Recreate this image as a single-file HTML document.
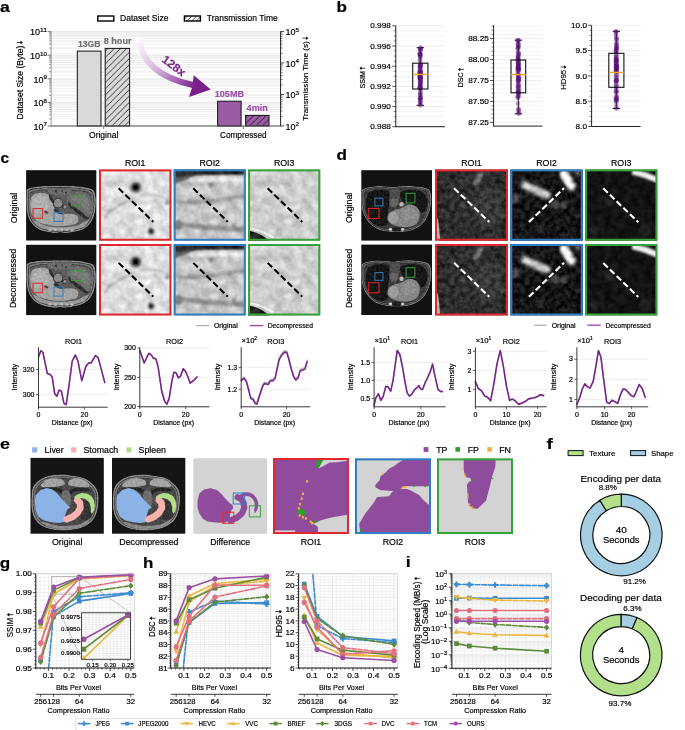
<!DOCTYPE html>
<html><head><meta charset="utf-8"><style>
html,body{margin:0;padding:0;background:#fff;}
svg{display:block;font-family:"Liberation Sans",sans-serif;filter:blur(0.3px);}
</style></head><body>
<svg width="685" height="730" viewBox="0 0 685 730">
<defs>
<pattern id="hatchB" patternUnits="userSpaceOnUse" width="6.26" height="6.26">
<path d="M-1,1 L1,-1 M0,6.26 L6.26,0 M5.26,7.26 L7.26,5.26" stroke="#111" stroke-width="0.8"/></pattern>
<pattern id="hatchW" patternUnits="userSpaceOnUse" width="4.6" height="4.6" x="0.5" y="0.5">
<rect width="4.6" height="4.6" fill="#fff"/><path d="M-1,1 L1,-1 M0,4.6 L4.6,0 M3.6,5.6 L5.6,3.6" stroke="#111" stroke-width="0.75"/></pattern>
<linearGradient id="arrG" gradientUnits="userSpaceOnUse" x1="136" y1="38" x2="195" y2="88">
<stop offset="0" stop-color="#ffffff"/><stop offset="0.45" stop-color="#d6b8dc"/><stop offset="1" stop-color="#7a1f8c"/></linearGradient>

<filter id="blur05" x="-10%" y="-10%" width="120%" height="120%"><feGaussianBlur stdDeviation="0.45"/></filter>
<filter id="nzCT" x="0" y="0" width="100%" height="100%" color-interpolation-filters="sRGB">
<feTurbulence type="fractalNoise" baseFrequency="0.45" numOctaves="2" seed="3" result="t"/>
<feColorMatrix in="t" type="matrix" values="1 0 0 0 0  1 0 0 0 0  1 0 0 0 0  0 0 0 0 1" result="g"/>
<feComposite in="SourceGraphic" in2="g" operator="arithmetic" k1="0" k2="1" k3="0.2" k4="-0.1" result="c"/>
<feComposite in="c" in2="SourceGraphic" operator="in"/></filter>
<filter id="nzL" x="0" y="0" width="100%" height="100%" color-interpolation-filters="sRGB">
<feTurbulence type="fractalNoise" baseFrequency="0.11" numOctaves="3" seed="5" result="t"/>
<feColorMatrix in="t" type="matrix" values="1 0 0 0 0  1 0 0 0 0  1 0 0 0 0  0 0 0 0 1" result="g"/>
<feComposite in="SourceGraphic" in2="g" operator="arithmetic" k1="0" k2="1" k3="0.32" k4="-0.16"/></filter>
<filter id="nzD" x="0" y="0" width="100%" height="100%" color-interpolation-filters="sRGB">
<feTurbulence type="fractalNoise" baseFrequency="0.2" numOctaves="3" seed="9" result="t"/>
<feColorMatrix in="t" type="matrix" values="1 0 0 0 0  1 0 0 0 0  1 0 0 0 0  0 0 0 0 1" result="g"/>
<feComposite in="SourceGraphic" in2="g" operator="arithmetic" k1="0" k2="1" k3="0.3" k4="-0.15"/></filter>
<filter id="blur06" x="-30%" y="-30%" width="160%" height="160%"><feGaussianBlur stdDeviation="0.6"/></filter>
<filter id="blur1" x="-30%" y="-30%" width="160%" height="160%"><feGaussianBlur stdDeviation="1.2"/></filter>
<filter id="noiseL" x="0" y="0" width="100%" height="100%"><feTurbulence type="fractalNoise" baseFrequency="0.35" numOctaves="2" seed="7"/>
<feColorMatrix type="matrix" values="0 0 0 0 0  0 0 0 0 0  0 0 0 0 0  0 0 0 -0.9 0.45"/></filter>

<filter id="blur15" x="-20%" y="-20%" width="140%" height="140%"><feGaussianBlur stdDeviation="1.8"/></filter>
<filter id="nzD3" x="0" y="0" width="100%" height="100%" color-interpolation-filters="sRGB">
<feTurbulence type="fractalNoise" baseFrequency="0.15" numOctaves="2" seed="4" result="t"/>
<feColorMatrix in="t" type="matrix" values="1 0 0 0 0  1 0 0 0 0  1 0 0 0 0  0 0 0 0 1" result="g"/>
<feComposite in="SourceGraphic" in2="g" operator="arithmetic" k1="0" k2="1" k3="0.14" k4="-0.07"/></filter>
<filter id="noiseD" x="0" y="0" width="100%" height="100%"><feTurbulence type="fractalNoise" baseFrequency="0.22" numOctaves="2" seed="11"/>
<feColorMatrix type="matrix" values="0 0 0 0 1  0 0 0 0 1  0 0 0 0 1  1.2 0 0 0 -0.55"/></filter>
</defs>
<rect width="685" height="730" fill="#fff"/>
<text x="0.00" y="11.80" font-size="15.40" font-weight="bold" stroke="#000" stroke-width="0.18" textLength="9.85" lengthAdjust="spacingAndGlyphs">a</text>
<rect x="97.80" y="16.00" width="16.00" height="5.00" fill="#fff" stroke="#000" stroke-width="1.4"/>
<text x="120.00" y="21.20" font-size="8.47" stroke="#000" stroke-width="0.18" textLength="48.41" lengthAdjust="spacingAndGlyphs">Dataset Size</text>
<rect x="184.40" y="16.00" width="16.00" height="5.00" fill="url(#hatchW)" stroke="#000" stroke-width="1.4"/>
<text x="206.80" y="21.20" font-size="8.47" stroke="#000" stroke-width="0.18" textLength="71.03" lengthAdjust="spacingAndGlyphs">Transmission Time</text>
<line x1="51.10" y1="126.00" x2="280.60" y2="126.00" stroke="#e2e2e2" stroke-width="0.8" />
<line x1="51.10" y1="118.90" x2="280.60" y2="118.90" stroke="#ebebeb" stroke-width="0.8" />
<line x1="51.10" y1="114.74" x2="280.60" y2="114.74" stroke="#ebebeb" stroke-width="0.8" />
<line x1="51.10" y1="111.79" x2="280.60" y2="111.79" stroke="#ebebeb" stroke-width="0.8" />
<line x1="51.10" y1="109.50" x2="280.60" y2="109.50" stroke="#ebebeb" stroke-width="0.8" />
<line x1="51.10" y1="107.64" x2="280.60" y2="107.64" stroke="#ebebeb" stroke-width="0.8" />
<line x1="51.10" y1="106.06" x2="280.60" y2="106.06" stroke="#ebebeb" stroke-width="0.8" />
<line x1="51.10" y1="104.69" x2="280.60" y2="104.69" stroke="#ebebeb" stroke-width="0.8" />
<line x1="51.10" y1="103.48" x2="280.60" y2="103.48" stroke="#ebebeb" stroke-width="0.8" />
<line x1="51.10" y1="102.40" x2="280.60" y2="102.40" stroke="#e2e2e2" stroke-width="0.8" />
<line x1="51.10" y1="95.30" x2="280.60" y2="95.30" stroke="#ebebeb" stroke-width="0.8" />
<line x1="51.10" y1="91.14" x2="280.60" y2="91.14" stroke="#ebebeb" stroke-width="0.8" />
<line x1="51.10" y1="88.19" x2="280.60" y2="88.19" stroke="#ebebeb" stroke-width="0.8" />
<line x1="51.10" y1="85.90" x2="280.60" y2="85.90" stroke="#ebebeb" stroke-width="0.8" />
<line x1="51.10" y1="84.04" x2="280.60" y2="84.04" stroke="#ebebeb" stroke-width="0.8" />
<line x1="51.10" y1="82.46" x2="280.60" y2="82.46" stroke="#ebebeb" stroke-width="0.8" />
<line x1="51.10" y1="81.09" x2="280.60" y2="81.09" stroke="#ebebeb" stroke-width="0.8" />
<line x1="51.10" y1="79.88" x2="280.60" y2="79.88" stroke="#ebebeb" stroke-width="0.8" />
<line x1="51.10" y1="78.80" x2="280.60" y2="78.80" stroke="#e2e2e2" stroke-width="0.8" />
<line x1="51.10" y1="71.70" x2="280.60" y2="71.70" stroke="#ebebeb" stroke-width="0.8" />
<line x1="51.10" y1="67.54" x2="280.60" y2="67.54" stroke="#ebebeb" stroke-width="0.8" />
<line x1="51.10" y1="64.59" x2="280.60" y2="64.59" stroke="#ebebeb" stroke-width="0.8" />
<line x1="51.10" y1="62.30" x2="280.60" y2="62.30" stroke="#ebebeb" stroke-width="0.8" />
<line x1="51.10" y1="60.44" x2="280.60" y2="60.44" stroke="#ebebeb" stroke-width="0.8" />
<line x1="51.10" y1="58.86" x2="280.60" y2="58.86" stroke="#ebebeb" stroke-width="0.8" />
<line x1="51.10" y1="57.49" x2="280.60" y2="57.49" stroke="#ebebeb" stroke-width="0.8" />
<line x1="51.10" y1="56.28" x2="280.60" y2="56.28" stroke="#ebebeb" stroke-width="0.8" />
<line x1="51.10" y1="55.20" x2="280.60" y2="55.20" stroke="#e2e2e2" stroke-width="0.8" />
<line x1="51.10" y1="48.10" x2="280.60" y2="48.10" stroke="#ebebeb" stroke-width="0.8" />
<line x1="51.10" y1="43.94" x2="280.60" y2="43.94" stroke="#ebebeb" stroke-width="0.8" />
<line x1="51.10" y1="40.99" x2="280.60" y2="40.99" stroke="#ebebeb" stroke-width="0.8" />
<line x1="51.10" y1="38.70" x2="280.60" y2="38.70" stroke="#ebebeb" stroke-width="0.8" />
<line x1="51.10" y1="36.84" x2="280.60" y2="36.84" stroke="#ebebeb" stroke-width="0.8" />
<line x1="51.10" y1="35.26" x2="280.60" y2="35.26" stroke="#ebebeb" stroke-width="0.8" />
<line x1="51.10" y1="33.89" x2="280.60" y2="33.89" stroke="#ebebeb" stroke-width="0.8" />
<line x1="51.10" y1="32.68" x2="280.60" y2="32.68" stroke="#ebebeb" stroke-width="0.8" />
<line x1="51.10" y1="126.00" x2="280.60" y2="126.00" stroke="#efefef" stroke-width="0.7" />
<line x1="51.10" y1="116.52" x2="280.60" y2="116.52" stroke="#efefef" stroke-width="0.7" />
<line x1="51.10" y1="110.97" x2="280.60" y2="110.97" stroke="#efefef" stroke-width="0.7" />
<line x1="51.10" y1="107.04" x2="280.60" y2="107.04" stroke="#efefef" stroke-width="0.7" />
<line x1="51.10" y1="103.98" x2="280.60" y2="103.98" stroke="#efefef" stroke-width="0.7" />
<line x1="51.10" y1="101.49" x2="280.60" y2="101.49" stroke="#efefef" stroke-width="0.7" />
<line x1="51.10" y1="99.38" x2="280.60" y2="99.38" stroke="#efefef" stroke-width="0.7" />
<line x1="51.10" y1="97.55" x2="280.60" y2="97.55" stroke="#efefef" stroke-width="0.7" />
<line x1="51.10" y1="95.94" x2="280.60" y2="95.94" stroke="#efefef" stroke-width="0.7" />
<line x1="51.10" y1="94.50" x2="280.60" y2="94.50" stroke="#efefef" stroke-width="0.7" />
<line x1="51.10" y1="85.02" x2="280.60" y2="85.02" stroke="#efefef" stroke-width="0.7" />
<line x1="51.10" y1="79.47" x2="280.60" y2="79.47" stroke="#efefef" stroke-width="0.7" />
<line x1="51.10" y1="75.54" x2="280.60" y2="75.54" stroke="#efefef" stroke-width="0.7" />
<line x1="51.10" y1="72.48" x2="280.60" y2="72.48" stroke="#efefef" stroke-width="0.7" />
<line x1="51.10" y1="69.99" x2="280.60" y2="69.99" stroke="#efefef" stroke-width="0.7" />
<line x1="51.10" y1="67.88" x2="280.60" y2="67.88" stroke="#efefef" stroke-width="0.7" />
<line x1="51.10" y1="66.05" x2="280.60" y2="66.05" stroke="#efefef" stroke-width="0.7" />
<line x1="51.10" y1="64.44" x2="280.60" y2="64.44" stroke="#efefef" stroke-width="0.7" />
<line x1="51.10" y1="63.00" x2="280.60" y2="63.00" stroke="#efefef" stroke-width="0.7" />
<line x1="51.10" y1="53.52" x2="280.60" y2="53.52" stroke="#efefef" stroke-width="0.7" />
<line x1="51.10" y1="47.97" x2="280.60" y2="47.97" stroke="#efefef" stroke-width="0.7" />
<line x1="51.10" y1="44.04" x2="280.60" y2="44.04" stroke="#efefef" stroke-width="0.7" />
<line x1="51.10" y1="40.98" x2="280.60" y2="40.98" stroke="#efefef" stroke-width="0.7" />
<line x1="51.10" y1="38.49" x2="280.60" y2="38.49" stroke="#efefef" stroke-width="0.7" />
<line x1="51.10" y1="36.38" x2="280.60" y2="36.38" stroke="#efefef" stroke-width="0.7" />
<line x1="51.10" y1="34.55" x2="280.60" y2="34.55" stroke="#efefef" stroke-width="0.7" />
<line x1="51.10" y1="32.94" x2="280.60" y2="32.94" stroke="#efefef" stroke-width="0.7" />
<line x1="51.10" y1="31.50" x2="280.60" y2="31.50" stroke="#e2e2e2" stroke-width="0.8" />
<rect x="77.30" y="51.10" width="23.70" height="74.90" fill="#d9d9d9" stroke="#111" stroke-width="1"/>
<rect x="105.20" y="48.40" width="24.40" height="77.60" fill="#d9d9d9" stroke="none" stroke-width="1"/>
<rect x="105.20" y="48.40" width="24.40" height="77.60" fill="url(#hatchB)" stroke="#111" stroke-width="1"/>
<rect x="217.60" y="101.20" width="23.50" height="24.80" fill="#9b5ba5" stroke="#111" stroke-width="1"/>
<rect x="245.60" y="115.40" width="23.40" height="10.60" fill="#9b5ba5" stroke="none" stroke-width="1"/>
<rect x="245.60" y="115.40" width="23.40" height="10.60" fill="url(#hatchB)" stroke="#111" stroke-width="1"/>
<line x1="51.10" y1="31.50" x2="51.10" y2="126.00" stroke="#999" stroke-width="1" />
<line x1="50.60" y1="126.00" x2="281.10" y2="126.00" stroke="#555" stroke-width="1" />
<line x1="280.60" y1="31.50" x2="280.60" y2="126.00" stroke="#222" stroke-width="1" />
<line x1="47.60" y1="126.00" x2="51.10" y2="126.00" stroke="#555" stroke-width="0.8" />
<text x="33.43" y="129.80" font-size="8.69" stroke="#000" stroke-width="0.18" textLength="10.05" lengthAdjust="spacingAndGlyphs">10</text><text x="43.48" y="126.48" font-size="6.08" stroke="#000" stroke-width="0.18" textLength="3.52" lengthAdjust="spacingAndGlyphs">7</text>
<line x1="49.10" y1="118.90" x2="51.10" y2="118.90" stroke="#666" stroke-width="0.6" />
<line x1="49.10" y1="114.74" x2="51.10" y2="114.74" stroke="#666" stroke-width="0.6" />
<line x1="49.10" y1="111.79" x2="51.10" y2="111.79" stroke="#666" stroke-width="0.6" />
<line x1="49.10" y1="109.50" x2="51.10" y2="109.50" stroke="#666" stroke-width="0.6" />
<line x1="49.10" y1="107.64" x2="51.10" y2="107.64" stroke="#666" stroke-width="0.6" />
<line x1="49.10" y1="106.06" x2="51.10" y2="106.06" stroke="#666" stroke-width="0.6" />
<line x1="49.10" y1="104.69" x2="51.10" y2="104.69" stroke="#666" stroke-width="0.6" />
<line x1="49.10" y1="103.48" x2="51.10" y2="103.48" stroke="#666" stroke-width="0.6" />
<line x1="47.60" y1="102.40" x2="51.10" y2="102.40" stroke="#555" stroke-width="0.8" />
<text x="33.43" y="106.20" font-size="8.69" stroke="#000" stroke-width="0.18" textLength="10.05" lengthAdjust="spacingAndGlyphs">10</text><text x="43.48" y="102.88" font-size="6.08" stroke="#000" stroke-width="0.18" textLength="3.52" lengthAdjust="spacingAndGlyphs">8</text>
<line x1="49.10" y1="95.30" x2="51.10" y2="95.30" stroke="#666" stroke-width="0.6" />
<line x1="49.10" y1="91.14" x2="51.10" y2="91.14" stroke="#666" stroke-width="0.6" />
<line x1="49.10" y1="88.19" x2="51.10" y2="88.19" stroke="#666" stroke-width="0.6" />
<line x1="49.10" y1="85.90" x2="51.10" y2="85.90" stroke="#666" stroke-width="0.6" />
<line x1="49.10" y1="84.04" x2="51.10" y2="84.04" stroke="#666" stroke-width="0.6" />
<line x1="49.10" y1="82.46" x2="51.10" y2="82.46" stroke="#666" stroke-width="0.6" />
<line x1="49.10" y1="81.09" x2="51.10" y2="81.09" stroke="#666" stroke-width="0.6" />
<line x1="49.10" y1="79.88" x2="51.10" y2="79.88" stroke="#666" stroke-width="0.6" />
<line x1="47.60" y1="78.80" x2="51.10" y2="78.80" stroke="#555" stroke-width="0.8" />
<text x="33.43" y="82.60" font-size="8.69" stroke="#000" stroke-width="0.18" textLength="10.05" lengthAdjust="spacingAndGlyphs">10</text><text x="43.48" y="79.28" font-size="6.08" stroke="#000" stroke-width="0.18" textLength="3.52" lengthAdjust="spacingAndGlyphs">9</text>
<line x1="49.10" y1="71.70" x2="51.10" y2="71.70" stroke="#666" stroke-width="0.6" />
<line x1="49.10" y1="67.54" x2="51.10" y2="67.54" stroke="#666" stroke-width="0.6" />
<line x1="49.10" y1="64.59" x2="51.10" y2="64.59" stroke="#666" stroke-width="0.6" />
<line x1="49.10" y1="62.30" x2="51.10" y2="62.30" stroke="#666" stroke-width="0.6" />
<line x1="49.10" y1="60.44" x2="51.10" y2="60.44" stroke="#666" stroke-width="0.6" />
<line x1="49.10" y1="58.86" x2="51.10" y2="58.86" stroke="#666" stroke-width="0.6" />
<line x1="49.10" y1="57.49" x2="51.10" y2="57.49" stroke="#666" stroke-width="0.6" />
<line x1="49.10" y1="56.28" x2="51.10" y2="56.28" stroke="#666" stroke-width="0.6" />
<line x1="47.60" y1="55.20" x2="51.10" y2="55.20" stroke="#555" stroke-width="0.8" />
<text x="29.91" y="59.00" font-size="8.69" stroke="#000" stroke-width="0.18" textLength="10.05" lengthAdjust="spacingAndGlyphs">10</text><text x="39.96" y="55.68" font-size="6.08" stroke="#000" stroke-width="0.18" textLength="7.04" lengthAdjust="spacingAndGlyphs">10</text>
<line x1="49.10" y1="48.10" x2="51.10" y2="48.10" stroke="#666" stroke-width="0.6" />
<line x1="49.10" y1="43.94" x2="51.10" y2="43.94" stroke="#666" stroke-width="0.6" />
<line x1="49.10" y1="40.99" x2="51.10" y2="40.99" stroke="#666" stroke-width="0.6" />
<line x1="49.10" y1="38.70" x2="51.10" y2="38.70" stroke="#666" stroke-width="0.6" />
<line x1="49.10" y1="36.84" x2="51.10" y2="36.84" stroke="#666" stroke-width="0.6" />
<line x1="49.10" y1="35.26" x2="51.10" y2="35.26" stroke="#666" stroke-width="0.6" />
<line x1="49.10" y1="33.89" x2="51.10" y2="33.89" stroke="#666" stroke-width="0.6" />
<line x1="49.10" y1="32.68" x2="51.10" y2="32.68" stroke="#666" stroke-width="0.6" />
<line x1="47.60" y1="31.60" x2="51.10" y2="31.60" stroke="#555" stroke-width="0.8" />
<text x="29.91" y="35.40" font-size="8.69" stroke="#000" stroke-width="0.18" textLength="10.05" lengthAdjust="spacingAndGlyphs">10</text><text x="39.96" y="32.08" font-size="6.08" stroke="#000" stroke-width="0.18" textLength="7.04" lengthAdjust="spacingAndGlyphs">11</text>
<line x1="280.60" y1="126.00" x2="284.10" y2="126.00" stroke="#222" stroke-width="0.8" />
<text x="285.50" y="129.80" font-size="8.69" stroke="#000" stroke-width="0.18" textLength="10.05" lengthAdjust="spacingAndGlyphs">10</text><text x="295.55" y="126.48" font-size="6.08" stroke="#000" stroke-width="0.18" textLength="3.52" lengthAdjust="spacingAndGlyphs">2</text>
<line x1="280.60" y1="116.52" x2="282.60" y2="116.52" stroke="#333" stroke-width="0.6" />
<line x1="280.60" y1="110.97" x2="282.60" y2="110.97" stroke="#333" stroke-width="0.6" />
<line x1="280.60" y1="107.04" x2="282.60" y2="107.04" stroke="#333" stroke-width="0.6" />
<line x1="280.60" y1="103.98" x2="282.60" y2="103.98" stroke="#333" stroke-width="0.6" />
<line x1="280.60" y1="101.49" x2="282.60" y2="101.49" stroke="#333" stroke-width="0.6" />
<line x1="280.60" y1="99.38" x2="282.60" y2="99.38" stroke="#333" stroke-width="0.6" />
<line x1="280.60" y1="97.55" x2="282.60" y2="97.55" stroke="#333" stroke-width="0.6" />
<line x1="280.60" y1="95.94" x2="282.60" y2="95.94" stroke="#333" stroke-width="0.6" />
<line x1="280.60" y1="94.50" x2="284.10" y2="94.50" stroke="#222" stroke-width="0.8" />
<text x="285.50" y="98.30" font-size="8.69" stroke="#000" stroke-width="0.18" textLength="10.05" lengthAdjust="spacingAndGlyphs">10</text><text x="295.55" y="94.98" font-size="6.08" stroke="#000" stroke-width="0.18" textLength="3.52" lengthAdjust="spacingAndGlyphs">3</text>
<line x1="280.60" y1="85.02" x2="282.60" y2="85.02" stroke="#333" stroke-width="0.6" />
<line x1="280.60" y1="79.47" x2="282.60" y2="79.47" stroke="#333" stroke-width="0.6" />
<line x1="280.60" y1="75.54" x2="282.60" y2="75.54" stroke="#333" stroke-width="0.6" />
<line x1="280.60" y1="72.48" x2="282.60" y2="72.48" stroke="#333" stroke-width="0.6" />
<line x1="280.60" y1="69.99" x2="282.60" y2="69.99" stroke="#333" stroke-width="0.6" />
<line x1="280.60" y1="67.88" x2="282.60" y2="67.88" stroke="#333" stroke-width="0.6" />
<line x1="280.60" y1="66.05" x2="282.60" y2="66.05" stroke="#333" stroke-width="0.6" />
<line x1="280.60" y1="64.44" x2="282.60" y2="64.44" stroke="#333" stroke-width="0.6" />
<line x1="280.60" y1="63.00" x2="284.10" y2="63.00" stroke="#222" stroke-width="0.8" />
<text x="285.50" y="66.80" font-size="8.69" stroke="#000" stroke-width="0.18" textLength="10.05" lengthAdjust="spacingAndGlyphs">10</text><text x="295.55" y="63.48" font-size="6.08" stroke="#000" stroke-width="0.18" textLength="3.52" lengthAdjust="spacingAndGlyphs">4</text>
<line x1="280.60" y1="53.52" x2="282.60" y2="53.52" stroke="#333" stroke-width="0.6" />
<line x1="280.60" y1="47.97" x2="282.60" y2="47.97" stroke="#333" stroke-width="0.6" />
<line x1="280.60" y1="44.04" x2="282.60" y2="44.04" stroke="#333" stroke-width="0.6" />
<line x1="280.60" y1="40.98" x2="282.60" y2="40.98" stroke="#333" stroke-width="0.6" />
<line x1="280.60" y1="38.49" x2="282.60" y2="38.49" stroke="#333" stroke-width="0.6" />
<line x1="280.60" y1="36.38" x2="282.60" y2="36.38" stroke="#333" stroke-width="0.6" />
<line x1="280.60" y1="34.55" x2="282.60" y2="34.55" stroke="#333" stroke-width="0.6" />
<line x1="280.60" y1="32.94" x2="282.60" y2="32.94" stroke="#333" stroke-width="0.6" />
<line x1="280.60" y1="31.50" x2="284.10" y2="31.50" stroke="#222" stroke-width="0.8" />
<text x="285.50" y="35.30" font-size="8.69" stroke="#000" stroke-width="0.18" textLength="10.05" lengthAdjust="spacingAndGlyphs">10</text><text x="295.55" y="31.98" font-size="6.08" stroke="#000" stroke-width="0.18" textLength="3.52" lengthAdjust="spacingAndGlyphs">5</text>
<line x1="103.70" y1="126.00" x2="103.70" y2="129.00" stroke="#555" stroke-width="0.8" />
<line x1="243.30" y1="126.00" x2="243.30" y2="129.00" stroke="#555" stroke-width="0.8" />
<text x="103.70" y="137.80" font-size="8.25" text-anchor="middle" stroke="#000" stroke-width="0.18" textLength="29.35" lengthAdjust="spacingAndGlyphs">Original</text>
<text x="243.30" y="137.80" font-size="8.25" text-anchor="middle" stroke="#000" stroke-width="0.18" textLength="46.62" lengthAdjust="spacingAndGlyphs">Compressed</text>
<text x="89.30" y="47.30" font-size="8.36" text-anchor="middle" font-weight="bold" fill="#707070" stroke="#707070" stroke-width="0.18" textLength="22.61" lengthAdjust="spacingAndGlyphs">13GB</text>
<text x="117.60" y="44.40" font-size="8.36" text-anchor="middle" font-weight="bold" fill="#707070" stroke="#707070" stroke-width="0.18" textLength="27.72" lengthAdjust="spacingAndGlyphs">8 hour</text>
<text x="229.40" y="97.40" font-size="8.36" text-anchor="middle" font-weight="bold" fill="#9c4fae" stroke="#9c4fae" stroke-width="0.18" textLength="29.22" lengthAdjust="spacingAndGlyphs">105MB</text>
<text x="257.20" y="110.60" font-size="8.36" text-anchor="middle" font-weight="bold" fill="#9c4fae" stroke="#9c4fae" stroke-width="0.18" textLength="21.22" lengthAdjust="spacingAndGlyphs">4min</text>
<g transform="translate(22.50 79.40) rotate(-90)"><text x="-40.10" y="0" font-size="8.40" stroke="#000" stroke-width="0.18" textLength="73.80" lengthAdjust="spacingAndGlyphs">Dataset Size (Byte)</text><path d="M36.90,-5.80 V-1.01" stroke="#000" stroke-width="0.76"/><path d="M35.07,-1.98 L36.90,0.46 L38.73,-1.98 Z" fill="#000"/></g>
<g transform="translate(308.00 77.90) rotate(-90)"><text x="-42.80" y="0" font-size="8.06" stroke="#000" stroke-width="0.18" textLength="79.46" lengthAdjust="spacingAndGlyphs">Transmission Time (s)</text><path d="M39.73,-5.57 V-0.97" stroke="#000" stroke-width="0.73"/><path d="M37.97,-1.91 L39.73,0.44 L41.49,-1.91 Z" fill="#000"/></g>
<path d="M138.5,37 C141,62 160,78 193,85" fill="none" stroke="url(#arrG)" stroke-width="6.2"/>
<polygon points="193.70,75.20 210.80,89.60 189.00,96.90 192.50,86.00" fill="#7a1f8c"/>
<text x="171.50" y="69.00" font-size="11.55" text-anchor="middle" fill="#7b2a8e" stroke="#7b2a8e" stroke-width="0.18" textLength="26.26" lengthAdjust="spacingAndGlyphs" transform="rotate(37 171.50 69.00)" font-weight="600">128x</text>
<text x="336.40" y="12.40" font-size="15.40" font-weight="bold" stroke="#000" stroke-width="0.18" textLength="10.45" lengthAdjust="spacingAndGlyphs">b</text>
<line x1="395.80" y1="126.70" x2="445.00" y2="126.70" stroke="#e4e4e4" stroke-width="0.7" />
<line x1="392.30" y1="126.70" x2="395.80" y2="126.70" stroke="#222" stroke-width="0.8" />
<text x="390.80" y="129.30" font-size="7.92" text-anchor="end" stroke="#000" stroke-width="0.18" textLength="20.61" lengthAdjust="spacingAndGlyphs">0.988</text>
<line x1="395.80" y1="121.65" x2="445.00" y2="121.65" stroke="#efefef" stroke-width="0.7" />
<line x1="393.80" y1="121.65" x2="395.80" y2="121.65" stroke="#222" stroke-width="0.6" />
<line x1="395.80" y1="116.61" x2="445.00" y2="116.61" stroke="#efefef" stroke-width="0.7" />
<line x1="393.80" y1="116.61" x2="395.80" y2="116.61" stroke="#222" stroke-width="0.6" />
<line x1="395.80" y1="111.56" x2="445.00" y2="111.56" stroke="#efefef" stroke-width="0.7" />
<line x1="393.80" y1="111.56" x2="395.80" y2="111.56" stroke="#222" stroke-width="0.6" />
<line x1="395.80" y1="106.52" x2="445.00" y2="106.52" stroke="#e4e4e4" stroke-width="0.7" />
<line x1="392.30" y1="106.52" x2="395.80" y2="106.52" stroke="#222" stroke-width="0.8" />
<text x="390.80" y="109.12" font-size="7.92" text-anchor="end" stroke="#000" stroke-width="0.18" textLength="20.61" lengthAdjust="spacingAndGlyphs">0.990</text>
<line x1="395.80" y1="101.47" x2="445.00" y2="101.47" stroke="#efefef" stroke-width="0.7" />
<line x1="393.80" y1="101.47" x2="395.80" y2="101.47" stroke="#222" stroke-width="0.6" />
<line x1="395.80" y1="96.43" x2="445.00" y2="96.43" stroke="#efefef" stroke-width="0.7" />
<line x1="393.80" y1="96.43" x2="395.80" y2="96.43" stroke="#222" stroke-width="0.6" />
<line x1="395.80" y1="91.38" x2="445.00" y2="91.38" stroke="#efefef" stroke-width="0.7" />
<line x1="393.80" y1="91.38" x2="395.80" y2="91.38" stroke="#222" stroke-width="0.6" />
<line x1="395.80" y1="86.34" x2="445.00" y2="86.34" stroke="#e4e4e4" stroke-width="0.7" />
<line x1="392.30" y1="86.34" x2="395.80" y2="86.34" stroke="#222" stroke-width="0.8" />
<text x="390.80" y="88.94" font-size="7.92" text-anchor="end" stroke="#000" stroke-width="0.18" textLength="20.61" lengthAdjust="spacingAndGlyphs">0.992</text>
<line x1="395.80" y1="81.29" x2="445.00" y2="81.29" stroke="#efefef" stroke-width="0.7" />
<line x1="393.80" y1="81.29" x2="395.80" y2="81.29" stroke="#222" stroke-width="0.6" />
<line x1="395.80" y1="76.25" x2="445.00" y2="76.25" stroke="#efefef" stroke-width="0.7" />
<line x1="393.80" y1="76.25" x2="395.80" y2="76.25" stroke="#222" stroke-width="0.6" />
<line x1="395.80" y1="71.20" x2="445.00" y2="71.20" stroke="#efefef" stroke-width="0.7" />
<line x1="393.80" y1="71.20" x2="395.80" y2="71.20" stroke="#222" stroke-width="0.6" />
<line x1="395.80" y1="66.16" x2="445.00" y2="66.16" stroke="#e4e4e4" stroke-width="0.7" />
<line x1="392.30" y1="66.16" x2="395.80" y2="66.16" stroke="#222" stroke-width="0.8" />
<text x="390.80" y="68.76" font-size="7.92" text-anchor="end" stroke="#000" stroke-width="0.18" textLength="20.61" lengthAdjust="spacingAndGlyphs">0.994</text>
<line x1="395.80" y1="61.11" x2="445.00" y2="61.11" stroke="#efefef" stroke-width="0.7" />
<line x1="393.80" y1="61.11" x2="395.80" y2="61.11" stroke="#222" stroke-width="0.6" />
<line x1="395.80" y1="56.07" x2="445.00" y2="56.07" stroke="#efefef" stroke-width="0.7" />
<line x1="393.80" y1="56.07" x2="395.80" y2="56.07" stroke="#222" stroke-width="0.6" />
<line x1="395.80" y1="51.02" x2="445.00" y2="51.02" stroke="#efefef" stroke-width="0.7" />
<line x1="393.80" y1="51.02" x2="395.80" y2="51.02" stroke="#222" stroke-width="0.6" />
<line x1="395.80" y1="45.98" x2="445.00" y2="45.98" stroke="#e4e4e4" stroke-width="0.7" />
<line x1="392.30" y1="45.98" x2="395.80" y2="45.98" stroke="#222" stroke-width="0.8" />
<text x="390.80" y="48.58" font-size="7.92" text-anchor="end" stroke="#000" stroke-width="0.18" textLength="20.61" lengthAdjust="spacingAndGlyphs">0.996</text>
<line x1="395.80" y1="40.93" x2="445.00" y2="40.93" stroke="#efefef" stroke-width="0.7" />
<line x1="393.80" y1="40.93" x2="395.80" y2="40.93" stroke="#222" stroke-width="0.6" />
<line x1="395.80" y1="35.89" x2="445.00" y2="35.89" stroke="#efefef" stroke-width="0.7" />
<line x1="393.80" y1="35.89" x2="395.80" y2="35.89" stroke="#222" stroke-width="0.6" />
<line x1="395.80" y1="30.84" x2="445.00" y2="30.84" stroke="#efefef" stroke-width="0.7" />
<line x1="393.80" y1="30.84" x2="395.80" y2="30.84" stroke="#222" stroke-width="0.6" />
<line x1="395.80" y1="25.80" x2="445.00" y2="25.80" stroke="#e4e4e4" stroke-width="0.7" />
<line x1="392.30" y1="25.80" x2="395.80" y2="25.80" stroke="#222" stroke-width="0.8" />
<text x="390.80" y="28.40" font-size="7.92" text-anchor="end" stroke="#000" stroke-width="0.18" textLength="20.61" lengthAdjust="spacingAndGlyphs">0.998</text>
<line x1="395.80" y1="25.80" x2="395.80" y2="126.70" stroke="#222" stroke-width="1" />
<line x1="395.30" y1="126.70" x2="445.00" y2="126.70" stroke="#222" stroke-width="1" />
<g transform="translate(364.80 76.90) rotate(-90)"><text x="-11.59" y="0" font-size="7.81" stroke="#000" stroke-width="0.18" textLength="17.23" lengthAdjust="spacingAndGlyphs">SSIM</text><path d="M8.62,0.43 V-4.03" stroke="#000" stroke-width="0.71"/><path d="M6.91,-3.12 L8.62,-5.40 L10.32,-3.12 Z" fill="#000"/></g>
<line x1="420.30" y1="47.70" x2="420.30" y2="63.20" stroke="#111" stroke-width="1" />
<line x1="420.30" y1="89.00" x2="420.30" y2="105.30" stroke="#111" stroke-width="1" />
<line x1="416.60" y1="47.70" x2="424.00" y2="47.70" stroke="#111" stroke-width="1" />
<line x1="416.60" y1="105.30" x2="424.00" y2="105.30" stroke="#111" stroke-width="1" />
<circle cx="420.61" cy="47.70" r="2.40" fill="#5a1276" fill-opacity="0.36"/>
<circle cx="420.32" cy="105.30" r="2.40" fill="#5a1276" fill-opacity="0.36"/>
<circle cx="420.36" cy="48.70" r="2.40" fill="#5a1276" fill-opacity="0.36"/>
<circle cx="420.23" cy="104.30" r="2.40" fill="#5a1276" fill-opacity="0.36"/>
<circle cx="419.86" cy="99.02" r="2.40" fill="#5a1276" fill-opacity="0.36"/>
<circle cx="420.67" cy="102.10" r="2.40" fill="#5a1276" fill-opacity="0.36"/>
<circle cx="420.37" cy="75.67" r="2.40" fill="#5a1276" fill-opacity="0.36"/>
<circle cx="420.00" cy="59.79" r="2.40" fill="#5a1276" fill-opacity="0.36"/>
<circle cx="420.30" cy="53.53" r="2.40" fill="#5a1276" fill-opacity="0.36"/>
<circle cx="420.28" cy="75.00" r="2.40" fill="#5a1276" fill-opacity="0.36"/>
<circle cx="420.16" cy="54.87" r="2.40" fill="#5a1276" fill-opacity="0.36"/>
<circle cx="420.15" cy="78.21" r="2.40" fill="#5a1276" fill-opacity="0.36"/>
<circle cx="420.34" cy="76.95" r="2.40" fill="#5a1276" fill-opacity="0.36"/>
<circle cx="420.42" cy="84.84" r="2.40" fill="#5a1276" fill-opacity="0.36"/>
<circle cx="420.41" cy="56.93" r="2.40" fill="#5a1276" fill-opacity="0.36"/>
<circle cx="420.26" cy="74.50" r="2.40" fill="#5a1276" fill-opacity="0.36"/>
<circle cx="419.83" cy="73.16" r="2.40" fill="#5a1276" fill-opacity="0.36"/>
<circle cx="420.03" cy="84.68" r="2.40" fill="#5a1276" fill-opacity="0.36"/>
<circle cx="419.98" cy="80.53" r="2.40" fill="#5a1276" fill-opacity="0.36"/>
<circle cx="420.38" cy="78.28" r="2.40" fill="#5a1276" fill-opacity="0.36"/>
<circle cx="420.66" cy="71.63" r="2.40" fill="#5a1276" fill-opacity="0.36"/>
<circle cx="420.60" cy="97.96" r="2.40" fill="#5a1276" fill-opacity="0.36"/>
<circle cx="420.60" cy="78.20" r="2.40" fill="#5a1276" fill-opacity="0.36"/>
<circle cx="420.62" cy="91.77" r="2.40" fill="#5a1276" fill-opacity="0.36"/>
<circle cx="420.06" cy="67.41" r="2.40" fill="#5a1276" fill-opacity="0.36"/>
<circle cx="420.64" cy="78.57" r="2.40" fill="#5a1276" fill-opacity="0.36"/>
<circle cx="420.47" cy="93.98" r="2.40" fill="#5a1276" fill-opacity="0.36"/>
<circle cx="419.88" cy="87.71" r="2.40" fill="#5a1276" fill-opacity="0.36"/>
<circle cx="419.82" cy="76.86" r="2.40" fill="#5a1276" fill-opacity="0.36"/>
<circle cx="419.81" cy="53.72" r="2.40" fill="#5a1276" fill-opacity="0.36"/>
<circle cx="420.56" cy="82.91" r="2.40" fill="#5a1276" fill-opacity="0.36"/>
<circle cx="420.05" cy="75.87" r="2.40" fill="#5a1276" fill-opacity="0.36"/>
<circle cx="419.91" cy="88.17" r="2.40" fill="#5a1276" fill-opacity="0.36"/>
<circle cx="420.42" cy="78.53" r="2.40" fill="#5a1276" fill-opacity="0.36"/>
<circle cx="420.14" cy="95.20" r="2.40" fill="#5a1276" fill-opacity="0.36"/>
<circle cx="419.87" cy="73.41" r="2.40" fill="#5a1276" fill-opacity="0.36"/>
<circle cx="419.96" cy="78.26" r="2.40" fill="#5a1276" fill-opacity="0.36"/>
<circle cx="420.33" cy="87.14" r="2.40" fill="#5a1276" fill-opacity="0.36"/>
<circle cx="419.97" cy="53.63" r="2.40" fill="#5a1276" fill-opacity="0.36"/>
<circle cx="420.07" cy="66.72" r="2.40" fill="#5a1276" fill-opacity="0.36"/>
<circle cx="420.51" cy="64.84" r="2.40" fill="#5a1276" fill-opacity="0.36"/>
<circle cx="420.25" cy="72.63" r="2.40" fill="#5a1276" fill-opacity="0.36"/>
<circle cx="420.12" cy="86.86" r="2.40" fill="#5a1276" fill-opacity="0.36"/>
<circle cx="420.27" cy="86.24" r="2.40" fill="#5a1276" fill-opacity="0.36"/>
<circle cx="419.82" cy="69.03" r="2.40" fill="#5a1276" fill-opacity="0.36"/>
<circle cx="420.19" cy="92.84" r="2.40" fill="#5a1276" fill-opacity="0.36"/>
<circle cx="420.22" cy="66.62" r="2.40" fill="#5a1276" fill-opacity="0.36"/>
<circle cx="419.99" cy="88.12" r="2.40" fill="#5a1276" fill-opacity="0.36"/>
<circle cx="419.91" cy="49.45" r="2.40" fill="#5a1276" fill-opacity="0.36"/>
<circle cx="420.70" cy="66.03" r="2.40" fill="#5a1276" fill-opacity="0.36"/>
<circle cx="420.31" cy="98.42" r="2.40" fill="#5a1276" fill-opacity="0.36"/>
<circle cx="420.01" cy="101.75" r="2.40" fill="#5a1276" fill-opacity="0.36"/>
<circle cx="420.41" cy="49.51" r="2.40" fill="#5a1276" fill-opacity="0.36"/>
<circle cx="420.62" cy="48.93" r="2.40" fill="#5a1276" fill-opacity="0.36"/>
<circle cx="419.82" cy="73.55" r="2.40" fill="#5a1276" fill-opacity="0.36"/>
<circle cx="419.82" cy="88.32" r="2.40" fill="#5a1276" fill-opacity="0.36"/>
<circle cx="419.95" cy="77.47" r="2.40" fill="#5a1276" fill-opacity="0.36"/>
<circle cx="420.52" cy="80.20" r="2.40" fill="#5a1276" fill-opacity="0.36"/>
<circle cx="419.96" cy="55.50" r="2.40" fill="#5a1276" fill-opacity="0.36"/>
<circle cx="420.50" cy="85.61" r="2.40" fill="#5a1276" fill-opacity="0.36"/>
<circle cx="420.48" cy="95.74" r="2.40" fill="#5a1276" fill-opacity="0.36"/>
<circle cx="420.34" cy="66.07" r="2.40" fill="#5a1276" fill-opacity="0.36"/>
<circle cx="420.02" cy="59.90" r="2.40" fill="#5a1276" fill-opacity="0.36"/>
<circle cx="420.78" cy="88.96" r="2.40" fill="#5a1276" fill-opacity="0.36"/>
<circle cx="420.60" cy="72.64" r="2.40" fill="#5a1276" fill-opacity="0.36"/>
<circle cx="420.32" cy="55.46" r="2.40" fill="#5a1276" fill-opacity="0.36"/>
<circle cx="420.02" cy="71.89" r="2.40" fill="#5a1276" fill-opacity="0.36"/>
<circle cx="420.45" cy="69.73" r="2.40" fill="#5a1276" fill-opacity="0.36"/>
<circle cx="420.19" cy="74.70" r="2.40" fill="#5a1276" fill-opacity="0.36"/>
<circle cx="420.38" cy="103.09" r="2.40" fill="#5a1276" fill-opacity="0.36"/>
<circle cx="420.12" cy="82.44" r="2.40" fill="#5a1276" fill-opacity="0.36"/>
<circle cx="420.43" cy="99.89" r="2.40" fill="#5a1276" fill-opacity="0.36"/>
<circle cx="419.86" cy="71.70" r="2.40" fill="#5a1276" fill-opacity="0.36"/>
<circle cx="420.10" cy="65.23" r="2.40" fill="#5a1276" fill-opacity="0.36"/>
<circle cx="420.77" cy="81.64" r="2.40" fill="#5a1276" fill-opacity="0.36"/>
<circle cx="420.68" cy="73.64" r="2.40" fill="#5a1276" fill-opacity="0.36"/>
<circle cx="420.11" cy="77.46" r="2.40" fill="#5a1276" fill-opacity="0.36"/>
<circle cx="420.66" cy="50.79" r="2.40" fill="#5a1276" fill-opacity="0.36"/>
<circle cx="420.11" cy="83.27" r="2.40" fill="#5a1276" fill-opacity="0.36"/>
<circle cx="420.74" cy="63.71" r="2.40" fill="#5a1276" fill-opacity="0.36"/>
<circle cx="420.54" cy="70.32" r="2.40" fill="#5a1276" fill-opacity="0.36"/>
<circle cx="420.22" cy="55.69" r="2.40" fill="#5a1276" fill-opacity="0.36"/>
<circle cx="420.05" cy="64.45" r="2.40" fill="#5a1276" fill-opacity="0.36"/>
<circle cx="419.81" cy="71.49" r="2.40" fill="#5a1276" fill-opacity="0.36"/>
<circle cx="420.68" cy="98.31" r="2.40" fill="#5a1276" fill-opacity="0.36"/>
<circle cx="419.84" cy="76.37" r="2.40" fill="#5a1276" fill-opacity="0.36"/>
<circle cx="420.62" cy="73.86" r="2.40" fill="#5a1276" fill-opacity="0.36"/>
<circle cx="420.76" cy="81.83" r="2.40" fill="#5a1276" fill-opacity="0.36"/>
<circle cx="420.37" cy="98.10" r="2.40" fill="#5a1276" fill-opacity="0.36"/>
<circle cx="419.97" cy="53.82" r="2.40" fill="#5a1276" fill-opacity="0.36"/>
<rect x="412.70" y="63.20" width="15.20" height="25.80" fill="none" stroke="#111" stroke-width="1.1"/>
<line x1="412.70" y1="74.40" x2="427.90" y2="74.40" stroke="#f5a623" stroke-width="1.4" />
<line x1="493.60" y1="122.41" x2="542.60" y2="122.41" stroke="#e4e4e4" stroke-width="0.7" />
<line x1="490.10" y1="122.41" x2="493.60" y2="122.41" stroke="#222" stroke-width="0.8" />
<text x="488.80" y="125.01" font-size="7.92" text-anchor="end" stroke="#000" stroke-width="0.18" textLength="20.61" lengthAdjust="spacingAndGlyphs">87.25</text>
<line x1="493.60" y1="118.22" x2="542.60" y2="118.22" stroke="#efefef" stroke-width="0.7" />
<line x1="491.60" y1="118.22" x2="493.60" y2="118.22" stroke="#222" stroke-width="0.6" />
<line x1="493.60" y1="114.03" x2="542.60" y2="114.03" stroke="#efefef" stroke-width="0.7" />
<line x1="491.60" y1="114.03" x2="493.60" y2="114.03" stroke="#222" stroke-width="0.6" />
<line x1="493.60" y1="109.84" x2="542.60" y2="109.84" stroke="#efefef" stroke-width="0.7" />
<line x1="491.60" y1="109.84" x2="493.60" y2="109.84" stroke="#222" stroke-width="0.6" />
<line x1="493.60" y1="105.66" x2="542.60" y2="105.66" stroke="#efefef" stroke-width="0.7" />
<line x1="491.60" y1="105.66" x2="493.60" y2="105.66" stroke="#222" stroke-width="0.6" />
<line x1="493.60" y1="101.47" x2="542.60" y2="101.47" stroke="#e4e4e4" stroke-width="0.7" />
<line x1="490.10" y1="101.47" x2="493.60" y2="101.47" stroke="#222" stroke-width="0.8" />
<text x="488.80" y="104.07" font-size="7.92" text-anchor="end" stroke="#000" stroke-width="0.18" textLength="20.61" lengthAdjust="spacingAndGlyphs">87.50</text>
<line x1="493.60" y1="97.28" x2="542.60" y2="97.28" stroke="#efefef" stroke-width="0.7" />
<line x1="491.60" y1="97.28" x2="493.60" y2="97.28" stroke="#222" stroke-width="0.6" />
<line x1="493.60" y1="93.09" x2="542.60" y2="93.09" stroke="#efefef" stroke-width="0.7" />
<line x1="491.60" y1="93.09" x2="493.60" y2="93.09" stroke="#222" stroke-width="0.6" />
<line x1="493.60" y1="88.90" x2="542.60" y2="88.90" stroke="#efefef" stroke-width="0.7" />
<line x1="491.60" y1="88.90" x2="493.60" y2="88.90" stroke="#222" stroke-width="0.6" />
<line x1="493.60" y1="84.71" x2="542.60" y2="84.71" stroke="#efefef" stroke-width="0.7" />
<line x1="491.60" y1="84.71" x2="493.60" y2="84.71" stroke="#222" stroke-width="0.6" />
<line x1="493.60" y1="80.52" x2="542.60" y2="80.52" stroke="#e4e4e4" stroke-width="0.7" />
<line x1="490.10" y1="80.52" x2="493.60" y2="80.52" stroke="#222" stroke-width="0.8" />
<text x="488.80" y="83.12" font-size="7.92" text-anchor="end" stroke="#000" stroke-width="0.18" textLength="20.61" lengthAdjust="spacingAndGlyphs">87.75</text>
<line x1="493.60" y1="76.33" x2="542.60" y2="76.33" stroke="#efefef" stroke-width="0.7" />
<line x1="491.60" y1="76.33" x2="493.60" y2="76.33" stroke="#222" stroke-width="0.6" />
<line x1="493.60" y1="72.14" x2="542.60" y2="72.14" stroke="#efefef" stroke-width="0.7" />
<line x1="491.60" y1="72.14" x2="493.60" y2="72.14" stroke="#222" stroke-width="0.6" />
<line x1="493.60" y1="67.95" x2="542.60" y2="67.95" stroke="#efefef" stroke-width="0.7" />
<line x1="491.60" y1="67.95" x2="493.60" y2="67.95" stroke="#222" stroke-width="0.6" />
<line x1="493.60" y1="63.76" x2="542.60" y2="63.76" stroke="#efefef" stroke-width="0.7" />
<line x1="491.60" y1="63.76" x2="493.60" y2="63.76" stroke="#222" stroke-width="0.6" />
<line x1="493.60" y1="59.57" x2="542.60" y2="59.57" stroke="#e4e4e4" stroke-width="0.7" />
<line x1="490.10" y1="59.57" x2="493.60" y2="59.57" stroke="#222" stroke-width="0.8" />
<text x="488.80" y="62.17" font-size="7.92" text-anchor="end" stroke="#000" stroke-width="0.18" textLength="20.61" lengthAdjust="spacingAndGlyphs">88.00</text>
<line x1="493.60" y1="55.38" x2="542.60" y2="55.38" stroke="#efefef" stroke-width="0.7" />
<line x1="491.60" y1="55.38" x2="493.60" y2="55.38" stroke="#222" stroke-width="0.6" />
<line x1="493.60" y1="51.19" x2="542.60" y2="51.19" stroke="#efefef" stroke-width="0.7" />
<line x1="491.60" y1="51.19" x2="493.60" y2="51.19" stroke="#222" stroke-width="0.6" />
<line x1="493.60" y1="47.00" x2="542.60" y2="47.00" stroke="#efefef" stroke-width="0.7" />
<line x1="491.60" y1="47.00" x2="493.60" y2="47.00" stroke="#222" stroke-width="0.6" />
<line x1="493.60" y1="42.81" x2="542.60" y2="42.81" stroke="#efefef" stroke-width="0.7" />
<line x1="491.60" y1="42.81" x2="493.60" y2="42.81" stroke="#222" stroke-width="0.6" />
<line x1="493.60" y1="38.62" x2="542.60" y2="38.62" stroke="#e4e4e4" stroke-width="0.7" />
<line x1="490.10" y1="38.62" x2="493.60" y2="38.62" stroke="#222" stroke-width="0.8" />
<text x="488.80" y="41.22" font-size="7.92" text-anchor="end" stroke="#000" stroke-width="0.18" textLength="20.61" lengthAdjust="spacingAndGlyphs">88.25</text>
<line x1="493.60" y1="34.43" x2="542.60" y2="34.43" stroke="#efefef" stroke-width="0.7" />
<line x1="491.60" y1="34.43" x2="493.60" y2="34.43" stroke="#222" stroke-width="0.6" />
<line x1="493.60" y1="30.24" x2="542.60" y2="30.24" stroke="#efefef" stroke-width="0.7" />
<line x1="491.60" y1="30.24" x2="493.60" y2="30.24" stroke="#222" stroke-width="0.6" />
<line x1="493.60" y1="26.05" x2="542.60" y2="26.05" stroke="#efefef" stroke-width="0.7" />
<line x1="491.60" y1="26.05" x2="493.60" y2="26.05" stroke="#222" stroke-width="0.6" />
<line x1="493.60" y1="25.30" x2="493.60" y2="126.10" stroke="#222" stroke-width="1" />
<line x1="493.10" y1="126.10" x2="542.60" y2="126.10" stroke="#222" stroke-width="1" />
<g transform="translate(463.40 76.90) rotate(-90)"><text x="-10.44" y="0" font-size="7.81" stroke="#000" stroke-width="0.18" textLength="14.93" lengthAdjust="spacingAndGlyphs">DSC</text><path d="M7.47,0.43 V-4.03" stroke="#000" stroke-width="0.71"/><path d="M5.76,-3.12 L7.47,-5.40 L9.17,-3.12 Z" fill="#000"/></g>
<line x1="518.35" y1="40.20" x2="518.35" y2="60.00" stroke="#111" stroke-width="1" />
<line x1="518.35" y1="92.80" x2="518.35" y2="113.80" stroke="#111" stroke-width="1" />
<line x1="514.65" y1="40.20" x2="522.05" y2="40.20" stroke="#111" stroke-width="1" />
<line x1="514.65" y1="113.80" x2="522.05" y2="113.80" stroke="#111" stroke-width="1" />
<circle cx="517.93" cy="40.20" r="2.40" fill="#5a1276" fill-opacity="0.36"/>
<circle cx="518.80" cy="113.80" r="2.40" fill="#5a1276" fill-opacity="0.36"/>
<circle cx="517.88" cy="41.20" r="2.40" fill="#5a1276" fill-opacity="0.36"/>
<circle cx="518.58" cy="112.80" r="2.40" fill="#5a1276" fill-opacity="0.36"/>
<circle cx="517.87" cy="58.50" r="2.40" fill="#5a1276" fill-opacity="0.36"/>
<circle cx="518.11" cy="84.19" r="2.40" fill="#5a1276" fill-opacity="0.36"/>
<circle cx="518.66" cy="78.16" r="2.40" fill="#5a1276" fill-opacity="0.36"/>
<circle cx="518.01" cy="94.89" r="2.40" fill="#5a1276" fill-opacity="0.36"/>
<circle cx="518.03" cy="40.53" r="2.40" fill="#5a1276" fill-opacity="0.36"/>
<circle cx="518.54" cy="64.52" r="2.40" fill="#5a1276" fill-opacity="0.36"/>
<circle cx="518.24" cy="56.34" r="2.40" fill="#5a1276" fill-opacity="0.36"/>
<circle cx="517.89" cy="48.49" r="2.40" fill="#5a1276" fill-opacity="0.36"/>
<circle cx="518.84" cy="54.10" r="2.40" fill="#5a1276" fill-opacity="0.36"/>
<circle cx="518.00" cy="62.15" r="2.40" fill="#5a1276" fill-opacity="0.36"/>
<circle cx="517.89" cy="67.63" r="2.40" fill="#5a1276" fill-opacity="0.36"/>
<circle cx="518.19" cy="52.57" r="2.40" fill="#5a1276" fill-opacity="0.36"/>
<circle cx="518.47" cy="84.85" r="2.40" fill="#5a1276" fill-opacity="0.36"/>
<circle cx="518.59" cy="61.30" r="2.40" fill="#5a1276" fill-opacity="0.36"/>
<circle cx="517.96" cy="103.53" r="2.40" fill="#5a1276" fill-opacity="0.36"/>
<circle cx="518.19" cy="65.08" r="2.40" fill="#5a1276" fill-opacity="0.36"/>
<circle cx="517.88" cy="56.54" r="2.40" fill="#5a1276" fill-opacity="0.36"/>
<circle cx="518.30" cy="81.12" r="2.40" fill="#5a1276" fill-opacity="0.36"/>
<circle cx="518.62" cy="80.19" r="2.40" fill="#5a1276" fill-opacity="0.36"/>
<circle cx="518.59" cy="75.88" r="2.40" fill="#5a1276" fill-opacity="0.36"/>
<circle cx="518.75" cy="53.84" r="2.40" fill="#5a1276" fill-opacity="0.36"/>
<circle cx="518.61" cy="79.26" r="2.40" fill="#5a1276" fill-opacity="0.36"/>
<circle cx="518.71" cy="109.67" r="2.40" fill="#5a1276" fill-opacity="0.36"/>
<circle cx="518.56" cy="43.85" r="2.40" fill="#5a1276" fill-opacity="0.36"/>
<circle cx="518.32" cy="69.58" r="2.40" fill="#5a1276" fill-opacity="0.36"/>
<circle cx="518.08" cy="75.06" r="2.40" fill="#5a1276" fill-opacity="0.36"/>
<circle cx="518.51" cy="79.92" r="2.40" fill="#5a1276" fill-opacity="0.36"/>
<circle cx="518.17" cy="68.61" r="2.40" fill="#5a1276" fill-opacity="0.36"/>
<circle cx="517.95" cy="86.33" r="2.40" fill="#5a1276" fill-opacity="0.36"/>
<circle cx="518.30" cy="68.92" r="2.40" fill="#5a1276" fill-opacity="0.36"/>
<circle cx="518.72" cy="67.57" r="2.40" fill="#5a1276" fill-opacity="0.36"/>
<circle cx="517.98" cy="60.91" r="2.40" fill="#5a1276" fill-opacity="0.36"/>
<circle cx="518.43" cy="108.63" r="2.40" fill="#5a1276" fill-opacity="0.36"/>
<circle cx="518.24" cy="47.71" r="2.40" fill="#5a1276" fill-opacity="0.36"/>
<circle cx="518.36" cy="69.42" r="2.40" fill="#5a1276" fill-opacity="0.36"/>
<circle cx="517.99" cy="78.07" r="2.40" fill="#5a1276" fill-opacity="0.36"/>
<circle cx="518.81" cy="88.59" r="2.40" fill="#5a1276" fill-opacity="0.36"/>
<circle cx="518.11" cy="71.18" r="2.40" fill="#5a1276" fill-opacity="0.36"/>
<circle cx="518.46" cy="75.57" r="2.40" fill="#5a1276" fill-opacity="0.36"/>
<circle cx="518.27" cy="45.60" r="2.40" fill="#5a1276" fill-opacity="0.36"/>
<circle cx="517.87" cy="81.77" r="2.40" fill="#5a1276" fill-opacity="0.36"/>
<circle cx="518.41" cy="78.07" r="2.40" fill="#5a1276" fill-opacity="0.36"/>
<circle cx="517.99" cy="74.36" r="2.40" fill="#5a1276" fill-opacity="0.36"/>
<circle cx="517.91" cy="44.03" r="2.40" fill="#5a1276" fill-opacity="0.36"/>
<circle cx="517.88" cy="96.42" r="2.40" fill="#5a1276" fill-opacity="0.36"/>
<circle cx="518.01" cy="58.68" r="2.40" fill="#5a1276" fill-opacity="0.36"/>
<circle cx="517.95" cy="52.05" r="2.40" fill="#5a1276" fill-opacity="0.36"/>
<circle cx="518.49" cy="70.00" r="2.40" fill="#5a1276" fill-opacity="0.36"/>
<circle cx="518.36" cy="46.92" r="2.40" fill="#5a1276" fill-opacity="0.36"/>
<circle cx="518.83" cy="78.39" r="2.40" fill="#5a1276" fill-opacity="0.36"/>
<circle cx="518.78" cy="95.79" r="2.40" fill="#5a1276" fill-opacity="0.36"/>
<circle cx="518.84" cy="70.04" r="2.40" fill="#5a1276" fill-opacity="0.36"/>
<circle cx="518.08" cy="60.69" r="2.40" fill="#5a1276" fill-opacity="0.36"/>
<circle cx="518.29" cy="90.67" r="2.40" fill="#5a1276" fill-opacity="0.36"/>
<circle cx="518.10" cy="64.10" r="2.40" fill="#5a1276" fill-opacity="0.36"/>
<circle cx="518.44" cy="92.35" r="2.40" fill="#5a1276" fill-opacity="0.36"/>
<circle cx="518.47" cy="63.55" r="2.40" fill="#5a1276" fill-opacity="0.36"/>
<circle cx="518.65" cy="111.27" r="2.40" fill="#5a1276" fill-opacity="0.36"/>
<circle cx="518.56" cy="64.53" r="2.40" fill="#5a1276" fill-opacity="0.36"/>
<circle cx="518.11" cy="45.27" r="2.40" fill="#5a1276" fill-opacity="0.36"/>
<circle cx="518.27" cy="73.82" r="2.40" fill="#5a1276" fill-opacity="0.36"/>
<circle cx="518.38" cy="55.82" r="2.40" fill="#5a1276" fill-opacity="0.36"/>
<circle cx="517.85" cy="48.26" r="2.40" fill="#5a1276" fill-opacity="0.36"/>
<circle cx="517.89" cy="68.32" r="2.40" fill="#5a1276" fill-opacity="0.36"/>
<circle cx="518.26" cy="89.95" r="2.40" fill="#5a1276" fill-opacity="0.36"/>
<circle cx="517.96" cy="70.37" r="2.40" fill="#5a1276" fill-opacity="0.36"/>
<circle cx="518.57" cy="67.72" r="2.40" fill="#5a1276" fill-opacity="0.36"/>
<circle cx="518.09" cy="67.87" r="2.40" fill="#5a1276" fill-opacity="0.36"/>
<circle cx="517.95" cy="91.33" r="2.40" fill="#5a1276" fill-opacity="0.36"/>
<circle cx="518.03" cy="87.85" r="2.40" fill="#5a1276" fill-opacity="0.36"/>
<circle cx="518.08" cy="65.92" r="2.40" fill="#5a1276" fill-opacity="0.36"/>
<circle cx="518.07" cy="74.32" r="2.40" fill="#5a1276" fill-opacity="0.36"/>
<circle cx="518.37" cy="66.15" r="2.40" fill="#5a1276" fill-opacity="0.36"/>
<circle cx="518.31" cy="63.48" r="2.40" fill="#5a1276" fill-opacity="0.36"/>
<circle cx="518.16" cy="58.69" r="2.40" fill="#5a1276" fill-opacity="0.36"/>
<circle cx="518.49" cy="81.86" r="2.40" fill="#5a1276" fill-opacity="0.36"/>
<circle cx="518.06" cy="97.79" r="2.40" fill="#5a1276" fill-opacity="0.36"/>
<circle cx="518.76" cy="92.89" r="2.40" fill="#5a1276" fill-opacity="0.36"/>
<circle cx="518.81" cy="85.66" r="2.40" fill="#5a1276" fill-opacity="0.36"/>
<circle cx="518.58" cy="60.14" r="2.40" fill="#5a1276" fill-opacity="0.36"/>
<circle cx="518.28" cy="86.91" r="2.40" fill="#5a1276" fill-opacity="0.36"/>
<circle cx="518.36" cy="40.44" r="2.40" fill="#5a1276" fill-opacity="0.36"/>
<circle cx="518.43" cy="92.57" r="2.40" fill="#5a1276" fill-opacity="0.36"/>
<circle cx="517.90" cy="97.19" r="2.40" fill="#5a1276" fill-opacity="0.36"/>
<circle cx="518.27" cy="79.19" r="2.40" fill="#5a1276" fill-opacity="0.36"/>
<circle cx="518.38" cy="91.72" r="2.40" fill="#5a1276" fill-opacity="0.36"/>
<rect x="511.00" y="60.00" width="14.70" height="32.80" fill="none" stroke="#111" stroke-width="1.1"/>
<line x1="511.00" y1="74.60" x2="525.70" y2="74.60" stroke="#f5a623" stroke-width="1.4" />
<line x1="591.60" y1="126.50" x2="640.60" y2="126.50" stroke="#e4e4e4" stroke-width="0.7" />
<line x1="588.10" y1="126.50" x2="591.60" y2="126.50" stroke="#222" stroke-width="0.8" />
<text x="587.00" y="129.10" font-size="7.92" text-anchor="end" stroke="#000" stroke-width="0.18" textLength="11.45" lengthAdjust="spacingAndGlyphs">8.0</text>
<line x1="591.60" y1="121.44" x2="640.60" y2="121.44" stroke="#efefef" stroke-width="0.7" />
<line x1="589.60" y1="121.44" x2="591.60" y2="121.44" stroke="#222" stroke-width="0.6" />
<line x1="591.60" y1="116.38" x2="640.60" y2="116.38" stroke="#efefef" stroke-width="0.7" />
<line x1="589.60" y1="116.38" x2="591.60" y2="116.38" stroke="#222" stroke-width="0.6" />
<line x1="591.60" y1="111.32" x2="640.60" y2="111.32" stroke="#efefef" stroke-width="0.7" />
<line x1="589.60" y1="111.32" x2="591.60" y2="111.32" stroke="#222" stroke-width="0.6" />
<line x1="591.60" y1="106.26" x2="640.60" y2="106.26" stroke="#efefef" stroke-width="0.7" />
<line x1="589.60" y1="106.26" x2="591.60" y2="106.26" stroke="#222" stroke-width="0.6" />
<line x1="591.60" y1="101.20" x2="640.60" y2="101.20" stroke="#e4e4e4" stroke-width="0.7" />
<line x1="588.10" y1="101.20" x2="591.60" y2="101.20" stroke="#222" stroke-width="0.8" />
<text x="587.00" y="103.80" font-size="7.92" text-anchor="end" stroke="#000" stroke-width="0.18" textLength="11.45" lengthAdjust="spacingAndGlyphs">8.5</text>
<line x1="591.60" y1="96.14" x2="640.60" y2="96.14" stroke="#efefef" stroke-width="0.7" />
<line x1="589.60" y1="96.14" x2="591.60" y2="96.14" stroke="#222" stroke-width="0.6" />
<line x1="591.60" y1="91.08" x2="640.60" y2="91.08" stroke="#efefef" stroke-width="0.7" />
<line x1="589.60" y1="91.08" x2="591.60" y2="91.08" stroke="#222" stroke-width="0.6" />
<line x1="591.60" y1="86.02" x2="640.60" y2="86.02" stroke="#efefef" stroke-width="0.7" />
<line x1="589.60" y1="86.02" x2="591.60" y2="86.02" stroke="#222" stroke-width="0.6" />
<line x1="591.60" y1="80.96" x2="640.60" y2="80.96" stroke="#efefef" stroke-width="0.7" />
<line x1="589.60" y1="80.96" x2="591.60" y2="80.96" stroke="#222" stroke-width="0.6" />
<line x1="591.60" y1="75.90" x2="640.60" y2="75.90" stroke="#e4e4e4" stroke-width="0.7" />
<line x1="588.10" y1="75.90" x2="591.60" y2="75.90" stroke="#222" stroke-width="0.8" />
<text x="587.00" y="78.50" font-size="7.92" text-anchor="end" stroke="#000" stroke-width="0.18" textLength="11.45" lengthAdjust="spacingAndGlyphs">9.0</text>
<line x1="591.60" y1="70.84" x2="640.60" y2="70.84" stroke="#efefef" stroke-width="0.7" />
<line x1="589.60" y1="70.84" x2="591.60" y2="70.84" stroke="#222" stroke-width="0.6" />
<line x1="591.60" y1="65.78" x2="640.60" y2="65.78" stroke="#efefef" stroke-width="0.7" />
<line x1="589.60" y1="65.78" x2="591.60" y2="65.78" stroke="#222" stroke-width="0.6" />
<line x1="591.60" y1="60.72" x2="640.60" y2="60.72" stroke="#efefef" stroke-width="0.7" />
<line x1="589.60" y1="60.72" x2="591.60" y2="60.72" stroke="#222" stroke-width="0.6" />
<line x1="591.60" y1="55.66" x2="640.60" y2="55.66" stroke="#efefef" stroke-width="0.7" />
<line x1="589.60" y1="55.66" x2="591.60" y2="55.66" stroke="#222" stroke-width="0.6" />
<line x1="591.60" y1="50.60" x2="640.60" y2="50.60" stroke="#e4e4e4" stroke-width="0.7" />
<line x1="588.10" y1="50.60" x2="591.60" y2="50.60" stroke="#222" stroke-width="0.8" />
<text x="587.00" y="53.20" font-size="7.92" text-anchor="end" stroke="#000" stroke-width="0.18" textLength="11.45" lengthAdjust="spacingAndGlyphs">9.5</text>
<line x1="591.60" y1="45.54" x2="640.60" y2="45.54" stroke="#efefef" stroke-width="0.7" />
<line x1="589.60" y1="45.54" x2="591.60" y2="45.54" stroke="#222" stroke-width="0.6" />
<line x1="591.60" y1="40.48" x2="640.60" y2="40.48" stroke="#efefef" stroke-width="0.7" />
<line x1="589.60" y1="40.48" x2="591.60" y2="40.48" stroke="#222" stroke-width="0.6" />
<line x1="591.60" y1="35.42" x2="640.60" y2="35.42" stroke="#efefef" stroke-width="0.7" />
<line x1="589.60" y1="35.42" x2="591.60" y2="35.42" stroke="#222" stroke-width="0.6" />
<line x1="591.60" y1="30.36" x2="640.60" y2="30.36" stroke="#efefef" stroke-width="0.7" />
<line x1="589.60" y1="30.36" x2="591.60" y2="30.36" stroke="#222" stroke-width="0.6" />
<line x1="591.60" y1="25.30" x2="640.60" y2="25.30" stroke="#e4e4e4" stroke-width="0.7" />
<line x1="588.10" y1="25.30" x2="591.60" y2="25.30" stroke="#222" stroke-width="0.8" />
<text x="587.00" y="27.90" font-size="7.92" text-anchor="end" stroke="#000" stroke-width="0.18" textLength="16.03" lengthAdjust="spacingAndGlyphs">10.0</text>
<line x1="591.60" y1="25.30" x2="591.60" y2="126.50" stroke="#222" stroke-width="1" />
<line x1="591.10" y1="126.50" x2="640.60" y2="126.50" stroke="#222" stroke-width="1" />
<g transform="translate(566.00 76.90) rotate(-90)"><text x="-12.89" y="0" font-size="7.81" stroke="#000" stroke-width="0.18" textLength="19.84" lengthAdjust="spacingAndGlyphs">HD95</text><path d="M9.92,-5.40 V-0.94" stroke="#000" stroke-width="0.71"/><path d="M8.22,-1.85 L9.92,0.43 L11.62,-1.85 Z" fill="#000"/></g>
<line x1="616.35" y1="31.30" x2="616.35" y2="53.30" stroke="#111" stroke-width="1" />
<line x1="616.35" y1="87.30" x2="616.35" y2="108.50" stroke="#111" stroke-width="1" />
<line x1="612.65" y1="31.30" x2="620.05" y2="31.30" stroke="#111" stroke-width="1" />
<line x1="612.65" y1="108.50" x2="620.05" y2="108.50" stroke="#111" stroke-width="1" />
<circle cx="616.28" cy="31.30" r="2.40" fill="#5a1276" fill-opacity="0.36"/>
<circle cx="616.57" cy="108.50" r="2.40" fill="#5a1276" fill-opacity="0.36"/>
<circle cx="616.09" cy="32.30" r="2.40" fill="#5a1276" fill-opacity="0.36"/>
<circle cx="616.15" cy="107.50" r="2.40" fill="#5a1276" fill-opacity="0.36"/>
<circle cx="616.83" cy="74.89" r="2.40" fill="#5a1276" fill-opacity="0.36"/>
<circle cx="616.37" cy="103.98" r="2.40" fill="#5a1276" fill-opacity="0.36"/>
<circle cx="616.40" cy="49.04" r="2.40" fill="#5a1276" fill-opacity="0.36"/>
<circle cx="615.86" cy="97.49" r="2.40" fill="#5a1276" fill-opacity="0.36"/>
<circle cx="616.27" cy="65.97" r="2.40" fill="#5a1276" fill-opacity="0.36"/>
<circle cx="616.43" cy="65.91" r="2.40" fill="#5a1276" fill-opacity="0.36"/>
<circle cx="615.87" cy="76.47" r="2.40" fill="#5a1276" fill-opacity="0.36"/>
<circle cx="616.47" cy="71.42" r="2.40" fill="#5a1276" fill-opacity="0.36"/>
<circle cx="616.48" cy="90.87" r="2.40" fill="#5a1276" fill-opacity="0.36"/>
<circle cx="615.91" cy="100.88" r="2.40" fill="#5a1276" fill-opacity="0.36"/>
<circle cx="616.48" cy="71.72" r="2.40" fill="#5a1276" fill-opacity="0.36"/>
<circle cx="616.32" cy="87.31" r="2.40" fill="#5a1276" fill-opacity="0.36"/>
<circle cx="616.53" cy="47.98" r="2.40" fill="#5a1276" fill-opacity="0.36"/>
<circle cx="616.20" cy="63.26" r="2.40" fill="#5a1276" fill-opacity="0.36"/>
<circle cx="616.56" cy="61.47" r="2.40" fill="#5a1276" fill-opacity="0.36"/>
<circle cx="616.59" cy="38.95" r="2.40" fill="#5a1276" fill-opacity="0.36"/>
<circle cx="615.87" cy="34.51" r="2.40" fill="#5a1276" fill-opacity="0.36"/>
<circle cx="615.91" cy="31.53" r="2.40" fill="#5a1276" fill-opacity="0.36"/>
<circle cx="616.53" cy="66.49" r="2.40" fill="#5a1276" fill-opacity="0.36"/>
<circle cx="616.81" cy="68.16" r="2.40" fill="#5a1276" fill-opacity="0.36"/>
<circle cx="616.10" cy="64.43" r="2.40" fill="#5a1276" fill-opacity="0.36"/>
<circle cx="616.31" cy="74.24" r="2.40" fill="#5a1276" fill-opacity="0.36"/>
<circle cx="616.44" cy="38.86" r="2.40" fill="#5a1276" fill-opacity="0.36"/>
<circle cx="616.17" cy="70.50" r="2.40" fill="#5a1276" fill-opacity="0.36"/>
<circle cx="616.21" cy="78.50" r="2.40" fill="#5a1276" fill-opacity="0.36"/>
<circle cx="616.16" cy="91.42" r="2.40" fill="#5a1276" fill-opacity="0.36"/>
<circle cx="616.22" cy="51.19" r="2.40" fill="#5a1276" fill-opacity="0.36"/>
<circle cx="616.45" cy="62.43" r="2.40" fill="#5a1276" fill-opacity="0.36"/>
<circle cx="616.15" cy="59.82" r="2.40" fill="#5a1276" fill-opacity="0.36"/>
<circle cx="616.23" cy="36.75" r="2.40" fill="#5a1276" fill-opacity="0.36"/>
<circle cx="616.62" cy="100.24" r="2.40" fill="#5a1276" fill-opacity="0.36"/>
<circle cx="615.88" cy="92.61" r="2.40" fill="#5a1276" fill-opacity="0.36"/>
<circle cx="616.42" cy="80.76" r="2.40" fill="#5a1276" fill-opacity="0.36"/>
<circle cx="616.59" cy="64.63" r="2.40" fill="#5a1276" fill-opacity="0.36"/>
<circle cx="616.16" cy="84.07" r="2.40" fill="#5a1276" fill-opacity="0.36"/>
<circle cx="616.07" cy="85.78" r="2.40" fill="#5a1276" fill-opacity="0.36"/>
<circle cx="616.65" cy="98.83" r="2.40" fill="#5a1276" fill-opacity="0.36"/>
<circle cx="616.09" cy="66.70" r="2.40" fill="#5a1276" fill-opacity="0.36"/>
<circle cx="616.04" cy="57.58" r="2.40" fill="#5a1276" fill-opacity="0.36"/>
<circle cx="616.29" cy="57.27" r="2.40" fill="#5a1276" fill-opacity="0.36"/>
<circle cx="616.55" cy="47.66" r="2.40" fill="#5a1276" fill-opacity="0.36"/>
<circle cx="615.95" cy="71.37" r="2.40" fill="#5a1276" fill-opacity="0.36"/>
<circle cx="616.17" cy="52.71" r="2.40" fill="#5a1276" fill-opacity="0.36"/>
<circle cx="616.18" cy="99.41" r="2.40" fill="#5a1276" fill-opacity="0.36"/>
<circle cx="616.68" cy="44.95" r="2.40" fill="#5a1276" fill-opacity="0.36"/>
<circle cx="616.29" cy="48.49" r="2.40" fill="#5a1276" fill-opacity="0.36"/>
<circle cx="616.71" cy="65.37" r="2.40" fill="#5a1276" fill-opacity="0.36"/>
<circle cx="616.02" cy="59.27" r="2.40" fill="#5a1276" fill-opacity="0.36"/>
<circle cx="616.19" cy="99.49" r="2.40" fill="#5a1276" fill-opacity="0.36"/>
<circle cx="616.50" cy="54.08" r="2.40" fill="#5a1276" fill-opacity="0.36"/>
<circle cx="616.73" cy="68.59" r="2.40" fill="#5a1276" fill-opacity="0.36"/>
<circle cx="616.30" cy="55.60" r="2.40" fill="#5a1276" fill-opacity="0.36"/>
<circle cx="616.08" cy="88.63" r="2.40" fill="#5a1276" fill-opacity="0.36"/>
<circle cx="615.97" cy="43.85" r="2.40" fill="#5a1276" fill-opacity="0.36"/>
<circle cx="616.38" cy="70.51" r="2.40" fill="#5a1276" fill-opacity="0.36"/>
<circle cx="616.04" cy="81.40" r="2.40" fill="#5a1276" fill-opacity="0.36"/>
<circle cx="616.66" cy="96.38" r="2.40" fill="#5a1276" fill-opacity="0.36"/>
<circle cx="616.69" cy="60.32" r="2.40" fill="#5a1276" fill-opacity="0.36"/>
<circle cx="616.03" cy="80.18" r="2.40" fill="#5a1276" fill-opacity="0.36"/>
<circle cx="616.13" cy="60.76" r="2.40" fill="#5a1276" fill-opacity="0.36"/>
<circle cx="616.66" cy="77.78" r="2.40" fill="#5a1276" fill-opacity="0.36"/>
<circle cx="616.49" cy="67.07" r="2.40" fill="#5a1276" fill-opacity="0.36"/>
<circle cx="616.66" cy="66.76" r="2.40" fill="#5a1276" fill-opacity="0.36"/>
<circle cx="616.20" cy="67.47" r="2.40" fill="#5a1276" fill-opacity="0.36"/>
<circle cx="615.98" cy="68.05" r="2.40" fill="#5a1276" fill-opacity="0.36"/>
<circle cx="616.14" cy="50.36" r="2.40" fill="#5a1276" fill-opacity="0.36"/>
<circle cx="616.64" cy="69.41" r="2.40" fill="#5a1276" fill-opacity="0.36"/>
<circle cx="616.12" cy="68.81" r="2.40" fill="#5a1276" fill-opacity="0.36"/>
<circle cx="616.20" cy="81.88" r="2.40" fill="#5a1276" fill-opacity="0.36"/>
<circle cx="616.27" cy="67.35" r="2.40" fill="#5a1276" fill-opacity="0.36"/>
<circle cx="616.27" cy="68.77" r="2.40" fill="#5a1276" fill-opacity="0.36"/>
<circle cx="616.26" cy="80.87" r="2.40" fill="#5a1276" fill-opacity="0.36"/>
<circle cx="616.77" cy="96.89" r="2.40" fill="#5a1276" fill-opacity="0.36"/>
<circle cx="616.01" cy="61.22" r="2.40" fill="#5a1276" fill-opacity="0.36"/>
<circle cx="615.85" cy="63.11" r="2.40" fill="#5a1276" fill-opacity="0.36"/>
<circle cx="616.79" cy="85.85" r="2.40" fill="#5a1276" fill-opacity="0.36"/>
<circle cx="616.73" cy="47.68" r="2.40" fill="#5a1276" fill-opacity="0.36"/>
<circle cx="616.84" cy="92.04" r="2.40" fill="#5a1276" fill-opacity="0.36"/>
<circle cx="616.28" cy="57.67" r="2.40" fill="#5a1276" fill-opacity="0.36"/>
<circle cx="616.80" cy="42.92" r="2.40" fill="#5a1276" fill-opacity="0.36"/>
<circle cx="616.78" cy="80.01" r="2.40" fill="#5a1276" fill-opacity="0.36"/>
<circle cx="616.07" cy="51.54" r="2.40" fill="#5a1276" fill-opacity="0.36"/>
<circle cx="616.60" cy="45.87" r="2.40" fill="#5a1276" fill-opacity="0.36"/>
<circle cx="616.69" cy="39.86" r="2.40" fill="#5a1276" fill-opacity="0.36"/>
<circle cx="616.51" cy="59.75" r="2.40" fill="#5a1276" fill-opacity="0.36"/>
<circle cx="616.37" cy="100.39" r="2.40" fill="#5a1276" fill-opacity="0.36"/>
<rect x="608.80" y="53.30" width="15.10" height="34.00" fill="none" stroke="#111" stroke-width="1.1"/>
<line x1="608.80" y1="72.50" x2="623.90" y2="72.50" stroke="#f5a623" stroke-width="1.4" />
<text x="0.60" y="163.20" font-size="15.40" font-weight="bold" stroke="#000" stroke-width="0.18" textLength="8.65" lengthAdjust="spacingAndGlyphs">c</text>
<g transform="translate(26.1 170.2)"><rect x="0.00" y="0.00" width="70.20" height="70.30" fill="#121212"/>
<g filter="url(#nzCT)"><g filter="url(#blur05)">
<path d="M1.10,18.70 C2.62,17.53 6.40,16.98 9.60,16.50 C12.80,16.02 16.22,15.97 20.30,15.80 C24.38,15.63 29.67,15.50 34.10,15.50 C38.53,15.50 42.82,15.53 46.90,15.80 C50.98,16.07 55.22,16.45 58.60,17.10 C61.98,17.75 65.42,18.28 67.20,19.70 C68.98,21.12 68.87,23.38 69.30,25.60 C69.73,27.82 69.88,30.17 69.80,33.00 C69.72,35.83 69.42,39.75 68.80,42.60 C68.18,45.45 67.27,47.87 66.10,50.10 C64.93,52.33 63.58,54.40 61.80,56.00 C60.02,57.60 57.88,58.73 55.40,59.70 C52.92,60.67 49.57,61.27 46.90,61.80 C44.23,62.33 41.53,62.80 39.40,62.90 C37.27,63.00 35.87,62.40 34.10,62.40 C32.33,62.40 31.10,63.03 28.80,62.90 C26.50,62.77 22.97,62.22 20.30,61.60 C17.63,60.98 15.12,60.40 12.80,59.20 C10.48,58.00 8.18,56.45 6.40,54.40 C4.62,52.35 3.08,49.57 2.10,46.90 C1.12,44.23 0.82,41.23 0.50,38.40 C0.18,35.57 0.20,32.38 0.20,29.90 C0.20,27.42 0.35,25.37 0.50,23.50 C0.65,21.63 -0.42,19.87 1.10,18.70 Z" fill="#8a8a8a"/>
<path d="M2.63,19.93 C4.07,18.83 7.69,18.32 10.74,17.86 C13.80,17.41 17.06,17.36 20.96,17.20 C24.86,17.05 29.91,16.92 34.14,16.92 C38.37,16.92 42.46,16.95 46.36,17.20 C50.26,17.45 54.31,17.82 57.54,18.43 C60.77,19.04 64.05,19.54 65.75,20.87 C67.45,22.20 67.34,24.33 67.76,26.42 C68.17,28.50 68.31,30.71 68.23,33.37 C68.15,36.04 67.87,39.72 67.28,42.40 C66.69,45.08 65.81,47.35 64.70,49.45 C63.59,51.55 62.30,53.49 60.59,54.99 C58.89,56.50 56.85,57.56 54.48,58.47 C52.11,59.38 48.91,59.94 46.36,60.44 C43.82,60.95 41.24,61.38 39.20,61.48 C37.16,61.57 35.83,61.01 34.14,61.01 C32.45,61.01 31.28,61.60 29.08,61.48 C26.88,61.35 23.51,60.84 20.96,60.26 C18.41,59.68 16.01,59.13 13.80,58.00 C11.59,56.87 9.39,55.41 7.69,53.49 C5.98,51.56 4.52,48.94 3.58,46.44 C2.64,43.93 2.35,41.11 2.05,38.45 C1.75,35.78 1.77,32.79 1.77,30.46 C1.77,28.12 1.91,26.20 2.05,24.44 C2.20,22.69 1.18,21.03 2.63,19.93 Z" fill="#2c2c2c"/>
<path d="M3.30,20.44 C4.72,19.38 8.26,18.87 11.25,18.43 C14.24,17.99 17.44,17.94 21.26,17.79 C25.07,17.64 30.01,17.51 34.16,17.51 C38.30,17.51 42.31,17.55 46.13,17.79 C49.94,18.03 53.90,18.38 57.07,18.98 C60.23,19.57 63.44,20.06 65.11,21.36 C66.77,22.65 66.67,24.73 67.07,26.76 C67.48,28.78 67.62,30.93 67.54,33.53 C67.46,36.12 67.18,39.70 66.60,42.31 C66.03,44.92 65.17,47.13 64.08,49.17 C62.99,51.22 61.73,53.11 60.06,54.57 C58.39,56.04 56.40,57.07 54.07,57.96 C51.75,58.84 48.62,59.39 46.13,59.88 C43.63,60.37 41.11,60.79 39.11,60.89 C37.12,60.98 35.81,60.43 34.16,60.43 C32.51,60.43 31.35,61.01 29.20,60.89 C27.05,60.76 23.75,60.26 21.26,59.70 C18.76,59.13 16.41,58.60 14.24,57.50 C12.08,56.40 9.93,54.98 8.26,53.11 C6.59,51.23 5.16,48.69 4.24,46.25 C3.32,43.81 3.04,41.06 2.74,38.47 C2.45,35.88 2.46,32.96 2.46,30.69 C2.46,28.42 2.60,26.54 2.74,24.83 C2.88,23.13 1.89,21.51 3.30,20.44 Z" fill="#747474"/>
<path d="M4.83,21.77 C6.18,20.78 9.55,20.32 12.39,19.91 C15.24,19.49 18.28,19.45 21.92,19.31 C25.55,19.17 30.25,19.05 34.20,19.05 C38.14,19.05 41.96,19.08 45.59,19.31 C49.23,19.54 52.99,19.86 56.00,20.42 C59.02,20.97 62.07,21.42 63.66,22.62 C65.25,23.83 65.14,25.76 65.53,27.64 C65.91,29.52 66.05,31.52 65.97,33.93 C65.90,36.34 65.63,39.67 65.08,42.09 C64.53,44.51 63.72,46.57 62.68,48.47 C61.64,50.36 60.44,52.12 58.85,53.48 C57.26,54.84 55.37,55.80 53.16,56.62 C50.95,57.45 47.96,57.96 45.59,58.41 C43.22,58.86 40.81,59.26 38.92,59.34 C37.02,59.43 35.77,58.92 34.20,58.92 C32.63,58.92 31.53,59.46 29.48,59.34 C27.43,59.23 24.29,58.76 21.92,58.24 C19.54,57.72 17.30,57.22 15.24,56.20 C13.18,55.18 11.13,53.86 9.55,52.12 C7.96,50.38 6.59,48.01 5.72,45.74 C4.84,43.48 4.58,40.93 4.29,38.52 C4.01,36.11 4.03,33.41 4.03,31.29 C4.03,29.18 4.16,27.44 4.29,25.86 C4.43,24.27 3.48,22.77 4.83,21.77 Z" fill="#3c3c3c"/>
<path d="M5.51,22.39 C6.83,21.43 10.12,20.98 12.90,20.59 C15.69,20.19 18.66,20.15 22.21,20.01 C25.76,19.88 30.36,19.77 34.22,19.77 C38.07,19.77 41.80,19.79 45.35,20.01 C48.91,20.23 52.59,20.55 55.53,21.08 C58.48,21.61 61.46,22.05 63.01,23.21 C64.57,24.37 64.46,26.23 64.84,28.05 C65.22,29.87 65.35,31.79 65.28,34.12 C65.20,36.44 64.94,39.65 64.41,41.99 C63.87,44.33 63.07,46.31 62.06,48.14 C61.04,49.97 59.87,51.66 58.32,52.98 C56.76,54.29 54.91,55.22 52.75,56.01 C50.59,56.80 47.67,57.29 45.35,57.73 C43.03,58.17 40.68,58.55 38.83,58.63 C36.97,58.72 35.75,58.22 34.22,58.22 C32.68,58.22 31.61,58.74 29.61,58.63 C27.61,58.52 24.53,58.07 22.21,57.57 C19.89,57.06 17.70,56.58 15.69,55.60 C13.67,54.62 11.67,53.34 10.12,51.66 C8.57,49.98 7.23,47.70 6.38,45.51 C5.52,43.33 5.26,40.87 4.98,38.54 C4.71,36.22 4.72,33.61 4.72,31.57 C4.72,29.54 4.85,27.86 4.98,26.33 C5.12,24.80 4.19,23.35 5.51,22.39 Z" fill="#5c5c5c"/>
<path d="M8.00,50.00 C9.33,49.83 15.50,54.33 20.00,55.50 C24.50,56.67 30.00,57.00 35.00,57.00 C40.00,57.00 45.50,56.67 50.00,55.50 C54.50,54.33 60.67,49.83 62.00,50.00 C63.33,50.17 60.67,54.92 58.00,56.50 C55.33,58.08 49.83,58.88 46.00,59.50 C42.17,60.12 38.67,60.20 35.00,60.20 C31.33,60.20 27.83,60.12 24.00,59.50 C20.17,58.88 14.67,58.08 12.00,56.50 C9.33,54.92 6.67,50.17 8.00,50.00 Z" fill="#9a9a9a"/>
<path d="M4.30,29.90 C4.83,27.58 5.90,25.67 7.50,24.50 C9.10,23.33 11.77,23.07 13.90,22.90 C16.03,22.73 18.53,22.70 20.30,23.50 C22.07,24.30 23.43,26.12 24.50,27.70 C25.57,29.28 25.98,31.05 26.70,33.00 C27.42,34.95 28.10,37.80 28.80,39.40 C29.50,41.00 30.02,41.88 30.90,42.60 C31.78,43.32 31.97,43.52 34.10,43.70 C36.23,43.88 41.03,43.52 43.70,43.70 C46.37,43.88 48.68,43.92 50.10,44.80 C51.52,45.68 52.20,47.58 52.20,49.00 C52.20,50.42 51.87,52.23 50.10,53.30 C48.33,54.37 44.80,54.95 41.60,55.40 C38.40,55.85 34.45,56.17 30.90,56.00 C27.35,55.83 23.50,55.20 20.30,54.40 C17.10,53.60 14.02,52.63 11.70,51.20 C9.38,49.77 7.63,47.93 6.40,45.80 C5.17,43.67 4.65,41.05 4.30,38.40 C3.95,35.75 3.77,32.22 4.30,29.90 Z" fill="#a4a4a4"/>
<ellipse cx="14" cy="34" rx="8" ry="9" fill="#b0b0b0"/>
<path d="M23,24 C26,26 28,30 29,34 C27,34 25,31 23,28Z" fill="#2a2a2a"/>
<path d="M27,40 C30,43 34,44 37,44 C35,42 32,40 29,38Z" fill="#303030"/>
<ellipse cx="20" cy="42" rx="2.5" ry="1.2" fill="#4a4a4a" transform="rotate(25 20 42)"/>
<path d="M22.00,18.50 C24.00,17.80 31.17,17.80 35.00,17.80 C38.83,17.80 43.50,17.63 45.00,18.50 C46.50,19.37 45.17,21.92 44.00,23.00 C42.83,24.08 39.83,24.58 38.00,25.00 C36.17,25.42 34.83,25.67 33.00,25.50 C31.17,25.33 28.67,24.58 27.00,24.00 C25.33,23.42 23.83,22.92 23.00,22.00 C22.17,21.08 20.00,19.20 22.00,18.50 Z" fill="#6a6a6a"/>
<circle cx="30" cy="21" r="1.2" fill="#333"/><circle cx="36" cy="20.5" r="1" fill="#3a3a3a"/><circle cx="40" cy="22.5" r="1.1" fill="#353535"/>
<circle cx="32" cy="33" r="5.2" fill="#2e2e2e"/><circle cx="32" cy="33" r="4.4" fill="#888"/>
<circle cx="38.9" cy="36.8" r="2.3" fill="#333"/><circle cx="38.9" cy="36.8" r="1.7" fill="#8a8a8a"/>
<path d="M42.00,24.00 C43.50,22.58 47.33,21.75 50.00,21.50 C52.67,21.25 55.67,21.58 58.00,22.50 C60.33,23.42 62.67,25.08 64.00,27.00 C65.33,28.92 65.83,31.50 66.00,34.00 C66.17,36.50 65.67,39.83 65.00,42.00 C64.33,44.17 63.50,46.17 62.00,47.00 C60.50,47.83 57.67,47.67 56.00,47.00 C54.33,46.33 53.50,44.33 52.00,43.00 C50.50,41.67 48.50,40.33 47.00,39.00 C45.50,37.67 44.00,36.50 43.00,35.00 C42.00,33.50 41.17,31.83 41.00,30.00 C40.83,28.17 40.50,25.42 42.00,24.00 Z" fill="#6c6c6c"/>
<path d="M46.00,27.00 C47.00,25.92 51.50,24.33 54.00,24.50 C56.50,24.67 59.42,26.25 61.00,28.00 C62.58,29.75 63.33,32.67 63.50,35.00 C63.67,37.33 62.92,41.50 62.00,42.00 C61.08,42.50 59.50,39.33 58.00,38.00 C56.50,36.67 54.67,35.17 53.00,34.00 C51.33,32.83 49.17,32.17 48.00,31.00 C46.83,29.83 45.00,28.08 46.00,27.00 Z" fill="#7a7a7a"/>
<path d="M43.00,32.00 C43.92,32.25 46.17,35.08 48.00,36.50 C49.83,37.92 52.17,39.08 54.00,40.50 C55.83,41.92 57.67,43.75 59.00,45.00 C60.33,46.25 62.00,47.42 62.00,48.00 C62.00,48.58 60.50,49.08 59.00,48.50 C57.50,47.92 55.00,46.00 53.00,44.50 C51.00,43.00 48.75,41.08 47.00,39.50 C45.25,37.92 43.17,36.25 42.50,35.00 C41.83,33.75 42.08,31.75 43.00,32.00 Z" fill="#2c2c2c"/>
<ellipse cx="24" cy="59.4" rx="2.1" ry="1.3" fill="#b4b4b4"/>
<ellipse cx="29" cy="59.4" rx="2.1" ry="1.3" fill="#b4b4b4"/>
<ellipse cx="35" cy="59.4" rx="2.1" ry="1.3" fill="#b4b4b4"/>
<ellipse cx="41" cy="59.4" rx="2.1" ry="1.3" fill="#b4b4b4"/>
<ellipse cx="46" cy="59.4" rx="2.1" ry="1.3" fill="#b4b4b4"/>
</g></g></g>
<g transform="translate(26.1 244.8)"><rect x="0.00" y="0.00" width="70.20" height="70.30" fill="#121212"/>
<g filter="url(#nzCT)"><g filter="url(#blur05)">
<path d="M1.10,18.70 C2.62,17.53 6.40,16.98 9.60,16.50 C12.80,16.02 16.22,15.97 20.30,15.80 C24.38,15.63 29.67,15.50 34.10,15.50 C38.53,15.50 42.82,15.53 46.90,15.80 C50.98,16.07 55.22,16.45 58.60,17.10 C61.98,17.75 65.42,18.28 67.20,19.70 C68.98,21.12 68.87,23.38 69.30,25.60 C69.73,27.82 69.88,30.17 69.80,33.00 C69.72,35.83 69.42,39.75 68.80,42.60 C68.18,45.45 67.27,47.87 66.10,50.10 C64.93,52.33 63.58,54.40 61.80,56.00 C60.02,57.60 57.88,58.73 55.40,59.70 C52.92,60.67 49.57,61.27 46.90,61.80 C44.23,62.33 41.53,62.80 39.40,62.90 C37.27,63.00 35.87,62.40 34.10,62.40 C32.33,62.40 31.10,63.03 28.80,62.90 C26.50,62.77 22.97,62.22 20.30,61.60 C17.63,60.98 15.12,60.40 12.80,59.20 C10.48,58.00 8.18,56.45 6.40,54.40 C4.62,52.35 3.08,49.57 2.10,46.90 C1.12,44.23 0.82,41.23 0.50,38.40 C0.18,35.57 0.20,32.38 0.20,29.90 C0.20,27.42 0.35,25.37 0.50,23.50 C0.65,21.63 -0.42,19.87 1.10,18.70 Z" fill="#8a8a8a"/>
<path d="M2.63,19.93 C4.07,18.83 7.69,18.32 10.74,17.86 C13.80,17.41 17.06,17.36 20.96,17.20 C24.86,17.05 29.91,16.92 34.14,16.92 C38.37,16.92 42.46,16.95 46.36,17.20 C50.26,17.45 54.31,17.82 57.54,18.43 C60.77,19.04 64.05,19.54 65.75,20.87 C67.45,22.20 67.34,24.33 67.76,26.42 C68.17,28.50 68.31,30.71 68.23,33.37 C68.15,36.04 67.87,39.72 67.28,42.40 C66.69,45.08 65.81,47.35 64.70,49.45 C63.59,51.55 62.30,53.49 60.59,54.99 C58.89,56.50 56.85,57.56 54.48,58.47 C52.11,59.38 48.91,59.94 46.36,60.44 C43.82,60.95 41.24,61.38 39.20,61.48 C37.16,61.57 35.83,61.01 34.14,61.01 C32.45,61.01 31.28,61.60 29.08,61.48 C26.88,61.35 23.51,60.84 20.96,60.26 C18.41,59.68 16.01,59.13 13.80,58.00 C11.59,56.87 9.39,55.41 7.69,53.49 C5.98,51.56 4.52,48.94 3.58,46.44 C2.64,43.93 2.35,41.11 2.05,38.45 C1.75,35.78 1.77,32.79 1.77,30.46 C1.77,28.12 1.91,26.20 2.05,24.44 C2.20,22.69 1.18,21.03 2.63,19.93 Z" fill="#2c2c2c"/>
<path d="M3.30,20.44 C4.72,19.38 8.26,18.87 11.25,18.43 C14.24,17.99 17.44,17.94 21.26,17.79 C25.07,17.64 30.01,17.51 34.16,17.51 C38.30,17.51 42.31,17.55 46.13,17.79 C49.94,18.03 53.90,18.38 57.07,18.98 C60.23,19.57 63.44,20.06 65.11,21.36 C66.77,22.65 66.67,24.73 67.07,26.76 C67.48,28.78 67.62,30.93 67.54,33.53 C67.46,36.12 67.18,39.70 66.60,42.31 C66.03,44.92 65.17,47.13 64.08,49.17 C62.99,51.22 61.73,53.11 60.06,54.57 C58.39,56.04 56.40,57.07 54.07,57.96 C51.75,58.84 48.62,59.39 46.13,59.88 C43.63,60.37 41.11,60.79 39.11,60.89 C37.12,60.98 35.81,60.43 34.16,60.43 C32.51,60.43 31.35,61.01 29.20,60.89 C27.05,60.76 23.75,60.26 21.26,59.70 C18.76,59.13 16.41,58.60 14.24,57.50 C12.08,56.40 9.93,54.98 8.26,53.11 C6.59,51.23 5.16,48.69 4.24,46.25 C3.32,43.81 3.04,41.06 2.74,38.47 C2.45,35.88 2.46,32.96 2.46,30.69 C2.46,28.42 2.60,26.54 2.74,24.83 C2.88,23.13 1.89,21.51 3.30,20.44 Z" fill="#747474"/>
<path d="M4.83,21.77 C6.18,20.78 9.55,20.32 12.39,19.91 C15.24,19.49 18.28,19.45 21.92,19.31 C25.55,19.17 30.25,19.05 34.20,19.05 C38.14,19.05 41.96,19.08 45.59,19.31 C49.23,19.54 52.99,19.86 56.00,20.42 C59.02,20.97 62.07,21.42 63.66,22.62 C65.25,23.83 65.14,25.76 65.53,27.64 C65.91,29.52 66.05,31.52 65.97,33.93 C65.90,36.34 65.63,39.67 65.08,42.09 C64.53,44.51 63.72,46.57 62.68,48.47 C61.64,50.36 60.44,52.12 58.85,53.48 C57.26,54.84 55.37,55.80 53.16,56.62 C50.95,57.45 47.96,57.96 45.59,58.41 C43.22,58.86 40.81,59.26 38.92,59.34 C37.02,59.43 35.77,58.92 34.20,58.92 C32.63,58.92 31.53,59.46 29.48,59.34 C27.43,59.23 24.29,58.76 21.92,58.24 C19.54,57.72 17.30,57.22 15.24,56.20 C13.18,55.18 11.13,53.86 9.55,52.12 C7.96,50.38 6.59,48.01 5.72,45.74 C4.84,43.48 4.58,40.93 4.29,38.52 C4.01,36.11 4.03,33.41 4.03,31.29 C4.03,29.18 4.16,27.44 4.29,25.86 C4.43,24.27 3.48,22.77 4.83,21.77 Z" fill="#3c3c3c"/>
<path d="M5.51,22.39 C6.83,21.43 10.12,20.98 12.90,20.59 C15.69,20.19 18.66,20.15 22.21,20.01 C25.76,19.88 30.36,19.77 34.22,19.77 C38.07,19.77 41.80,19.79 45.35,20.01 C48.91,20.23 52.59,20.55 55.53,21.08 C58.48,21.61 61.46,22.05 63.01,23.21 C64.57,24.37 64.46,26.23 64.84,28.05 C65.22,29.87 65.35,31.79 65.28,34.12 C65.20,36.44 64.94,39.65 64.41,41.99 C63.87,44.33 63.07,46.31 62.06,48.14 C61.04,49.97 59.87,51.66 58.32,52.98 C56.76,54.29 54.91,55.22 52.75,56.01 C50.59,56.80 47.67,57.29 45.35,57.73 C43.03,58.17 40.68,58.55 38.83,58.63 C36.97,58.72 35.75,58.22 34.22,58.22 C32.68,58.22 31.61,58.74 29.61,58.63 C27.61,58.52 24.53,58.07 22.21,57.57 C19.89,57.06 17.70,56.58 15.69,55.60 C13.67,54.62 11.67,53.34 10.12,51.66 C8.57,49.98 7.23,47.70 6.38,45.51 C5.52,43.33 5.26,40.87 4.98,38.54 C4.71,36.22 4.72,33.61 4.72,31.57 C4.72,29.54 4.85,27.86 4.98,26.33 C5.12,24.80 4.19,23.35 5.51,22.39 Z" fill="#5c5c5c"/>
<path d="M8.00,50.00 C9.33,49.83 15.50,54.33 20.00,55.50 C24.50,56.67 30.00,57.00 35.00,57.00 C40.00,57.00 45.50,56.67 50.00,55.50 C54.50,54.33 60.67,49.83 62.00,50.00 C63.33,50.17 60.67,54.92 58.00,56.50 C55.33,58.08 49.83,58.88 46.00,59.50 C42.17,60.12 38.67,60.20 35.00,60.20 C31.33,60.20 27.83,60.12 24.00,59.50 C20.17,58.88 14.67,58.08 12.00,56.50 C9.33,54.92 6.67,50.17 8.00,50.00 Z" fill="#9a9a9a"/>
<path d="M4.30,29.90 C4.83,27.58 5.90,25.67 7.50,24.50 C9.10,23.33 11.77,23.07 13.90,22.90 C16.03,22.73 18.53,22.70 20.30,23.50 C22.07,24.30 23.43,26.12 24.50,27.70 C25.57,29.28 25.98,31.05 26.70,33.00 C27.42,34.95 28.10,37.80 28.80,39.40 C29.50,41.00 30.02,41.88 30.90,42.60 C31.78,43.32 31.97,43.52 34.10,43.70 C36.23,43.88 41.03,43.52 43.70,43.70 C46.37,43.88 48.68,43.92 50.10,44.80 C51.52,45.68 52.20,47.58 52.20,49.00 C52.20,50.42 51.87,52.23 50.10,53.30 C48.33,54.37 44.80,54.95 41.60,55.40 C38.40,55.85 34.45,56.17 30.90,56.00 C27.35,55.83 23.50,55.20 20.30,54.40 C17.10,53.60 14.02,52.63 11.70,51.20 C9.38,49.77 7.63,47.93 6.40,45.80 C5.17,43.67 4.65,41.05 4.30,38.40 C3.95,35.75 3.77,32.22 4.30,29.90 Z" fill="#a4a4a4"/>
<ellipse cx="14" cy="34" rx="8" ry="9" fill="#b0b0b0"/>
<path d="M23,24 C26,26 28,30 29,34 C27,34 25,31 23,28Z" fill="#2a2a2a"/>
<path d="M27,40 C30,43 34,44 37,44 C35,42 32,40 29,38Z" fill="#303030"/>
<ellipse cx="20" cy="42" rx="2.5" ry="1.2" fill="#4a4a4a" transform="rotate(25 20 42)"/>
<path d="M22.00,18.50 C24.00,17.80 31.17,17.80 35.00,17.80 C38.83,17.80 43.50,17.63 45.00,18.50 C46.50,19.37 45.17,21.92 44.00,23.00 C42.83,24.08 39.83,24.58 38.00,25.00 C36.17,25.42 34.83,25.67 33.00,25.50 C31.17,25.33 28.67,24.58 27.00,24.00 C25.33,23.42 23.83,22.92 23.00,22.00 C22.17,21.08 20.00,19.20 22.00,18.50 Z" fill="#6a6a6a"/>
<circle cx="30" cy="21" r="1.2" fill="#333"/><circle cx="36" cy="20.5" r="1" fill="#3a3a3a"/><circle cx="40" cy="22.5" r="1.1" fill="#353535"/>
<circle cx="32" cy="33" r="5.2" fill="#2e2e2e"/><circle cx="32" cy="33" r="4.4" fill="#888"/>
<circle cx="38.9" cy="36.8" r="2.3" fill="#333"/><circle cx="38.9" cy="36.8" r="1.7" fill="#8a8a8a"/>
<path d="M42.00,24.00 C43.50,22.58 47.33,21.75 50.00,21.50 C52.67,21.25 55.67,21.58 58.00,22.50 C60.33,23.42 62.67,25.08 64.00,27.00 C65.33,28.92 65.83,31.50 66.00,34.00 C66.17,36.50 65.67,39.83 65.00,42.00 C64.33,44.17 63.50,46.17 62.00,47.00 C60.50,47.83 57.67,47.67 56.00,47.00 C54.33,46.33 53.50,44.33 52.00,43.00 C50.50,41.67 48.50,40.33 47.00,39.00 C45.50,37.67 44.00,36.50 43.00,35.00 C42.00,33.50 41.17,31.83 41.00,30.00 C40.83,28.17 40.50,25.42 42.00,24.00 Z" fill="#6c6c6c"/>
<path d="M46.00,27.00 C47.00,25.92 51.50,24.33 54.00,24.50 C56.50,24.67 59.42,26.25 61.00,28.00 C62.58,29.75 63.33,32.67 63.50,35.00 C63.67,37.33 62.92,41.50 62.00,42.00 C61.08,42.50 59.50,39.33 58.00,38.00 C56.50,36.67 54.67,35.17 53.00,34.00 C51.33,32.83 49.17,32.17 48.00,31.00 C46.83,29.83 45.00,28.08 46.00,27.00 Z" fill="#7a7a7a"/>
<path d="M43.00,32.00 C43.92,32.25 46.17,35.08 48.00,36.50 C49.83,37.92 52.17,39.08 54.00,40.50 C55.83,41.92 57.67,43.75 59.00,45.00 C60.33,46.25 62.00,47.42 62.00,48.00 C62.00,48.58 60.50,49.08 59.00,48.50 C57.50,47.92 55.00,46.00 53.00,44.50 C51.00,43.00 48.75,41.08 47.00,39.50 C45.25,37.92 43.17,36.25 42.50,35.00 C41.83,33.75 42.08,31.75 43.00,32.00 Z" fill="#2c2c2c"/>
<ellipse cx="24" cy="59.4" rx="2.1" ry="1.3" fill="#b4b4b4"/>
<ellipse cx="29" cy="59.4" rx="2.1" ry="1.3" fill="#b4b4b4"/>
<ellipse cx="35" cy="59.4" rx="2.1" ry="1.3" fill="#b4b4b4"/>
<ellipse cx="41" cy="59.4" rx="2.1" ry="1.3" fill="#b4b4b4"/>
<ellipse cx="46" cy="59.4" rx="2.1" ry="1.3" fill="#b4b4b4"/>
</g></g></g>
<rect x="33.00" y="208.60" width="9.60" height="9.60" fill="none" stroke="#e0282e" stroke-width="1"/>
<rect x="54.00" y="212.30" width="9.00" height="9.20" fill="none" stroke="#2f7ec1" stroke-width="1"/>
<rect x="71.40" y="196.00" width="10.40" height="9.80" fill="none" stroke="#36a23a" stroke-width="1"/>
<rect x="33.00" y="283.20" width="9.60" height="9.60" fill="none" stroke="#e0282e" stroke-width="1"/>
<rect x="54.00" y="286.90" width="9.00" height="9.20" fill="none" stroke="#2f7ec1" stroke-width="1"/>
<rect x="71.40" y="270.60" width="10.40" height="9.80" fill="none" stroke="#36a23a" stroke-width="1"/>
<text x="16.50" y="208.00" font-size="8.80" text-anchor="middle" stroke="#000" stroke-width="0.18" transform="rotate(-90 16.50 208.00)">Original</text>
<text x="16.50" y="278.40" font-size="8.80" text-anchor="middle" stroke="#000" stroke-width="0.18" transform="rotate(-90 16.50 278.40)">Decompressed</text>
<text x="135.20" y="165.90" font-size="8.80" text-anchor="middle" stroke="#000" stroke-width="0.18">ROI1</text>
<svg x="99.00" y="169.40" width="72.40" height="71.30" viewBox="0 0 72 72" preserveAspectRatio="none"><g filter="url(#nzL)"><rect width="72" height="72" fill="#dedede"/><g filter="url(#blur1)"><path d="M5,49 C11,41 21,35 32,30.5" stroke="#aeaeae" stroke-width="2.4" fill="none"/><path d="M40,27.5 C48,24 58,24 71,33" stroke="#bdbdbd" stroke-width="2.2" fill="none"/><circle cx="67.7" cy="33.6" r="2.4" fill="#8c8c8c"/><path d="M47.5,52 L47.5,73" stroke="#f6f6f6" stroke-width="2.2"/><circle cx="36.2" cy="18.4" r="6" fill="#8a8a8a"/><circle cx="36.2" cy="18.4" r="4" fill="#050505"/><circle cx="51.7" cy="62.5" r="3.6" fill="#777"/><circle cx="51.7" cy="62.5" r="2.4" fill="#1a1a1a"/></g></g><line x1="19.5" y1="19" x2="54" y2="53" stroke="#000" stroke-width="2.1" stroke-dasharray="6.4 2.9"/></svg>
<rect x="100.00" y="170.40" width="70.40" height="69.30" fill="none" stroke="#e0282e" stroke-width="2"/>
<svg x="99.00" y="244.00" width="72.40" height="71.50" viewBox="0 0 72 72" preserveAspectRatio="none"><g filter="url(#nzL)"><rect width="72" height="72" fill="#dedede"/><g filter="url(#blur1)"><path d="M5,49 C11,41 21,35 32,30.5" stroke="#aeaeae" stroke-width="2.4" fill="none"/><path d="M40,27.5 C48,24 58,24 71,33" stroke="#bdbdbd" stroke-width="2.2" fill="none"/><circle cx="67.7" cy="33.6" r="2.4" fill="#8c8c8c"/><path d="M47.5,52 L47.5,73" stroke="#f6f6f6" stroke-width="2.2"/><circle cx="36.2" cy="18.4" r="6" fill="#8a8a8a"/><circle cx="36.2" cy="18.4" r="4" fill="#050505"/><circle cx="51.7" cy="62.5" r="3.6" fill="#777"/><circle cx="51.7" cy="62.5" r="2.4" fill="#1a1a1a"/></g></g><line x1="19.5" y1="19" x2="54" y2="53" stroke="#000" stroke-width="2.1" stroke-dasharray="6.4 2.9"/></svg>
<rect x="100.00" y="245.00" width="70.40" height="69.50" fill="none" stroke="#e0282e" stroke-width="2"/>
<text x="209.75" y="165.90" font-size="8.80" text-anchor="middle" stroke="#000" stroke-width="0.18">ROI2</text>
<svg x="173.70" y="169.40" width="72.10" height="71.30" viewBox="0 0 72 72" preserveAspectRatio="none"><g filter="url(#nzL)"><rect width="72" height="72" fill="#c6c6c6"/><g filter="url(#blur1)"><path d="M-4,-2 L30,-2 C22,7 12,12 -4,15Z" fill="#5a5a5a"/><path d="M-2,-2 L74,-2 L74,5.5 C50,5.5 20,5.5 -2,8Z" fill="#1e1e1e"/><path d="M16,11.5 C35,10 55,10 74,10.5" stroke="#ececec" stroke-width="4" fill="none"/><path d="M-2,33 C25,35 50,30 74,26" stroke="#9c9c9c" stroke-width="4" fill="none"/><path d="M-2,54 C20,58 45,60 74,61" stroke="#939393" stroke-width="5" fill="none"/><ellipse cx="4" cy="56" rx="5" ry="5" fill="#7a7a7a"/><circle cx="37" cy="16" r="2.2" fill="#909090"/><circle cx="60" cy="57" r="2.2" fill="#8a8a8a"/><circle cx="8" cy="42" r="2" fill="#e8e8e8"/></g></g><line x1="19.5" y1="19" x2="54" y2="53" stroke="#000" stroke-width="2.1" stroke-dasharray="6.4 2.9"/></svg>
<rect x="174.70" y="170.40" width="70.10" height="69.30" fill="none" stroke="#2f7ec1" stroke-width="2"/>
<svg x="173.70" y="244.00" width="72.10" height="71.50" viewBox="0 0 72 72" preserveAspectRatio="none"><g filter="url(#nzL)"><rect width="72" height="72" fill="#c6c6c6"/><g filter="url(#blur1)"><path d="M-4,-2 L30,-2 C22,7 12,12 -4,15Z" fill="#5a5a5a"/><path d="M-2,-2 L74,-2 L74,5.5 C50,5.5 20,5.5 -2,8Z" fill="#1e1e1e"/><path d="M16,11.5 C35,10 55,10 74,10.5" stroke="#ececec" stroke-width="4" fill="none"/><path d="M-2,33 C25,35 50,30 74,26" stroke="#9c9c9c" stroke-width="4" fill="none"/><path d="M-2,54 C20,58 45,60 74,61" stroke="#939393" stroke-width="5" fill="none"/><ellipse cx="4" cy="56" rx="5" ry="5" fill="#7a7a7a"/><circle cx="37" cy="16" r="2.2" fill="#909090"/><circle cx="60" cy="57" r="2.2" fill="#8a8a8a"/><circle cx="8" cy="42" r="2" fill="#e8e8e8"/></g></g><line x1="19.5" y1="19" x2="54" y2="53" stroke="#000" stroke-width="2.1" stroke-dasharray="6.4 2.9"/></svg>
<rect x="174.70" y="245.00" width="70.10" height="69.50" fill="none" stroke="#2f7ec1" stroke-width="2"/>
<text x="284.20" y="165.90" font-size="8.80" text-anchor="middle" stroke="#000" stroke-width="0.18">ROI3</text>
<svg x="248.10" y="169.40" width="72.20" height="71.30" viewBox="0 0 72 72" preserveAspectRatio="none"><g filter="url(#nzL)"><rect width="72" height="72" fill="#cecece"/><g filter="url(#blur06)"><path d="M-2,62 C3,62.3 8,63.5 12.5,66 C16,68 19,70 22,73 L-2,73Z" fill="#1c1c1c"/><path d="M-2,59.2 C6,59.6 15,62.5 25,69" stroke="#f4f4f4" stroke-width="2.2" fill="none"/></g></g><line x1="19.5" y1="19" x2="54" y2="53" stroke="#000" stroke-width="2.1" stroke-dasharray="6.4 2.9"/></svg>
<rect x="249.10" y="170.40" width="70.20" height="69.30" fill="none" stroke="#36a23a" stroke-width="2"/>
<svg x="248.10" y="244.00" width="72.20" height="71.50" viewBox="0 0 72 72" preserveAspectRatio="none"><g filter="url(#nzL)"><rect width="72" height="72" fill="#cecece"/><g filter="url(#blur06)"><path d="M-2,62 C3,62.3 8,63.5 12.5,66 C16,68 19,70 22,73 L-2,73Z" fill="#1c1c1c"/><path d="M-2,59.2 C6,59.6 15,62.5 25,69" stroke="#f4f4f4" stroke-width="2.2" fill="none"/></g></g><line x1="19.5" y1="19" x2="54" y2="53" stroke="#000" stroke-width="2.1" stroke-dasharray="6.4 2.9"/></svg>
<rect x="249.10" y="245.00" width="70.20" height="69.50" fill="none" stroke="#36a23a" stroke-width="2"/>
<line x1="196.10" y1="325.60" x2="209.40" y2="325.60" stroke="#b0b0b0" stroke-width="1.3" />
<text x="213.90" y="328.20" font-size="6.71" stroke="#000" stroke-width="0.18" textLength="23.87" lengthAdjust="spacingAndGlyphs">Original</text>
<line x1="249.70" y1="325.60" x2="263.00" y2="325.60" stroke="#9b3fb0" stroke-width="1.3" />
<text x="267.70" y="328.20" font-size="6.71" stroke="#000" stroke-width="0.18" textLength="45.46" lengthAdjust="spacingAndGlyphs">Decompressed</text>
<line x1="38.50" y1="369.50" x2="107.70" y2="369.50" stroke="#e6e6e6" stroke-width="0.7" />
<line x1="38.50" y1="394.60" x2="107.70" y2="394.60" stroke="#e6e6e6" stroke-width="0.7" />
<polyline points="38.54,356.60 40.82,350.47 42.92,352.22 47.30,373.24 49.93,374.12 52.21,376.75 54.66,393.39 56.94,396.02 59.04,389.89 61.32,390.76 63.95,403.03 66.22,404.43 69.20,383.75 72.18,360.98 75.33,354.85 77.96,360.98 81.81,380.60 85.84,366.23 89.00,362.38 91.10,362.73 95.48,355.37 98.11,357.48 100.74,367.11 104.77,382.35" fill="none" stroke="#a9a9a9" stroke-width="1.5" stroke-linejoin="round" stroke-linecap="round" />
<polyline points="38.54,356.90 40.82,350.77 42.92,352.52 47.30,373.54 49.93,374.42 52.21,377.05 54.66,393.69 56.94,396.32 59.04,390.19 61.32,391.06 63.95,403.33 66.22,404.73 69.20,384.05 72.18,361.28 75.33,355.15 77.96,361.28 81.81,380.90 85.84,366.53 89.00,362.68 91.10,363.03 95.48,355.67 98.11,357.78 100.74,367.41 104.77,382.65" fill="none" stroke="#7a1f8e" stroke-width="1.45" stroke-linejoin="round" stroke-linecap="round" />
<line x1="38.50" y1="347.30" x2="38.50" y2="407.60" stroke="#222" stroke-width="0.9" />
<line x1="38.10" y1="407.20" x2="107.70" y2="407.20" stroke="#222" stroke-width="0.9" />
<line x1="36.00" y1="369.50" x2="38.50" y2="369.50" stroke="#222" stroke-width="0.7" />
<text x="34.50" y="371.70" font-size="6.71" text-anchor="end" stroke="#000" stroke-width="0.18" textLength="11.64" lengthAdjust="spacingAndGlyphs">320</text>
<line x1="36.00" y1="394.60" x2="38.50" y2="394.60" stroke="#222" stroke-width="0.7" />
<text x="34.50" y="396.80" font-size="6.71" text-anchor="end" stroke="#000" stroke-width="0.18" textLength="11.64" lengthAdjust="spacingAndGlyphs">300</text>
<line x1="38.50" y1="407.20" x2="38.50" y2="409.70" stroke="#222" stroke-width="0.7" />
<text x="38.50" y="416.90" font-size="6.71" text-anchor="middle" stroke="#000" stroke-width="0.18" textLength="3.88" lengthAdjust="spacingAndGlyphs">0</text>
<line x1="84.40" y1="407.20" x2="84.40" y2="409.70" stroke="#222" stroke-width="0.7" />
<text x="84.40" y="416.90" font-size="6.71" text-anchor="middle" stroke="#000" stroke-width="0.18" textLength="7.76" lengthAdjust="spacingAndGlyphs">20</text>
<text x="73.60" y="343.80" font-size="7.81" text-anchor="middle" stroke="#000" stroke-width="0.18" textLength="17.13" lengthAdjust="spacingAndGlyphs">ROI1</text>
<text x="72.10" y="425.40" font-size="6.71" text-anchor="middle" stroke="#000" stroke-width="0.18" textLength="40.85" lengthAdjust="spacingAndGlyphs">Distance (px)</text>
<text x="17.30" y="377.25" font-size="6.71" text-anchor="middle" stroke="#000" stroke-width="0.18" textLength="26.55" lengthAdjust="spacingAndGlyphs" transform="rotate(-90 17.30 377.25)">Intensity</text>
<line x1="139.80" y1="348.10" x2="209.50" y2="348.10" stroke="#e6e6e6" stroke-width="0.7" />
<line x1="139.80" y1="377.40" x2="209.50" y2="377.40" stroke="#e6e6e6" stroke-width="0.7" />
<line x1="139.80" y1="406.50" x2="209.50" y2="406.50" stroke="#e6e6e6" stroke-width="0.7" />
<polyline points="139.78,350.12 144.16,362.73 148.89,353.10 151.17,354.50 153.45,358.00 155.90,358.70 158.18,367.11 161.68,390.76 164.66,401.27 166.94,403.90 169.22,397.77 171.67,382.00 173.95,371.84 176.22,372.89 178.33,377.62 180.60,375.87 183.23,368.51 185.68,371.49 187.96,376.75 190.24,382.88 193.22,380.60 197.07,376.75" fill="none" stroke="#a9a9a9" stroke-width="1.5" stroke-linejoin="round" stroke-linecap="round" />
<polyline points="139.78,350.42 144.16,363.03 148.89,353.40 151.17,354.80 153.45,358.30 155.90,359.00 158.18,367.41 161.68,391.06 164.66,401.57 166.94,404.20 169.22,398.07 171.67,382.30 173.95,372.14 176.22,373.19 178.33,377.92 180.60,376.17 183.23,368.81 185.68,371.79 187.96,377.05 190.24,383.18 193.22,380.90 197.07,377.05" fill="none" stroke="#7a1f8e" stroke-width="1.45" stroke-linejoin="round" stroke-linecap="round" />
<line x1="139.80" y1="347.30" x2="139.80" y2="407.20" stroke="#222" stroke-width="0.9" />
<line x1="139.40" y1="406.80" x2="209.50" y2="406.80" stroke="#222" stroke-width="0.9" />
<line x1="137.30" y1="348.10" x2="139.80" y2="348.10" stroke="#222" stroke-width="0.7" />
<text x="135.80" y="350.30" font-size="6.71" text-anchor="end" stroke="#000" stroke-width="0.18" textLength="11.64" lengthAdjust="spacingAndGlyphs">300</text>
<line x1="137.30" y1="377.40" x2="139.80" y2="377.40" stroke="#222" stroke-width="0.7" />
<text x="135.80" y="379.60" font-size="6.71" text-anchor="end" stroke="#000" stroke-width="0.18" textLength="11.64" lengthAdjust="spacingAndGlyphs">250</text>
<line x1="137.30" y1="406.50" x2="139.80" y2="406.50" stroke="#222" stroke-width="0.7" />
<text x="135.80" y="408.70" font-size="6.71" text-anchor="end" stroke="#000" stroke-width="0.18" textLength="11.64" lengthAdjust="spacingAndGlyphs">200</text>
<line x1="139.80" y1="406.80" x2="139.80" y2="409.30" stroke="#222" stroke-width="0.7" />
<text x="139.80" y="416.50" font-size="6.71" text-anchor="middle" stroke="#000" stroke-width="0.18" textLength="3.88" lengthAdjust="spacingAndGlyphs">0</text>
<line x1="185.70" y1="406.80" x2="185.70" y2="409.30" stroke="#222" stroke-width="0.7" />
<text x="185.70" y="416.50" font-size="6.71" text-anchor="middle" stroke="#000" stroke-width="0.18" textLength="7.76" lengthAdjust="spacingAndGlyphs">20</text>
<text x="174.50" y="343.80" font-size="7.81" text-anchor="middle" stroke="#000" stroke-width="0.18" textLength="17.13" lengthAdjust="spacingAndGlyphs">ROI2</text>
<text x="173.65" y="425.40" font-size="6.71" text-anchor="middle" stroke="#000" stroke-width="0.18" textLength="40.85" lengthAdjust="spacingAndGlyphs">Distance (px)</text>
<text x="118.60" y="377.05" font-size="6.71" text-anchor="middle" stroke="#000" stroke-width="0.18" textLength="26.55" lengthAdjust="spacingAndGlyphs" transform="rotate(-90 118.60 377.05)">Intensity</text>
<line x1="241.20" y1="367.40" x2="310.20" y2="367.40" stroke="#e6e6e6" stroke-width="0.7" />
<line x1="241.20" y1="389.30" x2="310.20" y2="389.30" stroke="#e6e6e6" stroke-width="0.7" />
<polyline points="241.18,379.15 244.16,377.05 246.44,380.55 248.89,389.66 250.64,397.02 252.92,398.07 255.20,402.28 256.95,402.80 259.93,393.17 262.56,385.28 264.31,382.30 266.41,382.65 268.16,383.18 270.44,379.50 272.72,379.50 275.17,377.05 277.45,366.01 279.20,358.13 281.83,353.75 284.46,350.77 286.73,351.12 288.84,358.13 291.46,368.64 293.74,375.65 295.84,378.80 298.12,376.52 300.22,369.51 302.85,368.64 304.95,367.76 307.23,360.23" fill="none" stroke="#a9a9a9" stroke-width="1.5" stroke-linejoin="round" stroke-linecap="round" />
<polyline points="241.18,380.55 244.16,378.45 246.44,381.95 248.89,391.06 250.64,398.42 252.92,399.47 255.20,403.68 256.95,404.20 259.93,394.57 262.56,386.68 264.31,383.70 266.41,384.05 268.16,384.58 270.44,380.90 272.72,380.90 275.17,378.45 277.45,367.41 279.20,359.53 281.83,355.15 284.46,352.17 286.73,352.52 288.84,359.53 291.46,370.04 293.74,377.05 295.84,380.20 298.12,377.92 300.22,370.91 302.85,370.04 304.95,369.16 307.23,361.63" fill="none" stroke="#7a1f8e" stroke-width="1.45" stroke-linejoin="round" stroke-linecap="round" />
<line x1="241.20" y1="347.30" x2="241.20" y2="407.20" stroke="#222" stroke-width="0.9" />
<line x1="240.80" y1="406.80" x2="310.20" y2="406.80" stroke="#222" stroke-width="0.9" />
<line x1="238.70" y1="367.40" x2="241.20" y2="367.40" stroke="#222" stroke-width="0.7" />
<text x="237.20" y="369.60" font-size="6.71" text-anchor="end" stroke="#000" stroke-width="0.18" textLength="9.70" lengthAdjust="spacingAndGlyphs">1.3</text>
<line x1="238.70" y1="389.30" x2="241.20" y2="389.30" stroke="#222" stroke-width="0.7" />
<text x="237.20" y="391.50" font-size="6.71" text-anchor="end" stroke="#000" stroke-width="0.18" textLength="9.70" lengthAdjust="spacingAndGlyphs">1.2</text>
<line x1="241.20" y1="406.80" x2="241.20" y2="409.30" stroke="#222" stroke-width="0.7" />
<text x="241.20" y="416.50" font-size="6.71" text-anchor="middle" stroke="#000" stroke-width="0.18" textLength="3.88" lengthAdjust="spacingAndGlyphs">0</text>
<line x1="286.60" y1="406.80" x2="286.60" y2="409.30" stroke="#222" stroke-width="0.7" />
<text x="286.60" y="416.50" font-size="6.71" text-anchor="middle" stroke="#000" stroke-width="0.18" textLength="7.76" lengthAdjust="spacingAndGlyphs">20</text>
<text x="275.70" y="343.80" font-size="7.81" text-anchor="middle" stroke="#000" stroke-width="0.18" textLength="17.13" lengthAdjust="spacingAndGlyphs">ROI3</text>
<text x="274.70" y="425.40" font-size="6.71" text-anchor="middle" stroke="#000" stroke-width="0.18" textLength="40.85" lengthAdjust="spacingAndGlyphs">Distance (px)</text>
<text x="220.00" y="377.05" font-size="6.71" text-anchor="middle" stroke="#000" stroke-width="0.18" textLength="26.55" lengthAdjust="spacingAndGlyphs" transform="rotate(-90 220.00 377.05)">Intensity</text>
<text x="241.50" y="342.90" font-size="6.71" stroke="#000" stroke-width="0.18" textLength="12.87" lengthAdjust="spacingAndGlyphs">×10</text>
<text x="254.37" y="340.30" font-size="4.73" stroke="#000" stroke-width="0.18" textLength="2.74" lengthAdjust="spacingAndGlyphs">2</text>
<text x="336.40" y="160.20" font-size="15.40" font-weight="bold" stroke="#000" stroke-width="0.18" textLength="10.45" lengthAdjust="spacingAndGlyphs">d</text>
<g transform="translate(361.3 170.2)"><rect x="0.00" y="0.00" width="70.70" height="70.40" fill="#121212"/>
<g filter="url(#nzCT)"><g filter="url(#blur05)">
<path d="M0.90,19.20 C2.47,17.50 6.22,17.07 9.40,16.50 C12.58,15.93 16.45,15.75 20.00,15.80 C23.55,15.85 28.20,16.67 30.70,16.80 C33.20,16.93 33.22,16.77 35.00,16.60 C36.78,16.43 38.03,15.87 41.40,15.80 C44.77,15.73 50.93,15.72 55.20,16.20 C59.47,16.68 64.55,17.13 67.00,18.70 C69.45,20.27 69.47,22.85 69.90,25.60 C70.33,28.35 70.10,32.00 69.60,35.20 C69.10,38.40 68.23,41.78 66.90,44.80 C65.57,47.82 63.72,51.00 61.60,53.30 C59.48,55.60 56.87,57.27 54.20,58.60 C51.53,59.93 48.80,60.77 45.60,61.30 C42.40,61.83 38.37,61.80 35.00,61.80 C31.63,61.80 28.43,61.73 25.40,61.30 C22.37,60.87 19.47,60.35 16.80,59.20 C14.13,58.05 11.70,56.63 9.40,54.40 C7.10,52.17 4.52,48.83 3.00,45.80 C1.48,42.77 0.80,39.38 0.30,36.20 C-0.20,33.02 -0.10,29.53 0.00,26.70 C0.10,23.87 -0.67,20.90 0.90,19.20 Z" fill="#7c7c7c"/>
<path d="M2.09,20.08 C3.61,18.45 7.22,18.04 10.30,17.50 C13.37,16.96 17.10,16.78 20.52,16.83 C23.95,16.88 28.44,17.66 30.85,17.79 C33.26,17.91 33.28,17.75 35.00,17.59 C36.72,17.44 37.93,16.89 41.18,16.83 C44.42,16.77 50.38,16.75 54.49,17.21 C58.61,17.67 63.52,18.10 65.88,19.60 C68.24,21.10 68.26,23.56 68.68,26.19 C69.10,28.82 68.87,32.30 68.39,35.36 C67.91,38.41 67.07,41.64 65.78,44.53 C64.50,47.41 62.71,50.45 60.67,52.64 C58.63,54.84 56.10,56.43 53.53,57.70 C50.95,58.98 48.32,59.77 45.23,60.28 C42.14,60.79 38.25,60.76 35.00,60.76 C31.75,60.76 28.66,60.70 25.74,60.28 C22.81,59.87 20.01,59.38 17.44,58.28 C14.86,57.18 12.52,55.83 10.30,53.69 C8.08,51.56 5.58,48.38 4.12,45.48 C2.66,42.58 2.00,39.35 1.51,36.31 C1.03,33.27 1.13,29.95 1.23,27.24 C1.32,24.53 0.58,21.70 2.09,20.08 Z" fill="#262626"/>
<path d="M2.60,20.47 C4.09,18.88 7.66,18.47 10.68,17.94 C13.70,17.41 17.38,17.24 20.75,17.29 C24.12,17.34 28.54,18.10 30.91,18.22 C33.29,18.35 33.31,18.19 35.00,18.04 C36.69,17.88 37.88,17.35 41.08,17.29 C44.28,17.23 50.14,17.21 54.19,17.66 C58.24,18.11 63.07,18.54 65.40,20.00 C67.73,21.46 67.74,23.88 68.16,26.45 C68.57,29.02 68.34,32.44 67.87,35.43 C67.39,38.42 66.57,41.58 65.31,44.40 C64.04,47.22 62.28,50.20 60.27,52.35 C58.26,54.50 55.77,56.06 53.24,57.31 C50.71,58.55 48.11,59.33 45.07,59.83 C42.03,60.33 38.20,60.30 35.00,60.30 C31.80,60.30 28.76,60.24 25.88,59.83 C23.00,59.43 20.24,58.94 17.71,57.87 C15.18,56.79 12.87,55.47 10.68,53.38 C8.49,51.29 6.04,48.17 4.60,45.34 C3.16,42.50 2.51,39.34 2.03,36.36 C1.56,33.39 1.66,30.13 1.75,27.48 C1.84,24.83 1.12,22.06 2.60,20.47 Z" fill="#5a5a5a"/>
<path d="M3.80,21.34 C5.23,19.83 8.66,19.45 11.58,18.94 C14.49,18.44 18.03,18.27 21.27,18.32 C24.52,18.36 28.78,19.09 31.07,19.21 C33.35,19.33 33.37,19.18 35.00,19.03 C36.63,18.88 37.78,18.38 40.86,18.32 C43.94,18.26 49.58,18.24 53.48,18.68 C57.39,19.11 62.04,19.51 64.28,20.90 C66.52,22.29 66.54,24.59 66.93,27.04 C67.33,29.49 67.12,32.74 66.66,35.59 C66.20,38.43 65.41,41.44 64.19,44.13 C62.97,46.81 61.28,49.65 59.34,51.69 C57.40,53.74 55.01,55.22 52.57,56.41 C50.13,57.60 47.63,58.34 44.70,58.81 C41.77,59.29 38.08,59.26 35.00,59.26 C31.92,59.26 28.99,59.20 26.22,58.81 C23.44,58.43 20.79,57.97 18.35,56.95 C15.91,55.92 13.68,54.66 11.58,52.67 C9.47,50.69 7.11,47.72 5.72,45.02 C4.33,42.32 3.71,39.31 3.25,36.48 C2.79,33.64 2.88,30.54 2.98,28.02 C3.07,25.50 2.36,22.86 3.80,21.34 Z" fill="#2c2c2c"/>
<path d="M4.31,21.73 C5.72,20.26 9.09,19.88 11.96,19.39 C14.82,18.89 18.30,18.73 21.50,18.78 C24.70,18.82 28.88,19.53 31.13,19.65 C33.38,19.76 33.40,19.62 35.00,19.47 C36.60,19.33 37.73,18.84 40.76,18.78 C43.79,18.72 49.34,18.70 53.18,19.12 C57.02,19.55 61.59,19.94 63.80,21.30 C66.00,22.66 66.02,24.91 66.41,27.30 C66.80,29.70 66.59,32.87 66.14,35.66 C65.69,38.44 64.91,41.38 63.71,44.01 C62.51,46.63 60.84,49.40 58.94,51.40 C57.03,53.40 54.68,54.85 52.28,56.01 C49.88,57.17 47.42,57.90 44.54,58.36 C41.66,58.83 38.03,58.80 35.00,58.80 C31.97,58.80 29.09,58.74 26.36,58.36 C23.63,57.98 21.02,57.54 18.62,56.54 C16.22,55.53 14.03,54.30 11.96,52.36 C9.89,50.42 7.56,47.52 6.20,44.88 C4.83,42.24 4.22,39.29 3.77,36.53 C3.32,33.76 3.41,30.72 3.50,28.26 C3.59,25.79 2.90,23.21 4.31,21.73 Z" fill="#3a3a3a"/>
<path d="M6.20,24.50 C7.35,22.10 9.20,21.60 11.50,20.80 C13.80,20.00 17.52,19.70 20.00,19.70 C22.48,19.70 24.88,19.82 26.40,20.80 C27.92,21.78 28.83,23.57 29.10,25.60 C29.37,27.63 28.35,30.52 28.00,33.00 C27.65,35.48 27.35,38.18 27.00,40.50 C26.65,42.82 26.00,44.77 25.90,46.90 C25.80,49.03 26.85,51.80 26.40,53.30 C25.95,54.80 24.97,55.55 23.20,55.90 C21.43,56.25 18.10,56.18 15.80,55.40 C13.50,54.62 11.00,52.97 9.40,51.20 C7.80,49.43 7.00,47.47 6.20,44.80 C5.40,42.13 4.60,38.58 4.60,35.20 C4.60,31.82 5.05,26.90 6.20,24.50 Z" fill="#141414"/>
<path d="M39.20,22.40 C39.83,20.98 41.37,20.75 43.50,20.30 C45.63,19.85 49.17,19.47 52.00,19.70 C54.83,19.93 58.28,20.45 60.50,21.70 C62.72,22.95 64.40,25.13 65.30,27.20 C66.20,29.27 66.17,31.88 65.90,34.10 C65.63,36.32 64.60,39.08 63.70,40.50 C62.80,41.92 61.73,42.95 60.50,42.60 C59.27,42.25 57.72,39.63 56.30,38.40 C54.88,37.17 53.60,36.00 52.00,35.20 C50.40,34.40 48.30,34.13 46.70,33.60 C45.10,33.07 43.57,32.80 42.40,32.00 C41.23,31.20 40.23,30.40 39.70,28.80 C39.17,27.20 38.57,23.82 39.20,22.40 Z" fill="#141414"/>
<path d="M29.50,18.50 C30.50,16.80 32.50,17.80 34.00,17.80 C35.50,17.80 37.83,16.97 38.50,18.50 C39.17,20.03 38.25,24.58 38.00,27.00 C37.75,29.42 37.83,31.17 37.00,33.00 C36.17,34.83 34.42,37.67 33.00,38.00 C31.58,38.33 29.33,36.67 28.50,35.00 C27.67,33.33 27.83,30.75 28.00,28.00 C28.17,25.25 28.50,20.20 29.50,18.50 Z" fill="#4e4e4e"/>
<circle cx="32.8" cy="32.5" r="4.4" fill="#626262"/>
<path d="M26.40,46.90 C26.65,45.65 27.03,43.75 28.10,42.60 C29.17,41.45 30.95,40.70 32.80,40.00 C34.65,39.30 36.88,39.30 39.20,38.40 C41.52,37.50 44.38,35.13 46.70,34.60 C49.02,34.07 51.32,34.40 53.10,35.20 C54.88,36.00 56.52,37.63 57.40,39.40 C58.28,41.17 58.58,43.67 58.40,45.80 C58.22,47.93 57.53,50.52 56.30,52.20 C55.07,53.88 53.13,55.10 51.00,55.90 C48.87,56.70 46.17,57.00 43.50,57.00 C40.83,57.00 37.32,56.52 35.00,55.90 C32.68,55.28 31.00,54.27 29.60,53.30 C28.20,52.33 27.13,51.17 26.60,50.10 C26.07,49.03 26.15,48.15 26.40,46.90 Z" fill="#868686"/>
<ellipse cx="32" cy="47.5" rx="5.2" ry="6" fill="#9c9c9c"/>
<ellipse cx="48" cy="44" rx="7" ry="7" fill="#8e8e8e"/>
<circle cx="40.3" cy="34.1" r="2.2" fill="#b4b4b4"/>
<rect x="31" y="57.2" width="8.5" height="4.2" rx="1.5" fill="#1e1e1e"/>
<ellipse cx="29.1" cy="59.2" rx="1.7" ry="1.4" fill="#cfcfcf"/>
<ellipse cx="41.4" cy="59.2" rx="1.7" ry="1.4" fill="#cfcfcf"/>
</g></g></g>
<rect x="374.90" y="198.20" width="8.00" height="7.70" fill="none" stroke="#2f7ec1" stroke-width="1"/>
<rect x="368.30" y="208.40" width="10.70" height="10.00" fill="none" stroke="#e0282e" stroke-width="1"/>
<rect x="406.10" y="193.30" width="8.80" height="9.60" fill="none" stroke="#36a23a" stroke-width="1"/>
<g transform="translate(361.3 244.6)"><rect x="0.00" y="0.00" width="70.70" height="70.40" fill="#121212"/>
<g filter="url(#nzCT)"><g filter="url(#blur05)">
<path d="M0.90,19.20 C2.47,17.50 6.22,17.07 9.40,16.50 C12.58,15.93 16.45,15.75 20.00,15.80 C23.55,15.85 28.20,16.67 30.70,16.80 C33.20,16.93 33.22,16.77 35.00,16.60 C36.78,16.43 38.03,15.87 41.40,15.80 C44.77,15.73 50.93,15.72 55.20,16.20 C59.47,16.68 64.55,17.13 67.00,18.70 C69.45,20.27 69.47,22.85 69.90,25.60 C70.33,28.35 70.10,32.00 69.60,35.20 C69.10,38.40 68.23,41.78 66.90,44.80 C65.57,47.82 63.72,51.00 61.60,53.30 C59.48,55.60 56.87,57.27 54.20,58.60 C51.53,59.93 48.80,60.77 45.60,61.30 C42.40,61.83 38.37,61.80 35.00,61.80 C31.63,61.80 28.43,61.73 25.40,61.30 C22.37,60.87 19.47,60.35 16.80,59.20 C14.13,58.05 11.70,56.63 9.40,54.40 C7.10,52.17 4.52,48.83 3.00,45.80 C1.48,42.77 0.80,39.38 0.30,36.20 C-0.20,33.02 -0.10,29.53 0.00,26.70 C0.10,23.87 -0.67,20.90 0.90,19.20 Z" fill="#7c7c7c"/>
<path d="M2.09,20.08 C3.61,18.45 7.22,18.04 10.30,17.50 C13.37,16.96 17.10,16.78 20.52,16.83 C23.95,16.88 28.44,17.66 30.85,17.79 C33.26,17.91 33.28,17.75 35.00,17.59 C36.72,17.44 37.93,16.89 41.18,16.83 C44.42,16.77 50.38,16.75 54.49,17.21 C58.61,17.67 63.52,18.10 65.88,19.60 C68.24,21.10 68.26,23.56 68.68,26.19 C69.10,28.82 68.87,32.30 68.39,35.36 C67.91,38.41 67.07,41.64 65.78,44.53 C64.50,47.41 62.71,50.45 60.67,52.64 C58.63,54.84 56.10,56.43 53.53,57.70 C50.95,58.98 48.32,59.77 45.23,60.28 C42.14,60.79 38.25,60.76 35.00,60.76 C31.75,60.76 28.66,60.70 25.74,60.28 C22.81,59.87 20.01,59.38 17.44,58.28 C14.86,57.18 12.52,55.83 10.30,53.69 C8.08,51.56 5.58,48.38 4.12,45.48 C2.66,42.58 2.00,39.35 1.51,36.31 C1.03,33.27 1.13,29.95 1.23,27.24 C1.32,24.53 0.58,21.70 2.09,20.08 Z" fill="#262626"/>
<path d="M2.60,20.47 C4.09,18.88 7.66,18.47 10.68,17.94 C13.70,17.41 17.38,17.24 20.75,17.29 C24.12,17.34 28.54,18.10 30.91,18.22 C33.29,18.35 33.31,18.19 35.00,18.04 C36.69,17.88 37.88,17.35 41.08,17.29 C44.28,17.23 50.14,17.21 54.19,17.66 C58.24,18.11 63.07,18.54 65.40,20.00 C67.73,21.46 67.74,23.88 68.16,26.45 C68.57,29.02 68.34,32.44 67.87,35.43 C67.39,38.42 66.57,41.58 65.31,44.40 C64.04,47.22 62.28,50.20 60.27,52.35 C58.26,54.50 55.77,56.06 53.24,57.31 C50.71,58.55 48.11,59.33 45.07,59.83 C42.03,60.33 38.20,60.30 35.00,60.30 C31.80,60.30 28.76,60.24 25.88,59.83 C23.00,59.43 20.24,58.94 17.71,57.87 C15.18,56.79 12.87,55.47 10.68,53.38 C8.49,51.29 6.04,48.17 4.60,45.34 C3.16,42.50 2.51,39.34 2.03,36.36 C1.56,33.39 1.66,30.13 1.75,27.48 C1.84,24.83 1.12,22.06 2.60,20.47 Z" fill="#5a5a5a"/>
<path d="M3.80,21.34 C5.23,19.83 8.66,19.45 11.58,18.94 C14.49,18.44 18.03,18.27 21.27,18.32 C24.52,18.36 28.78,19.09 31.07,19.21 C33.35,19.33 33.37,19.18 35.00,19.03 C36.63,18.88 37.78,18.38 40.86,18.32 C43.94,18.26 49.58,18.24 53.48,18.68 C57.39,19.11 62.04,19.51 64.28,20.90 C66.52,22.29 66.54,24.59 66.93,27.04 C67.33,29.49 67.12,32.74 66.66,35.59 C66.20,38.43 65.41,41.44 64.19,44.13 C62.97,46.81 61.28,49.65 59.34,51.69 C57.40,53.74 55.01,55.22 52.57,56.41 C50.13,57.60 47.63,58.34 44.70,58.81 C41.77,59.29 38.08,59.26 35.00,59.26 C31.92,59.26 28.99,59.20 26.22,58.81 C23.44,58.43 20.79,57.97 18.35,56.95 C15.91,55.92 13.68,54.66 11.58,52.67 C9.47,50.69 7.11,47.72 5.72,45.02 C4.33,42.32 3.71,39.31 3.25,36.48 C2.79,33.64 2.88,30.54 2.98,28.02 C3.07,25.50 2.36,22.86 3.80,21.34 Z" fill="#2c2c2c"/>
<path d="M4.31,21.73 C5.72,20.26 9.09,19.88 11.96,19.39 C14.82,18.89 18.30,18.73 21.50,18.78 C24.70,18.82 28.88,19.53 31.13,19.65 C33.38,19.76 33.40,19.62 35.00,19.47 C36.60,19.33 37.73,18.84 40.76,18.78 C43.79,18.72 49.34,18.70 53.18,19.12 C57.02,19.55 61.59,19.94 63.80,21.30 C66.00,22.66 66.02,24.91 66.41,27.30 C66.80,29.70 66.59,32.87 66.14,35.66 C65.69,38.44 64.91,41.38 63.71,44.01 C62.51,46.63 60.84,49.40 58.94,51.40 C57.03,53.40 54.68,54.85 52.28,56.01 C49.88,57.17 47.42,57.90 44.54,58.36 C41.66,58.83 38.03,58.80 35.00,58.80 C31.97,58.80 29.09,58.74 26.36,58.36 C23.63,57.98 21.02,57.54 18.62,56.54 C16.22,55.53 14.03,54.30 11.96,52.36 C9.89,50.42 7.56,47.52 6.20,44.88 C4.83,42.24 4.22,39.29 3.77,36.53 C3.32,33.76 3.41,30.72 3.50,28.26 C3.59,25.79 2.90,23.21 4.31,21.73 Z" fill="#3a3a3a"/>
<path d="M6.20,24.50 C7.35,22.10 9.20,21.60 11.50,20.80 C13.80,20.00 17.52,19.70 20.00,19.70 C22.48,19.70 24.88,19.82 26.40,20.80 C27.92,21.78 28.83,23.57 29.10,25.60 C29.37,27.63 28.35,30.52 28.00,33.00 C27.65,35.48 27.35,38.18 27.00,40.50 C26.65,42.82 26.00,44.77 25.90,46.90 C25.80,49.03 26.85,51.80 26.40,53.30 C25.95,54.80 24.97,55.55 23.20,55.90 C21.43,56.25 18.10,56.18 15.80,55.40 C13.50,54.62 11.00,52.97 9.40,51.20 C7.80,49.43 7.00,47.47 6.20,44.80 C5.40,42.13 4.60,38.58 4.60,35.20 C4.60,31.82 5.05,26.90 6.20,24.50 Z" fill="#141414"/>
<path d="M39.20,22.40 C39.83,20.98 41.37,20.75 43.50,20.30 C45.63,19.85 49.17,19.47 52.00,19.70 C54.83,19.93 58.28,20.45 60.50,21.70 C62.72,22.95 64.40,25.13 65.30,27.20 C66.20,29.27 66.17,31.88 65.90,34.10 C65.63,36.32 64.60,39.08 63.70,40.50 C62.80,41.92 61.73,42.95 60.50,42.60 C59.27,42.25 57.72,39.63 56.30,38.40 C54.88,37.17 53.60,36.00 52.00,35.20 C50.40,34.40 48.30,34.13 46.70,33.60 C45.10,33.07 43.57,32.80 42.40,32.00 C41.23,31.20 40.23,30.40 39.70,28.80 C39.17,27.20 38.57,23.82 39.20,22.40 Z" fill="#141414"/>
<path d="M29.50,18.50 C30.50,16.80 32.50,17.80 34.00,17.80 C35.50,17.80 37.83,16.97 38.50,18.50 C39.17,20.03 38.25,24.58 38.00,27.00 C37.75,29.42 37.83,31.17 37.00,33.00 C36.17,34.83 34.42,37.67 33.00,38.00 C31.58,38.33 29.33,36.67 28.50,35.00 C27.67,33.33 27.83,30.75 28.00,28.00 C28.17,25.25 28.50,20.20 29.50,18.50 Z" fill="#4e4e4e"/>
<circle cx="32.8" cy="32.5" r="4.4" fill="#626262"/>
<path d="M26.40,46.90 C26.65,45.65 27.03,43.75 28.10,42.60 C29.17,41.45 30.95,40.70 32.80,40.00 C34.65,39.30 36.88,39.30 39.20,38.40 C41.52,37.50 44.38,35.13 46.70,34.60 C49.02,34.07 51.32,34.40 53.10,35.20 C54.88,36.00 56.52,37.63 57.40,39.40 C58.28,41.17 58.58,43.67 58.40,45.80 C58.22,47.93 57.53,50.52 56.30,52.20 C55.07,53.88 53.13,55.10 51.00,55.90 C48.87,56.70 46.17,57.00 43.50,57.00 C40.83,57.00 37.32,56.52 35.00,55.90 C32.68,55.28 31.00,54.27 29.60,53.30 C28.20,52.33 27.13,51.17 26.60,50.10 C26.07,49.03 26.15,48.15 26.40,46.90 Z" fill="#868686"/>
<ellipse cx="32" cy="47.5" rx="5.2" ry="6" fill="#9c9c9c"/>
<ellipse cx="48" cy="44" rx="7" ry="7" fill="#8e8e8e"/>
<circle cx="40.3" cy="34.1" r="2.2" fill="#b4b4b4"/>
<rect x="31" y="57.2" width="8.5" height="4.2" rx="1.5" fill="#1e1e1e"/>
<ellipse cx="29.1" cy="59.2" rx="1.7" ry="1.4" fill="#cfcfcf"/>
<ellipse cx="41.4" cy="59.2" rx="1.7" ry="1.4" fill="#cfcfcf"/>
</g></g></g>
<rect x="374.90" y="272.60" width="8.00" height="7.70" fill="none" stroke="#2f7ec1" stroke-width="1"/>
<rect x="368.30" y="282.80" width="10.70" height="10.00" fill="none" stroke="#e0282e" stroke-width="1"/>
<rect x="406.10" y="267.70" width="8.80" height="9.60" fill="none" stroke="#36a23a" stroke-width="1"/>
<text x="351.60" y="207.90" font-size="8.80" text-anchor="middle" stroke="#000" stroke-width="0.18" transform="rotate(-90 351.60 207.90)">Original</text>
<text x="351.60" y="278.40" font-size="8.80" text-anchor="middle" stroke="#000" stroke-width="0.18" transform="rotate(-90 351.60 278.40)">Decompressed</text>
<text x="471.50" y="165.90" font-size="8.80" text-anchor="middle" stroke="#000" stroke-width="0.18">ROI1</text>
<svg x="435.00" y="169.40" width="73.00" height="71.30" viewBox="0 0 72 72" preserveAspectRatio="none"><g filter="url(#nzD)"><rect width="72" height="72" fill="#2c2c2c"/><g filter="url(#blur15)"><ellipse cx="52" cy="38" rx="16" ry="22" fill="#383838"/><path d="M46.3,4.3 L39.6,14.5" stroke="#8a8a8a" stroke-width="4" stroke-linecap="round"/><path d="M27.5,35 L28.5,46" stroke="#4c4c4c" stroke-width="3" stroke-linecap="round"/><path d="M40,30 C48,34 54,40 60,46" stroke="#3e3e3e" stroke-width="3" fill="none"/></g><g filter="url(#blur06)"><path d="M1.5,50 C2.5,58 3,64 3.6,72" stroke="#b4b4b4" stroke-width="3" fill="none"/><path d="M-1,64 L4,72 L-1,72Z" fill="#e0e0e0"/></g></g><line x1="18.8" y1="19" x2="53.6" y2="53.2" stroke="#fff" stroke-width="2.1" stroke-dasharray="6.4 2.9"/></svg>
<rect x="436.00" y="170.40" width="71.00" height="69.30" fill="none" stroke="#e0282e" stroke-width="2"/>
<svg x="435.00" y="244.00" width="73.00" height="71.50" viewBox="0 0 72 72" preserveAspectRatio="none"><g filter="url(#nzD)"><rect width="72" height="72" fill="#2c2c2c"/><g filter="url(#blur15)"><ellipse cx="52" cy="38" rx="16" ry="22" fill="#383838"/><path d="M46.3,4.3 L39.6,14.5" stroke="#8a8a8a" stroke-width="4" stroke-linecap="round"/><path d="M27.5,35 L28.5,46" stroke="#4c4c4c" stroke-width="3" stroke-linecap="round"/><path d="M40,30 C48,34 54,40 60,46" stroke="#3e3e3e" stroke-width="3" fill="none"/></g><g filter="url(#blur06)"><path d="M1.5,50 C2.5,58 3,64 3.6,72" stroke="#b4b4b4" stroke-width="3" fill="none"/><path d="M-1,64 L4,72 L-1,72Z" fill="#e0e0e0"/></g></g><line x1="18.8" y1="19" x2="53.6" y2="53.2" stroke="#fff" stroke-width="2.1" stroke-dasharray="6.4 2.9"/></svg>
<rect x="436.00" y="245.00" width="71.00" height="69.50" fill="none" stroke="#e0282e" stroke-width="2"/>
<text x="546.55" y="165.90" font-size="8.80" text-anchor="middle" stroke="#000" stroke-width="0.18">ROI2</text>
<svg x="510.30" y="169.40" width="72.50" height="71.30" viewBox="0 0 72 72" preserveAspectRatio="none"><g filter="url(#nzD)"><rect width="72" height="72" fill="#141414"/><g filter="url(#blur15)"><path d="M14.5,16.2 L36.5,26" stroke="#d8d8d8" stroke-width="7.5" stroke-linecap="round" filter="url(#blur1)"/><path d="M53.5,5 L60.5,16.5" stroke="#f8f8f8" stroke-width="9" stroke-linecap="round"/><circle cx="64" cy="12" r="2.5" fill="#050505"/><circle cx="44.9" cy="36" r="4" fill="#555"/><circle cx="54" cy="36" r="3.5" fill="#484848"/><circle cx="4.4" cy="29" r="5" fill="#484848"/><circle cx="67" cy="3" r="3" fill="#666"/><circle cx="14" cy="10" r="3" fill="#2e2e2e"/><circle cx="30" cy="60" r="4" fill="#262626"/></g></g><line x1="18.5" y1="53.2" x2="53.3" y2="18.9" stroke="#fff" stroke-width="2.1" stroke-dasharray="6.4 2.9"/></svg>
<rect x="511.30" y="170.40" width="70.50" height="69.30" fill="none" stroke="#2f7ec1" stroke-width="2"/>
<svg x="510.30" y="244.00" width="72.50" height="71.50" viewBox="0 0 72 72" preserveAspectRatio="none"><g filter="url(#nzD)"><rect width="72" height="72" fill="#141414"/><g filter="url(#blur15)"><path d="M14.5,16.2 L36.5,26" stroke="#d8d8d8" stroke-width="7.5" stroke-linecap="round" filter="url(#blur1)"/><path d="M53.5,5 L60.5,16.5" stroke="#f8f8f8" stroke-width="9" stroke-linecap="round"/><circle cx="64" cy="12" r="2.5" fill="#050505"/><circle cx="44.9" cy="36" r="4" fill="#555"/><circle cx="54" cy="36" r="3.5" fill="#484848"/><circle cx="4.4" cy="29" r="5" fill="#484848"/><circle cx="67" cy="3" r="3" fill="#666"/><circle cx="14" cy="10" r="3" fill="#2e2e2e"/><circle cx="30" cy="60" r="4" fill="#262626"/></g></g><line x1="18.5" y1="53.2" x2="53.3" y2="18.9" stroke="#fff" stroke-width="2.1" stroke-dasharray="6.4 2.9"/></svg>
<rect x="511.30" y="245.00" width="70.50" height="69.50" fill="none" stroke="#2f7ec1" stroke-width="2"/>
<text x="621.25" y="165.90" font-size="8.80" text-anchor="middle" stroke="#000" stroke-width="0.18">ROI3</text>
<svg x="585.10" y="169.40" width="72.30" height="71.30" viewBox="0 0 72 72" preserveAspectRatio="none"><g filter="url(#nzD3)"><rect width="72" height="72" fill="#131313"/><g filter="url(#blur15)"><circle cx="24" cy="32" r="4" fill="#2a2a2a"/><circle cx="60" cy="62" r="5" fill="#222"/><circle cx="8" cy="60" r="5" fill="#222"/></g><g filter="url(#blur1)"><path d="M47,2 C55,4 63,6.5 73,11" stroke="#efefef" stroke-width="6" fill="none"/></g></g><line x1="18.1" y1="19.1" x2="53" y2="53.4" stroke="#fff" stroke-width="2.1" stroke-dasharray="6.4 2.9"/></svg>
<rect x="586.10" y="170.40" width="70.30" height="69.30" fill="none" stroke="#36a23a" stroke-width="2"/>
<svg x="585.10" y="244.00" width="72.30" height="71.50" viewBox="0 0 72 72" preserveAspectRatio="none"><g filter="url(#nzD3)"><rect width="72" height="72" fill="#131313"/><g filter="url(#blur15)"><circle cx="24" cy="32" r="4" fill="#2a2a2a"/><circle cx="60" cy="62" r="5" fill="#222"/><circle cx="8" cy="60" r="5" fill="#222"/></g><g filter="url(#blur1)"><path d="M47,2 C55,4 63,6.5 73,11" stroke="#efefef" stroke-width="6" fill="none"/></g></g><line x1="18.1" y1="19.1" x2="53" y2="53.4" stroke="#fff" stroke-width="2.1" stroke-dasharray="6.4 2.9"/></svg>
<rect x="586.10" y="245.00" width="70.30" height="69.50" fill="none" stroke="#36a23a" stroke-width="2"/>
<line x1="533.90" y1="325.20" x2="546.60" y2="325.20" stroke="#b0b0b0" stroke-width="1.3" />
<text x="551.70" y="327.80" font-size="6.71" stroke="#000" stroke-width="0.18" textLength="23.87" lengthAdjust="spacingAndGlyphs">Original</text>
<line x1="587.40" y1="325.20" x2="600.70" y2="325.20" stroke="#9b3fb0" stroke-width="1.3" />
<text x="605.40" y="327.80" font-size="6.71" stroke="#000" stroke-width="0.18" textLength="45.46" lengthAdjust="spacingAndGlyphs">Decompressed</text>
<line x1="374.10" y1="362.50" x2="445.70" y2="362.50" stroke="#e6e6e6" stroke-width="0.7" />
<line x1="374.10" y1="380.40" x2="445.70" y2="380.40" stroke="#e6e6e6" stroke-width="0.7" />
<line x1="374.10" y1="398.40" x2="445.70" y2="398.40" stroke="#e6e6e6" stroke-width="0.7" />
<polyline points="374.07,405.68 375.64,398.67 378.45,394.29 380.90,400.77 383.18,396.92 385.81,386.76 388.08,387.28 390.71,391.66 393.16,380.27 395.44,363.63 397.19,351.02 399.82,354.87 402.45,367.13 405.08,382.90 407.18,393.41 409.46,396.57 412.08,394.29 414.71,389.91 417.34,387.81 418.74,386.06 420.84,389.56 422.60,389.91 425.22,382.90 427.85,377.65 430.48,371.51 432.58,364.51 434.86,375.89 438.01,389.91 440.12,391.66 442.39,392.01" fill="none" stroke="#a9a9a9" stroke-width="1.5" stroke-linejoin="round" stroke-linecap="round" />
<polyline points="374.07,405.08 375.64,398.07 378.45,393.69 380.90,400.17 383.18,396.32 385.81,386.16 388.08,386.68 390.71,391.06 393.16,379.67 395.44,363.03 397.19,350.42 399.82,354.27 402.45,366.53 405.08,382.30 407.18,392.81 409.46,395.97 412.08,393.69 414.71,389.31 417.34,387.21 418.74,385.46 420.84,388.96 422.60,389.31 425.22,382.30 427.85,377.05 430.48,370.91 432.58,363.91 434.86,375.29 438.01,389.31 440.12,391.06 442.39,391.41" fill="none" stroke="#7a1f8e" stroke-width="1.45" stroke-linejoin="round" stroke-linecap="round" />
<line x1="374.10" y1="347.30" x2="374.10" y2="407.20" stroke="#222" stroke-width="0.9" />
<line x1="373.70" y1="406.80" x2="445.70" y2="406.80" stroke="#222" stroke-width="0.9" />
<line x1="371.60" y1="362.50" x2="374.10" y2="362.50" stroke="#222" stroke-width="0.7" />
<text x="370.10" y="364.70" font-size="6.71" text-anchor="end" stroke="#000" stroke-width="0.18" textLength="9.70" lengthAdjust="spacingAndGlyphs">1.5</text>
<line x1="371.60" y1="380.40" x2="374.10" y2="380.40" stroke="#222" stroke-width="0.7" />
<text x="370.10" y="382.60" font-size="6.71" text-anchor="end" stroke="#000" stroke-width="0.18" textLength="9.70" lengthAdjust="spacingAndGlyphs">1.0</text>
<line x1="371.60" y1="398.40" x2="374.10" y2="398.40" stroke="#222" stroke-width="0.7" />
<text x="370.10" y="400.60" font-size="6.71" text-anchor="end" stroke="#000" stroke-width="0.18" textLength="9.70" lengthAdjust="spacingAndGlyphs">0.5</text>
<line x1="374.10" y1="406.80" x2="374.10" y2="409.30" stroke="#222" stroke-width="0.7" />
<text x="374.10" y="416.50" font-size="6.71" text-anchor="middle" stroke="#000" stroke-width="0.18" textLength="3.88" lengthAdjust="spacingAndGlyphs">0</text>
<line x1="420.80" y1="406.80" x2="420.80" y2="409.30" stroke="#222" stroke-width="0.7" />
<text x="420.80" y="416.50" font-size="6.71" text-anchor="middle" stroke="#000" stroke-width="0.18" textLength="7.76" lengthAdjust="spacingAndGlyphs">20</text>
<text x="409.50" y="343.80" font-size="7.81" text-anchor="middle" stroke="#000" stroke-width="0.18" textLength="17.13" lengthAdjust="spacingAndGlyphs">ROI1</text>
<text x="408.90" y="425.40" font-size="6.71" text-anchor="middle" stroke="#000" stroke-width="0.18" textLength="40.85" lengthAdjust="spacingAndGlyphs">Distance (px)</text>
<text x="352.90" y="377.05" font-size="6.71" text-anchor="middle" stroke="#000" stroke-width="0.18" textLength="26.55" lengthAdjust="spacingAndGlyphs" transform="rotate(-90 352.90 377.05)">Intensity</text>
<text x="374.40" y="342.90" font-size="6.71" stroke="#000" stroke-width="0.18" textLength="12.87" lengthAdjust="spacingAndGlyphs">×10</text>
<text x="387.27" y="340.30" font-size="4.73" stroke="#000" stroke-width="0.18" textLength="2.74" lengthAdjust="spacingAndGlyphs">1</text>
<line x1="475.40" y1="351.30" x2="546.70" y2="351.30" stroke="#e6e6e6" stroke-width="0.7" />
<line x1="475.40" y1="370.40" x2="546.70" y2="370.40" stroke="#e6e6e6" stroke-width="0.7" />
<line x1="475.40" y1="389.30" x2="546.70" y2="389.30" stroke="#e6e6e6" stroke-width="0.7" />
<polyline points="475.40,381.83 478.38,388.83 481.53,391.11 484.69,396.37 487.67,397.59 490.64,401.10 493.80,384.45 496.95,364.31 500.28,350.82 503.43,366.93 506.41,386.21 509.57,400.75 512.19,399.35 515.17,401.10 518.68,404.60 521.83,403.37 524.98,401.97 528.49,399.35 531.46,398.47 534.09,398.12 537.25,397.07 540.22,394.97 543.73,395.84" fill="none" stroke="#a9a9a9" stroke-width="1.5" stroke-linejoin="round" stroke-linecap="round" />
<polyline points="475.40,381.43 478.38,388.43 481.53,390.71 484.69,395.97 487.67,397.19 490.64,400.70 493.80,384.05 496.95,363.91 500.28,350.42 503.43,366.53 506.41,385.81 509.57,400.35 512.19,398.95 515.17,400.70 518.68,404.20 521.83,402.97 524.98,401.57 528.49,398.95 531.46,398.07 534.09,397.72 537.25,396.67 540.22,394.57 543.73,395.44" fill="none" stroke="#7a1f8e" stroke-width="1.45" stroke-linejoin="round" stroke-linecap="round" />
<line x1="475.40" y1="347.30" x2="475.40" y2="407.20" stroke="#222" stroke-width="0.9" />
<line x1="475.00" y1="406.80" x2="546.70" y2="406.80" stroke="#222" stroke-width="0.9" />
<line x1="472.90" y1="351.30" x2="475.40" y2="351.30" stroke="#222" stroke-width="0.7" />
<text x="471.40" y="353.50" font-size="6.71" text-anchor="end" stroke="#000" stroke-width="0.18" textLength="3.88" lengthAdjust="spacingAndGlyphs">3</text>
<line x1="472.90" y1="370.40" x2="475.40" y2="370.40" stroke="#222" stroke-width="0.7" />
<text x="471.40" y="372.60" font-size="6.71" text-anchor="end" stroke="#000" stroke-width="0.18" textLength="3.88" lengthAdjust="spacingAndGlyphs">2</text>
<line x1="472.90" y1="389.30" x2="475.40" y2="389.30" stroke="#222" stroke-width="0.7" />
<text x="471.40" y="391.50" font-size="6.71" text-anchor="end" stroke="#000" stroke-width="0.18" textLength="3.88" lengthAdjust="spacingAndGlyphs">1</text>
<line x1="475.40" y1="406.80" x2="475.40" y2="409.30" stroke="#222" stroke-width="0.7" />
<text x="475.40" y="416.50" font-size="6.71" text-anchor="middle" stroke="#000" stroke-width="0.18" textLength="3.88" lengthAdjust="spacingAndGlyphs">0</text>
<line x1="506.40" y1="406.80" x2="506.40" y2="409.30" stroke="#222" stroke-width="0.7" />
<text x="506.40" y="416.50" font-size="6.71" text-anchor="middle" stroke="#000" stroke-width="0.18" textLength="7.76" lengthAdjust="spacingAndGlyphs">10</text>
<line x1="537.60" y1="406.80" x2="537.60" y2="409.30" stroke="#222" stroke-width="0.7" />
<text x="537.60" y="416.50" font-size="6.71" text-anchor="middle" stroke="#000" stroke-width="0.18" textLength="7.76" lengthAdjust="spacingAndGlyphs">20</text>
<text x="511.30" y="343.80" font-size="7.81" text-anchor="middle" stroke="#000" stroke-width="0.18" textLength="17.13" lengthAdjust="spacingAndGlyphs">ROI2</text>
<text x="510.05" y="425.40" font-size="6.71" text-anchor="middle" stroke="#000" stroke-width="0.18" textLength="40.85" lengthAdjust="spacingAndGlyphs">Distance (px)</text>
<text x="454.20" y="377.05" font-size="6.71" text-anchor="middle" stroke="#000" stroke-width="0.18" textLength="26.55" lengthAdjust="spacingAndGlyphs" transform="rotate(-90 454.20 377.05)">Intensity</text>
<text x="475.70" y="342.90" font-size="6.71" stroke="#000" stroke-width="0.18" textLength="12.87" lengthAdjust="spacingAndGlyphs">×10</text>
<text x="488.57" y="340.30" font-size="4.73" stroke="#000" stroke-width="0.18" textLength="2.74" lengthAdjust="spacingAndGlyphs">1</text>
<line x1="576.90" y1="359.20" x2="648.20" y2="359.20" stroke="#e6e6e6" stroke-width="0.7" />
<line x1="576.90" y1="379.30" x2="648.20" y2="379.30" stroke="#e6e6e6" stroke-width="0.7" />
<line x1="576.90" y1="399.50" x2="648.20" y2="399.50" stroke="#e6e6e6" stroke-width="0.7" />
<polyline points="576.90,404.60 579.53,398.47 582.15,389.71 584.78,384.10 587.41,387.08 590.04,388.31 593.19,381.83 595.82,366.93 598.45,350.82 600.90,357.30 604.05,382.70 606.68,402.50 609.31,403.73 611.94,400.57 614.92,401.97 617.72,403.73 620.17,395.84 622.97,389.36 625.43,389.71 628.58,392.86 631.21,395.84 633.84,397.07 636.46,391.46 639.09,384.80 642.25,388.83 645.22,397.59" fill="none" stroke="#a9a9a9" stroke-width="1.5" stroke-linejoin="round" stroke-linecap="round" />
<polyline points="576.90,404.20 579.53,398.07 582.15,389.31 584.78,383.70 587.41,386.68 590.04,387.91 593.19,381.43 595.82,366.53 598.45,350.42 600.90,356.90 604.05,382.30 606.68,402.10 609.31,403.33 611.94,400.17 614.92,401.57 617.72,403.33 620.17,395.44 622.97,388.96 625.43,389.31 628.58,392.46 631.21,395.44 633.84,396.67 636.46,391.06 639.09,384.40 642.25,388.43 645.22,397.19" fill="none" stroke="#7a1f8e" stroke-width="1.45" stroke-linejoin="round" stroke-linecap="round" />
<line x1="576.90" y1="347.30" x2="576.90" y2="407.20" stroke="#222" stroke-width="0.9" />
<line x1="576.50" y1="406.80" x2="648.20" y2="406.80" stroke="#222" stroke-width="0.9" />
<line x1="574.40" y1="359.20" x2="576.90" y2="359.20" stroke="#222" stroke-width="0.7" />
<text x="572.90" y="361.40" font-size="6.71" text-anchor="end" stroke="#000" stroke-width="0.18" textLength="3.88" lengthAdjust="spacingAndGlyphs">3</text>
<line x1="574.40" y1="379.30" x2="576.90" y2="379.30" stroke="#222" stroke-width="0.7" />
<text x="572.90" y="381.50" font-size="6.71" text-anchor="end" stroke="#000" stroke-width="0.18" textLength="3.88" lengthAdjust="spacingAndGlyphs">2</text>
<line x1="574.40" y1="399.50" x2="576.90" y2="399.50" stroke="#222" stroke-width="0.7" />
<text x="572.90" y="401.70" font-size="6.71" text-anchor="end" stroke="#000" stroke-width="0.18" textLength="3.88" lengthAdjust="spacingAndGlyphs">1</text>
<line x1="576.90" y1="406.80" x2="576.90" y2="409.30" stroke="#222" stroke-width="0.7" />
<text x="576.90" y="416.50" font-size="6.71" text-anchor="middle" stroke="#000" stroke-width="0.18" textLength="3.88" lengthAdjust="spacingAndGlyphs">0</text>
<line x1="604.60" y1="406.80" x2="604.60" y2="409.30" stroke="#222" stroke-width="0.7" />
<text x="604.60" y="416.50" font-size="6.71" text-anchor="middle" stroke="#000" stroke-width="0.18" textLength="7.76" lengthAdjust="spacingAndGlyphs">10</text>
<line x1="631.60" y1="406.80" x2="631.60" y2="409.30" stroke="#222" stroke-width="0.7" />
<text x="631.60" y="416.50" font-size="6.71" text-anchor="middle" stroke="#000" stroke-width="0.18" textLength="7.76" lengthAdjust="spacingAndGlyphs">20</text>
<text x="612.50" y="343.80" font-size="7.81" text-anchor="middle" stroke="#000" stroke-width="0.18" textLength="17.13" lengthAdjust="spacingAndGlyphs">ROI3</text>
<text x="611.55" y="425.40" font-size="6.71" text-anchor="middle" stroke="#000" stroke-width="0.18" textLength="40.85" lengthAdjust="spacingAndGlyphs">Distance (px)</text>
<text x="555.70" y="377.05" font-size="6.71" text-anchor="middle" stroke="#000" stroke-width="0.18" textLength="26.55" lengthAdjust="spacingAndGlyphs" transform="rotate(-90 555.70 377.05)">Intensity</text>
<text x="577.20" y="342.90" font-size="6.71" stroke="#000" stroke-width="0.18" textLength="12.87" lengthAdjust="spacingAndGlyphs">×10</text>
<text x="590.07" y="340.30" font-size="4.73" stroke="#000" stroke-width="0.18" textLength="2.74" lengthAdjust="spacingAndGlyphs">1</text>
<text x="0.00" y="449.40" font-size="15.40" font-weight="bold" stroke="#000" stroke-width="0.18" textLength="9.90" lengthAdjust="spacingAndGlyphs">e</text>
<rect x="32.10" y="447.30" width="5.20" height="5.20" fill="#8cb3e6"/>
<text x="44.60" y="452.90" font-size="8.80" stroke="#000" stroke-width="0.18">Liver</text>
<rect x="71.10" y="447.30" width="5.20" height="5.20" fill="#f9b2ad"/>
<text x="83.50" y="452.90" font-size="8.80" stroke="#000" stroke-width="0.18">Stomach</text>
<rect x="126.30" y="447.30" width="5.20" height="5.20" fill="#b2df8a"/>
<text x="138.60" y="452.90" font-size="8.80" stroke="#000" stroke-width="0.18">Spleen</text>
<rect x="423.60" y="447.10" width="4.80" height="4.80" fill="#8f4c9c"/>
<text x="436.20" y="452.70" font-size="8.80" stroke="#000" stroke-width="0.18">TP</text>
<rect x="455.40" y="447.10" width="4.60" height="4.60" fill="#2ca02c"/>
<text x="467.70" y="452.70" font-size="8.80" stroke="#000" stroke-width="0.18">FP</text>
<rect x="487.30" y="447.10" width="4.60" height="4.60" fill="#f2b33d"/>
<text x="499.20" y="452.70" font-size="8.80" stroke="#000" stroke-width="0.18">FN</text>
<rect x="30.50" y="457.90" width="73.30" height="75.80" fill="#151515"/>
<g filter="url(#nzCT)"><g filter="url(#blur05)">
<path d="M31.55,495.35 C31.77,491.85 31.77,489.88 32.87,487.47 C33.96,485.06 35.71,482.76 38.12,480.90 C40.53,479.03 43.60,477.35 47.32,476.30 C51.04,475.25 56.30,474.70 60.46,474.59 C64.62,474.48 68.56,475.14 72.29,475.64 C76.01,476.14 79.73,476.52 82.80,477.61 C85.87,478.71 88.38,480.35 90.68,482.21 C92.98,484.07 95.28,486.37 96.60,488.78 C97.91,491.19 98.35,493.60 98.57,496.66 C98.79,499.73 98.46,503.89 97.91,507.18 C97.36,510.46 96.71,513.64 95.28,516.38 C93.86,519.11 91.89,521.63 89.37,523.60 C86.85,525.57 83.68,527.11 80.17,528.20 C76.67,529.30 72.07,529.84 68.34,530.17 C64.62,530.50 61.34,530.50 57.83,530.17 C54.33,529.84 50.39,529.19 47.32,528.20 C44.25,527.22 41.63,526.01 39.44,524.26 C37.25,522.51 35.49,520.32 34.18,517.69 C32.87,515.06 31.99,512.21 31.55,508.49 C31.11,504.77 31.33,498.85 31.55,495.35 Z" fill="#8e8e8e"/>
<path d="M33.04,495.71 C33.25,492.38 33.25,490.51 34.29,488.22 C35.34,485.93 37.01,483.74 39.31,481.98 C41.62,480.21 44.54,478.61 48.10,477.61 C51.65,476.61 56.67,476.09 60.65,475.98 C64.62,475.88 68.39,476.50 71.94,476.98 C75.50,477.46 79.05,477.81 81.98,478.85 C84.91,479.90 87.32,481.46 89.51,483.22 C91.71,484.99 93.90,487.18 95.16,489.47 C96.41,491.75 96.83,494.04 97.04,496.96 C97.25,499.87 96.94,503.82 96.41,506.94 C95.89,510.06 95.26,513.08 93.90,515.68 C92.54,518.28 90.66,520.67 88.26,522.55 C85.85,524.42 82.82,525.88 79.47,526.92 C76.13,527.96 71.73,528.48 68.18,528.79 C64.62,529.10 61.48,529.10 58.14,528.79 C54.79,528.48 51.03,527.85 48.10,526.92 C45.17,525.98 42.66,524.84 40.57,523.17 C38.48,521.51 36.80,519.43 35.55,516.93 C34.29,514.43 33.46,511.73 33.04,508.19 C32.62,504.65 32.83,499.04 33.04,495.71 Z" fill="#333"/>
<path d="M33.70,495.85 C33.91,492.59 33.91,490.76 34.93,488.52 C35.95,486.28 37.59,484.14 39.84,482.41 C42.10,480.68 44.96,479.11 48.45,478.13 C51.93,477.15 56.84,476.64 60.73,476.54 C64.62,476.44 68.31,477.05 71.79,477.52 C75.27,477.99 78.75,478.33 81.62,479.35 C84.49,480.37 86.84,481.90 88.99,483.63 C91.14,485.36 93.29,487.50 94.52,489.74 C95.75,491.98 96.16,494.22 96.36,497.07 C96.57,499.92 96.26,503.79 95.75,506.85 C95.24,509.90 94.62,512.86 93.29,515.40 C91.96,517.95 90.12,520.29 87.76,522.13 C85.41,523.96 82.44,525.38 79.16,526.40 C75.89,527.42 71.58,527.93 68.10,528.24 C64.62,528.54 61.55,528.54 58.27,528.24 C55.00,527.93 51.31,527.32 48.45,526.40 C45.58,525.49 43.12,524.37 41.07,522.74 C39.03,521.11 37.39,519.07 36.16,516.63 C34.93,514.18 34.11,511.53 33.70,508.07 C33.29,504.61 33.50,499.11 33.70,495.85 Z" fill="#7a7a7a"/>
<path d="M35.02,496.17 C35.22,493.07 35.22,491.33 36.20,489.19 C37.18,487.06 38.75,485.03 40.91,483.38 C43.06,481.73 45.81,480.24 49.14,479.31 C52.47,478.38 57.17,477.89 60.90,477.80 C64.62,477.70 68.15,478.28 71.48,478.73 C74.82,479.17 78.15,479.50 80.89,480.47 C83.64,481.44 85.89,482.90 87.95,484.54 C90.01,486.19 92.06,488.23 93.24,490.36 C94.42,492.49 94.81,494.62 95.01,497.33 C95.20,500.05 94.91,503.73 94.42,506.64 C93.93,509.55 93.34,512.36 92.06,514.78 C90.79,517.20 89.03,519.43 86.77,521.18 C84.52,522.92 81.68,524.28 78.54,525.25 C75.40,526.21 71.29,526.70 67.96,526.99 C64.62,527.28 61.68,527.28 58.55,526.99 C55.41,526.70 51.88,526.12 49.14,525.25 C46.39,524.37 44.04,523.31 42.08,521.76 C40.12,520.21 38.55,518.27 37.38,515.94 C36.20,513.62 35.42,511.10 35.02,507.80 C34.63,504.51 34.83,499.27 35.02,496.17 Z" fill="#3e3e3e"/>
<path d="M35.85,496.35 C36.04,493.34 36.04,491.64 37.00,489.57 C37.95,487.50 39.47,485.52 41.57,483.92 C43.66,482.32 46.33,480.87 49.57,479.96 C52.81,479.06 57.38,478.59 61.00,478.50 C64.62,478.40 68.05,478.97 71.29,479.40 C74.53,479.83 77.77,480.15 80.44,481.09 C83.11,482.04 85.30,483.45 87.30,485.05 C89.30,486.65 91.30,488.63 92.44,490.70 C93.59,492.77 93.97,494.84 94.16,497.48 C94.35,500.12 94.06,503.70 93.59,506.52 C93.11,509.35 92.54,512.08 91.30,514.43 C90.06,516.79 88.35,518.95 86.15,520.65 C83.96,522.34 81.20,523.66 78.15,524.60 C75.10,525.54 71.10,526.02 67.86,526.30 C64.62,526.58 61.77,526.58 58.72,526.30 C55.67,526.02 52.24,525.45 49.57,524.60 C46.90,523.76 44.62,522.72 42.71,521.21 C40.81,519.71 39.28,517.82 38.14,515.56 C37.00,513.30 36.23,510.85 35.85,507.65 C35.47,504.45 35.66,499.36 35.85,496.35 Z" fill="#4a4a4a"/>
<path d="M40.75,486.15 C40.09,484.95 43.60,481.55 46.01,480.24 C48.42,478.92 52.36,478.27 55.20,478.27 C58.05,478.27 61.56,479.14 63.09,480.24 C64.62,481.33 65.28,483.81 64.40,484.84 C63.53,485.87 60.24,485.98 57.83,486.42 C55.42,486.85 52.80,487.51 49.95,487.47 C47.10,487.42 41.41,487.36 40.75,486.15 Z" fill="#a2a2a2"/>
<path d="M68.34,484.84 C67.58,483.74 68.56,480.94 70.32,479.84 C72.07,478.75 76.12,477.98 78.86,478.27 C81.60,478.55 84.99,480.20 86.74,481.55 C88.49,482.91 90.03,485.47 89.37,486.42 C88.71,487.36 85.21,487.20 82.80,487.20 C80.39,487.20 77.32,486.81 74.92,486.42 C72.51,486.02 69.11,485.93 68.34,484.84 Z" fill="#a2a2a2"/>
<path d="M39.44,488.78 C39.65,488.25 45.35,487.31 48.63,487.20 C51.92,487.09 56.52,487.42 59.15,488.12 C61.77,488.82 62.87,490.86 64.40,491.41 C65.94,491.96 66.59,491.96 68.34,491.41 C70.10,490.86 72.29,488.74 74.92,488.12 C77.54,487.51 81.49,487.40 84.11,487.73 C86.74,488.06 90.25,489.48 90.68,490.09 C91.12,490.71 89.37,491.19 86.74,491.41 C84.11,491.63 77.76,490.75 74.92,491.41 C72.07,492.07 71.63,494.69 69.66,495.35 C67.69,496.01 65.06,496.01 63.09,495.35 C61.12,494.69 60.46,492.24 57.83,491.41 C55.20,490.58 50.39,490.80 47.32,490.36 C44.25,489.92 39.22,489.31 39.44,488.78 Z" fill="#262626"/>
<path d="M62.43,491.41 C63.64,490.31 67.58,490.09 69.00,491.41 C70.43,492.72 70.86,496.88 70.97,499.29 C71.08,501.70 70.75,504.99 69.66,505.86 C68.56,506.74 65.72,505.86 64.40,504.55 C63.09,503.24 62.10,500.17 61.77,497.98 C61.45,495.79 61.23,492.50 62.43,491.41 Z" fill="#6e6e6e"/>
<path d="M42.06,521.63 C43.82,521.52 53.45,524.87 57.83,525.57 C62.21,526.27 64.62,526.10 68.34,525.84 C72.07,525.57 76.67,525.14 80.17,524.00 C83.68,522.86 88.27,519.07 89.37,519.00 C90.46,518.94 88.71,522.11 86.74,523.60 C84.77,525.09 80.61,527.06 77.54,527.94 C74.48,528.82 71.63,528.71 68.34,528.86 C65.06,529.01 61.34,529.30 57.83,528.86 C54.33,528.42 49.95,527.44 47.32,526.23 C44.69,525.03 40.31,521.74 42.06,521.63 Z" fill="#8a8a8a"/>
<path d="M81.49,501.92 C83.02,499.95 87.40,500.61 89.37,501.92 C91.34,503.24 93.09,507.18 93.31,509.81 C93.53,512.43 92.44,515.94 90.68,517.69 C88.93,519.44 84.55,520.97 82.80,520.32 C81.05,519.66 80.39,516.81 80.17,513.75 C79.95,510.68 79.95,503.89 81.49,501.92 Z" fill="#353535"/>
</g></g>
<polygon points="35.49,495.35 40.75,490.09 46.66,488.12 52.58,489.44 57.83,494.04 63.09,500.61 68.34,505.86 70.32,507.18 67.03,509.81 65.72,513.75 64.40,517.69 65.06,521.63 59.15,522.95 51.26,522.29 43.38,520.32 38.12,516.38 35.49,509.81 34.84,501.92" fill="#8cb3e6"/>
<path d="M66.77,519.27 72.55,516.90 77.54,512.96 80.43,507.83 79.91,502.97 77.28,500.08" fill="none" stroke="#f9b2ad" stroke-width="6.6" stroke-linecap="round" stroke-linejoin="round"/>
<polygon points="73.86,497.32 76.89,494.69 81.49,492.99 86.74,493.38 91.34,496.01 93.97,500.61 94.89,505.86 93.97,510.46 92.00,513.75 90.68,511.78 90.68,507.18 89.37,502.58 86.08,499.29 81.49,497.98 76.89,498.64" fill="#b2df8a"/>
<rect x="112.00" y="457.90" width="73.30" height="75.80" fill="#151515"/>
<g filter="url(#nzCT)"><g filter="url(#blur05)">
<path d="M113.05,495.35 C113.27,491.85 113.27,489.88 114.37,487.47 C115.46,485.06 117.21,482.76 119.62,480.90 C122.03,479.03 125.10,477.35 128.82,476.30 C132.54,475.25 137.80,474.70 141.96,474.59 C146.12,474.48 150.06,475.14 153.79,475.64 C157.51,476.14 161.23,476.52 164.30,477.61 C167.37,478.71 169.88,480.35 172.18,482.21 C174.48,484.07 176.78,486.37 178.10,488.78 C179.41,491.19 179.85,493.60 180.07,496.66 C180.29,499.73 179.96,503.89 179.41,507.18 C178.86,510.46 178.21,513.64 176.78,516.38 C175.36,519.11 173.39,521.63 170.87,523.60 C168.35,525.57 165.18,527.11 161.67,528.20 C158.17,529.30 153.57,529.84 149.84,530.17 C146.12,530.50 142.84,530.50 139.33,530.17 C135.83,529.84 131.89,529.19 128.82,528.20 C125.75,527.22 123.13,526.01 120.94,524.26 C118.75,522.51 116.99,520.32 115.68,517.69 C114.37,515.06 113.49,512.21 113.05,508.49 C112.61,504.77 112.83,498.85 113.05,495.35 Z" fill="#8e8e8e"/>
<path d="M114.54,495.71 C114.75,492.38 114.75,490.51 115.79,488.22 C116.84,485.93 118.51,483.74 120.81,481.98 C123.12,480.21 126.04,478.61 129.60,477.61 C133.15,476.61 138.17,476.09 142.15,475.98 C146.12,475.88 149.89,476.50 153.44,476.98 C157.00,477.46 160.55,477.81 163.48,478.85 C166.41,479.90 168.82,481.46 171.01,483.22 C173.21,484.99 175.40,487.18 176.66,489.47 C177.91,491.75 178.33,494.04 178.54,496.96 C178.75,499.87 178.44,503.82 177.91,506.94 C177.39,510.06 176.76,513.08 175.40,515.68 C174.04,518.28 172.16,520.67 169.76,522.55 C167.35,524.42 164.32,525.88 160.97,526.92 C157.63,527.96 153.23,528.48 149.68,528.79 C146.12,529.10 142.98,529.10 139.64,528.79 C136.29,528.48 132.53,527.85 129.60,526.92 C126.67,525.98 124.16,524.84 122.07,523.17 C119.98,521.51 118.30,519.43 117.05,516.93 C115.79,514.43 114.96,511.73 114.54,508.19 C114.12,504.65 114.33,499.04 114.54,495.71 Z" fill="#333"/>
<path d="M115.20,495.85 C115.41,492.59 115.41,490.76 116.43,488.52 C117.45,486.28 119.09,484.14 121.34,482.41 C123.60,480.68 126.46,479.11 129.95,478.13 C133.43,477.15 138.34,476.64 142.23,476.54 C146.12,476.44 149.81,477.05 153.29,477.52 C156.77,477.99 160.25,478.33 163.12,479.35 C165.99,480.37 168.34,481.90 170.49,483.63 C172.64,485.36 174.79,487.50 176.02,489.74 C177.25,491.98 177.66,494.22 177.86,497.07 C178.07,499.92 177.76,503.79 177.25,506.85 C176.74,509.90 176.12,512.86 174.79,515.40 C173.46,517.95 171.62,520.29 169.26,522.13 C166.91,523.96 163.94,525.38 160.66,526.40 C157.39,527.42 153.08,527.93 149.60,528.24 C146.12,528.54 143.05,528.54 139.77,528.24 C136.50,527.93 132.81,527.32 129.95,526.40 C127.08,525.49 124.62,524.37 122.57,522.74 C120.53,521.11 118.89,519.07 117.66,516.63 C116.43,514.18 115.61,511.53 115.20,508.07 C114.79,504.61 115.00,499.11 115.20,495.85 Z" fill="#7a7a7a"/>
<path d="M116.52,496.17 C116.72,493.07 116.72,491.33 117.70,489.19 C118.68,487.06 120.25,485.03 122.41,483.38 C124.56,481.73 127.31,480.24 130.64,479.31 C133.97,478.38 138.67,477.89 142.40,477.80 C146.12,477.70 149.65,478.28 152.98,478.73 C156.32,479.17 159.65,479.50 162.39,480.47 C165.14,481.44 167.39,482.90 169.45,484.54 C171.51,486.19 173.56,488.23 174.74,490.36 C175.92,492.49 176.31,494.62 176.51,497.33 C176.70,500.05 176.41,503.73 175.92,506.64 C175.43,509.55 174.84,512.36 173.56,514.78 C172.29,517.20 170.53,519.43 168.27,521.18 C166.02,522.92 163.18,524.28 160.04,525.25 C156.90,526.21 152.79,526.70 149.46,526.99 C146.12,527.28 143.18,527.28 140.05,526.99 C136.91,526.70 133.38,526.12 130.64,525.25 C127.89,524.37 125.54,523.31 123.58,521.76 C121.62,520.21 120.05,518.27 118.88,515.94 C117.70,513.62 116.92,511.10 116.52,507.80 C116.13,504.51 116.33,499.27 116.52,496.17 Z" fill="#3e3e3e"/>
<path d="M117.35,496.35 C117.54,493.34 117.54,491.64 118.50,489.57 C119.45,487.50 120.97,485.52 123.07,483.92 C125.16,482.32 127.83,480.87 131.07,479.96 C134.31,479.06 138.88,478.59 142.50,478.50 C146.12,478.40 149.55,478.97 152.79,479.40 C156.03,479.83 159.27,480.15 161.94,481.09 C164.61,482.04 166.80,483.45 168.80,485.05 C170.80,486.65 172.80,488.63 173.94,490.70 C175.09,492.77 175.47,494.84 175.66,497.48 C175.85,500.12 175.56,503.70 175.09,506.52 C174.61,509.35 174.04,512.08 172.80,514.43 C171.56,516.79 169.85,518.95 167.65,520.65 C165.46,522.34 162.70,523.66 159.65,524.60 C156.60,525.54 152.60,526.02 149.36,526.30 C146.12,526.58 143.27,526.58 140.22,526.30 C137.17,526.02 133.74,525.45 131.07,524.60 C128.40,523.76 126.12,522.72 124.21,521.21 C122.31,519.71 120.78,517.82 119.64,515.56 C118.50,513.30 117.73,510.85 117.35,507.65 C116.97,504.45 117.16,499.36 117.35,496.35 Z" fill="#4a4a4a"/>
<path d="M122.25,486.15 C121.59,484.95 125.10,481.55 127.51,480.24 C129.92,478.92 133.86,478.27 136.70,478.27 C139.55,478.27 143.06,479.14 144.59,480.24 C146.12,481.33 146.78,483.81 145.90,484.84 C145.03,485.87 141.74,485.98 139.33,486.42 C136.92,486.85 134.30,487.51 131.45,487.47 C128.60,487.42 122.91,487.36 122.25,486.15 Z" fill="#a2a2a2"/>
<path d="M149.84,484.84 C149.08,483.74 150.06,480.94 151.82,479.84 C153.57,478.75 157.62,477.98 160.36,478.27 C163.10,478.55 166.49,480.20 168.24,481.55 C169.99,482.91 171.53,485.47 170.87,486.42 C170.21,487.36 166.71,487.20 164.30,487.20 C161.89,487.20 158.82,486.81 156.42,486.42 C154.01,486.02 150.61,485.93 149.84,484.84 Z" fill="#a2a2a2"/>
<path d="M120.94,488.78 C121.15,488.25 126.85,487.31 130.13,487.20 C133.42,487.09 138.02,487.42 140.65,488.12 C143.27,488.82 144.37,490.86 145.90,491.41 C147.44,491.96 148.09,491.96 149.84,491.41 C151.60,490.86 153.79,488.74 156.42,488.12 C159.04,487.51 162.99,487.40 165.61,487.73 C168.24,488.06 171.75,489.48 172.18,490.09 C172.62,490.71 170.87,491.19 168.24,491.41 C165.61,491.63 159.26,490.75 156.42,491.41 C153.57,492.07 153.13,494.69 151.16,495.35 C149.19,496.01 146.56,496.01 144.59,495.35 C142.62,494.69 141.96,492.24 139.33,491.41 C136.70,490.58 131.89,490.80 128.82,490.36 C125.75,489.92 120.72,489.31 120.94,488.78 Z" fill="#262626"/>
<path d="M143.93,491.41 C145.14,490.31 149.08,490.09 150.50,491.41 C151.93,492.72 152.36,496.88 152.47,499.29 C152.58,501.70 152.25,504.99 151.16,505.86 C150.06,506.74 147.22,505.86 145.90,504.55 C144.59,503.24 143.60,500.17 143.27,497.98 C142.95,495.79 142.73,492.50 143.93,491.41 Z" fill="#6e6e6e"/>
<path d="M123.56,521.63 C125.32,521.52 134.95,524.87 139.33,525.57 C143.71,526.27 146.12,526.10 149.84,525.84 C153.57,525.57 158.17,525.14 161.67,524.00 C165.18,522.86 169.77,519.07 170.87,519.00 C171.96,518.94 170.21,522.11 168.24,523.60 C166.27,525.09 162.11,527.06 159.04,527.94 C155.98,528.82 153.13,528.71 149.84,528.86 C146.56,529.01 142.84,529.30 139.33,528.86 C135.83,528.42 131.45,527.44 128.82,526.23 C126.19,525.03 121.81,521.74 123.56,521.63 Z" fill="#8a8a8a"/>
<path d="M162.99,501.92 C164.52,499.95 168.90,500.61 170.87,501.92 C172.84,503.24 174.59,507.18 174.81,509.81 C175.03,512.43 173.94,515.94 172.18,517.69 C170.43,519.44 166.05,520.97 164.30,520.32 C162.55,519.66 161.89,516.81 161.67,513.75 C161.45,510.68 161.45,503.89 162.99,501.92 Z" fill="#353535"/>
</g></g>
<polygon points="116.99,495.35 122.25,490.09 128.16,488.12 134.08,489.44 139.33,494.04 144.59,500.61 149.84,505.86 151.82,507.18 148.53,509.81 147.22,513.75 145.90,517.69 146.56,521.63 140.65,522.95 132.76,522.29 124.88,520.32 119.62,516.38 116.99,509.81 116.34,501.92" fill="#8cb3e6"/>
<path d="M148.27,519.27 154.05,516.90 159.04,512.96 161.93,507.83 161.41,502.97 158.78,500.08" fill="none" stroke="#f9b2ad" stroke-width="6.6" stroke-linecap="round" stroke-linejoin="round"/>
<polygon points="155.36,497.32 158.39,494.69 162.99,492.99 168.24,493.38 172.84,496.01 175.47,500.61 176.39,505.86 175.47,510.46 173.50,513.75 172.18,511.78 172.18,507.18 170.87,502.58 167.58,499.29 162.99,497.98 158.39,498.64" fill="#b2df8a"/>
<rect x="193.30" y="458.30" width="73.80" height="75.50" fill="#d3d3d3"/>
<polygon points="199.34,493.54 204.01,489.45 210.44,488.28 216.86,490.04 220.95,493.54 225.04,498.21 229.71,502.88 232.63,505.22 233.21,508.14 231.46,509.89 230.29,513.39 229.71,516.90 228.54,520.40 225.04,522.74 219.20,522.74 213.36,522.15 207.52,521.57 202.85,518.65 199.34,513.39 197.59,507.55 197.59,500.55" fill="#8f4c9c"/>
<path d="M230.29,520.40 236.72,517.83 241.97,513.39 244.31,507.79 243.49,502.30 240.45,498.45 237.65,497.28" fill="none" stroke="#8f4c9c" stroke-width="6.2" stroke-linecap="round" stroke-linejoin="round"/>
<polygon points="239.05,495.29 243.72,492.61 248.39,492.37 253.07,494.12 256.57,498.21 258.32,502.88 257.97,507.55 256.57,511.06 254.82,513.39 254.00,509.89 254.82,506.39 254.47,502.30 252.48,498.80 249.56,496.46 246.06,495.88 242.55,497.04 240.22,498.80" fill="#8f4c9c"/>
<rect x="233.20" y="493.00" width="11.50" height="11.00" fill="none" stroke="#2f7ec1" stroke-width="1"/>
<rect x="249.30" y="505.80" width="11.10" height="11.10" fill="none" stroke="#36a23a" stroke-width="1"/>
<rect x="222.70" y="512.20" width="11.10" height="11.10" fill="none" stroke="#e0282e" stroke-width="1"/>
<clipPath id="cpe1"><rect x="273" y="458" width="76" height="76"/></clipPath>
<g clip-path="url(#cpe1)">
<rect x="273.00" y="458.00" width="76.00" height="76.00" fill="#8f4c9c"/>
<polygon points="323.27,459.55 349.00,459.55 349.00,460.39 337.03,462.18 329.85,462.42 323.87,465.77 318.48,468.41" fill="#d3d3d3"/>
<polygon points="316.92,459.55 323.27,459.55 318.48,467.93 316.09,467.57" fill="#2ca02c"/>
<polygon points="311.30,522.03 314.29,523.47 320.28,520.60 327.46,518.44 335.24,516.65 349.00,514.61 349.00,534.00 317.88,534.00 317.88,526.82 314.29,524.43" fill="#d3d3d3"/>
<polygon points="273.59,530.41 295.14,530.41 295.14,534.00 273.59,534.00" fill="#d3d3d3"/>
<polygon points="298.13,509.46 301.12,508.63 304.71,510.66 306.51,514.25 304.71,515.45 299.93,514.85 297.77,513.65" fill="#2ca02c"/>
<polygon points="312.49,521.08 317.88,520.84 317.64,522.27 313.09,522.63" fill="#2ca02c"/>
<rect x="306.11" y="480.13" width="2.00" height="2.40" fill="#f2b33d"/>
<rect x="301.92" y="492.70" width="2.00" height="2.40" fill="#f2b33d"/>
<rect x="300.72" y="497.49" width="2.00" height="2.40" fill="#f2b33d"/>
<rect x="298.93" y="502.88" width="2.00" height="2.40" fill="#f2b33d"/>
<rect x="297.73" y="507.07" width="2.00" height="2.40" fill="#f2b33d"/>
<rect x="298.69" y="514.25" width="2.00" height="2.40" fill="#f2b33d"/>
<rect x="301.92" y="516.05" width="2.00" height="2.40" fill="#f2b33d"/>
<rect x="304.91" y="517.24" width="2.00" height="2.40" fill="#f2b33d"/>
<rect x="309.70" y="520.59" width="2.00" height="2.40" fill="#f2b33d"/>
<rect x="311.14" y="522.03" width="2.00" height="2.40" fill="#f2b33d"/>
</g>
<rect x="274.00" y="459.00" width="74.00" height="74.00" fill="none" stroke="#e0282e" stroke-width="2"/>
<clipPath id="cpe2"><rect x="355" y="458.4" width="76" height="75.6"/></clipPath>
<g clip-path="url(#cpe2)">
<rect x="355.00" y="458.40" width="76.00" height="75.60" fill="#8f4c9c"/>
<polygon points="355.59,458.59 403.47,458.59 403.47,459.79 399.28,462.18 394.49,465.77 389.11,468.77 384.92,472.96 380.73,475.95 379.53,480.14 375.34,484.93 375.34,487.32 380.73,490.31 393.30,490.91 391.50,492.71 389.11,496.30 377.14,496.90 373.55,502.88 365.17,513.65 359.18,523.83 360.38,534.00 355.59,534.00" fill="#d3d3d3"/>
<polygon points="400.48,489.12 404.67,486.36 431.00,486.36 431.00,506.47 423.82,500.49 419.03,495.10 411.85,490.91 407.06,489.12" fill="#d3d3d3"/>
<polygon points="400.48,489.12 402.87,486.36 407.66,485.88 405.87,487.56 402.28,488.76" fill="#f2b33d"/>
<rect x="413.05" y="485.17" width="2.20" height="1.60" fill="#2ca02c"/>
<rect x="424.42" y="485.52" width="2.00" height="1.60" fill="#2ca02c"/>
<rect x="381.93" y="472.96" width="1.80" height="1.80" fill="#f2b33d"/>
<rect x="360.14" y="528.62" width="1.20" height="4.00" fill="#2ca02c"/>
</g>
<rect x="356.00" y="459.40" width="74.00" height="73.60" fill="none" stroke="#2f7ec1" stroke-width="2"/>
<clipPath id="cpe3"><rect x="437" y="458.4" width="76" height="75.6"/></clipPath>
<g clip-path="url(#cpe3)">
<rect x="437.00" y="458.40" width="76.00" height="75.60" fill="#d3d3d3"/>
<polygon points="463.69,458.59 495.65,458.59 495.29,466.97 493.25,472.96 491.46,478.94 489.66,487.32 487.27,495.70 486.07,500.49 481.88,504.68 477.69,508.87 474.10,508.87 469.91,506.47 468.12,502.88 467.52,494.50 466.92,484.93 468.71,481.93 471.11,480.74 470.51,478.34 466.32,477.15 464.52,474.15 463.69,469.36" fill="#8f4c9c"/>
<rect x="462.49" y="468.41" width="1.40" height="2.00" fill="#f2b33d"/>
<rect x="463.93" y="473.55" width="1.60" height="3.00" fill="#f2b33d"/>
<rect x="466.92" y="493.31" width="1.60" height="5.00" fill="#f2b33d"/>
<rect x="468.47" y="503.48" width="1.80" height="1.80" fill="#f2b33d"/>
<rect x="470.15" y="506.23" width="2.40" height="1.80" fill="#f2b33d"/>
<rect x="472.54" y="507.67" width="2.00" height="1.60" fill="#f2b33d"/>
<rect x="471.11" y="479.18" width="1.40" height="2.80" fill="#2ca02c"/>
<rect x="491.46" y="477.74" width="1.80" height="1.40" fill="#2ca02c"/>
</g>
<rect x="438.00" y="459.40" width="74.00" height="73.60" fill="none" stroke="#36a23a" stroke-width="2"/>
<text x="67.20" y="545.20" font-size="8.80" text-anchor="middle" stroke="#000" stroke-width="0.18">Original</text>
<text x="148.90" y="545.20" font-size="8.80" text-anchor="middle" stroke="#000" stroke-width="0.18">Decompressed</text>
<text x="230.20" y="545.20" font-size="8.80" text-anchor="middle" stroke="#000" stroke-width="0.18">Difference</text>
<text x="311.00" y="545.20" font-size="8.80" text-anchor="middle" stroke="#000" stroke-width="0.18">ROI1</text>
<text x="393.00" y="545.20" font-size="8.80" text-anchor="middle" stroke="#000" stroke-width="0.18">ROI2</text>
<text x="475.00" y="545.20" font-size="8.80" text-anchor="middle" stroke="#000" stroke-width="0.18">ROI3</text>
<text x="546.50" y="449.40" font-size="15.40" font-weight="bold" stroke="#000" stroke-width="0.18" textLength="6.35" lengthAdjust="spacingAndGlyphs">f</text>
<rect x="568.10" y="450.60" width="15.00" height="5.00" fill="#b2df8a" stroke="#111" stroke-width="1"/>
<text x="589.10" y="456.00" font-size="7.92" stroke="#000" stroke-width="0.18" textLength="26.36" lengthAdjust="spacingAndGlyphs">Texture</text>
<rect x="630.60" y="450.60" width="15.00" height="5.00" fill="#a6cee3" stroke="#111" stroke-width="1"/>
<text x="651.00" y="456.00" font-size="7.92" stroke="#000" stroke-width="0.18" textLength="22.55" lengthAdjust="spacingAndGlyphs">Shape</text>
<text x="620.80" y="481.60" font-size="9.68" text-anchor="middle" stroke="#000" stroke-width="0.18" textLength="80.59" lengthAdjust="spacingAndGlyphs">Encoding per data</text>
<path d="M621.30,494.20 A40.8,40.8 0 1 1 599.87,500.28 L606.33,510.75 A28.5,28.5 0 1 0 621.30,506.50 Z" fill="#a6cee3" stroke="#111" stroke-width="1.2"/>
<path d="M599.87,500.28 A40.8,40.8 0 0 1 621.30,494.20 L621.30,506.50 A28.5,28.5 0 0 0 606.33,510.75 Z" fill="#b2df8a" stroke="#111" stroke-width="1.2"/>
<text x="607.80" y="489.70" font-size="7.92" text-anchor="middle" stroke="#000" stroke-width="0.18" textLength="18.29" lengthAdjust="spacingAndGlyphs">8.8%</text>
<text x="634.60" y="584.40" font-size="7.92" text-anchor="middle" stroke="#000" stroke-width="0.18" textLength="22.87" lengthAdjust="spacingAndGlyphs">91.2%</text>
<text x="621.30" y="533.00" font-size="9.57" text-anchor="middle" stroke="#000" stroke-width="0.18" textLength="11.07" lengthAdjust="spacingAndGlyphs">40</text>
<text x="621.30" y="543.00" font-size="9.57" text-anchor="middle" stroke="#000" stroke-width="0.18" textLength="36.55" lengthAdjust="spacingAndGlyphs">Seconds</text>
<text x="620.90" y="601.30" font-size="9.68" text-anchor="middle" stroke="#000" stroke-width="0.18" textLength="81.64" lengthAdjust="spacingAndGlyphs">Decoding per data</text>
<path d="M636.93,617.45 A40.8,40.8 0 1 1 621.20,614.30 L621.20,626.60 A28.5,28.5 0 1 0 632.19,628.80 Z" fill="#b2df8a" stroke="#111" stroke-width="1.2"/>
<path d="M621.20,614.30 A40.8,40.8 0 0 1 636.93,617.45 L632.19,628.80 A28.5,28.5 0 0 0 621.20,626.60 Z" fill="#a6cee3" stroke="#111" stroke-width="1.2"/>
<text x="632.40" y="610.90" font-size="7.92" text-anchor="middle" stroke="#000" stroke-width="0.18" textLength="18.29" lengthAdjust="spacingAndGlyphs">6.3%</text>
<text x="620.00" y="705.80" font-size="7.92" text-anchor="middle" stroke="#000" stroke-width="0.18" textLength="22.87" lengthAdjust="spacingAndGlyphs">93.7%</text>
<text x="621.20" y="653.00" font-size="9.57" text-anchor="middle" stroke="#000" stroke-width="0.18" textLength="5.54" lengthAdjust="spacingAndGlyphs">4</text>
<text x="621.20" y="663.00" font-size="9.57" text-anchor="middle" stroke="#000" stroke-width="0.18" textLength="36.55" lengthAdjust="spacingAndGlyphs">Seconds</text>
<text x="-0.30" y="568.30" font-size="15.40" font-weight="bold" stroke="#000" stroke-width="0.18" textLength="10.45" lengthAdjust="spacingAndGlyphs">g</text>
<clipPath id="cg"><rect x="35.8" y="573.3" width="99.00000000000001" height="94.70000000000005"/></clipPath>
<line x1="36.04" y1="573.80" x2="36.04" y2="668.00" stroke="#eeeeee" stroke-width="0.7" />
<line x1="40.16" y1="573.80" x2="40.16" y2="668.00" stroke="#eeeeee" stroke-width="0.7" />
<line x1="44.28" y1="573.80" x2="44.28" y2="668.00" stroke="#eeeeee" stroke-width="0.7" />
<line x1="48.40" y1="573.80" x2="48.40" y2="668.00" stroke="#e3e3e3" stroke-width="0.7" />
<line x1="52.52" y1="573.80" x2="52.52" y2="668.00" stroke="#eeeeee" stroke-width="0.7" />
<line x1="56.64" y1="573.80" x2="56.64" y2="668.00" stroke="#eeeeee" stroke-width="0.7" />
<line x1="60.76" y1="573.80" x2="60.76" y2="668.00" stroke="#eeeeee" stroke-width="0.7" />
<line x1="64.88" y1="573.80" x2="64.88" y2="668.00" stroke="#eeeeee" stroke-width="0.7" />
<line x1="69.00" y1="573.80" x2="69.00" y2="668.00" stroke="#e3e3e3" stroke-width="0.7" />
<line x1="73.12" y1="573.80" x2="73.12" y2="668.00" stroke="#eeeeee" stroke-width="0.7" />
<line x1="77.24" y1="573.80" x2="77.24" y2="668.00" stroke="#eeeeee" stroke-width="0.7" />
<line x1="81.36" y1="573.80" x2="81.36" y2="668.00" stroke="#eeeeee" stroke-width="0.7" />
<line x1="85.48" y1="573.80" x2="85.48" y2="668.00" stroke="#eeeeee" stroke-width="0.7" />
<line x1="89.60" y1="573.80" x2="89.60" y2="668.00" stroke="#e3e3e3" stroke-width="0.7" />
<line x1="93.72" y1="573.80" x2="93.72" y2="668.00" stroke="#eeeeee" stroke-width="0.7" />
<line x1="97.84" y1="573.80" x2="97.84" y2="668.00" stroke="#eeeeee" stroke-width="0.7" />
<line x1="101.96" y1="573.80" x2="101.96" y2="668.00" stroke="#eeeeee" stroke-width="0.7" />
<line x1="106.08" y1="573.80" x2="106.08" y2="668.00" stroke="#eeeeee" stroke-width="0.7" />
<line x1="110.20" y1="573.80" x2="110.20" y2="668.00" stroke="#e3e3e3" stroke-width="0.7" />
<line x1="114.32" y1="573.80" x2="114.32" y2="668.00" stroke="#eeeeee" stroke-width="0.7" />
<line x1="118.44" y1="573.80" x2="118.44" y2="668.00" stroke="#eeeeee" stroke-width="0.7" />
<line x1="122.56" y1="573.80" x2="122.56" y2="668.00" stroke="#eeeeee" stroke-width="0.7" />
<line x1="126.68" y1="573.80" x2="126.68" y2="668.00" stroke="#eeeeee" stroke-width="0.7" />
<line x1="130.80" y1="573.80" x2="130.80" y2="668.00" stroke="#e3e3e3" stroke-width="0.7" />
<line x1="35.80" y1="668.00" x2="134.30" y2="668.00" stroke="#e3e3e3" stroke-width="0.7" />
<line x1="35.80" y1="664.23" x2="134.30" y2="664.23" stroke="#eeeeee" stroke-width="0.7" />
<line x1="35.80" y1="660.46" x2="134.30" y2="660.46" stroke="#eeeeee" stroke-width="0.7" />
<line x1="35.80" y1="656.70" x2="134.30" y2="656.70" stroke="#eeeeee" stroke-width="0.7" />
<line x1="35.80" y1="652.93" x2="134.30" y2="652.93" stroke="#eeeeee" stroke-width="0.7" />
<line x1="35.80" y1="649.16" x2="134.30" y2="649.16" stroke="#e3e3e3" stroke-width="0.7" />
<line x1="35.80" y1="645.39" x2="134.30" y2="645.39" stroke="#eeeeee" stroke-width="0.7" />
<line x1="35.80" y1="641.62" x2="134.30" y2="641.62" stroke="#eeeeee" stroke-width="0.7" />
<line x1="35.80" y1="637.86" x2="134.30" y2="637.86" stroke="#eeeeee" stroke-width="0.7" />
<line x1="35.80" y1="634.09" x2="134.30" y2="634.09" stroke="#eeeeee" stroke-width="0.7" />
<line x1="35.80" y1="630.32" x2="134.30" y2="630.32" stroke="#e3e3e3" stroke-width="0.7" />
<line x1="35.80" y1="626.55" x2="134.30" y2="626.55" stroke="#eeeeee" stroke-width="0.7" />
<line x1="35.80" y1="622.78" x2="134.30" y2="622.78" stroke="#eeeeee" stroke-width="0.7" />
<line x1="35.80" y1="619.02" x2="134.30" y2="619.02" stroke="#eeeeee" stroke-width="0.7" />
<line x1="35.80" y1="615.25" x2="134.30" y2="615.25" stroke="#eeeeee" stroke-width="0.7" />
<line x1="35.80" y1="611.48" x2="134.30" y2="611.48" stroke="#e3e3e3" stroke-width="0.7" />
<line x1="35.80" y1="607.71" x2="134.30" y2="607.71" stroke="#eeeeee" stroke-width="0.7" />
<line x1="35.80" y1="603.94" x2="134.30" y2="603.94" stroke="#eeeeee" stroke-width="0.7" />
<line x1="35.80" y1="600.18" x2="134.30" y2="600.18" stroke="#eeeeee" stroke-width="0.7" />
<line x1="35.80" y1="596.41" x2="134.30" y2="596.41" stroke="#eeeeee" stroke-width="0.7" />
<line x1="35.80" y1="592.64" x2="134.30" y2="592.64" stroke="#e3e3e3" stroke-width="0.7" />
<line x1="35.80" y1="588.87" x2="134.30" y2="588.87" stroke="#eeeeee" stroke-width="0.7" />
<line x1="35.80" y1="585.10" x2="134.30" y2="585.10" stroke="#eeeeee" stroke-width="0.7" />
<line x1="35.80" y1="581.34" x2="134.30" y2="581.34" stroke="#eeeeee" stroke-width="0.7" />
<line x1="35.80" y1="577.57" x2="134.30" y2="577.57" stroke="#eeeeee" stroke-width="0.7" />
<line x1="35.80" y1="573.80" x2="134.30" y2="573.80" stroke="#e3e3e3" stroke-width="0.7" />
<g clip-path="url(#cg)"><polyline points="40.67,762.20 53.55,611.48 79.30,596.78 130.80,592.83" fill="none" stroke="#3b8bd0" stroke-width="1.6" stroke-linejoin="round" stroke-linecap="round" stroke-dasharray="4.6 1.7"/>
<polygon points="39.58,759.34 41.77,759.34 41.77,761.11 43.53,761.11 43.53,763.29 41.77,763.29 41.77,765.06 39.58,765.06 39.58,763.29 37.81,763.29 37.81,761.11 39.58,761.11" fill="#3b8bd0"/>
<polygon points="52.46,608.62 54.64,608.62 54.64,610.39 56.41,610.39 56.41,612.57 54.64,612.57 54.64,614.34 52.46,614.34 52.46,612.57 50.69,612.57 50.69,610.39 52.46,610.39" fill="#3b8bd0"/>
<polygon points="78.21,593.92 80.39,593.92 80.39,595.69 82.16,595.69 82.16,597.88 80.39,597.88 80.39,599.64 78.21,599.64 78.21,597.88 76.44,597.88 76.44,595.69 78.21,595.69" fill="#3b8bd0"/>
<polygon points="129.71,589.97 131.89,589.97 131.89,591.74 133.66,591.74 133.66,593.92 131.89,593.92 131.89,595.69 129.71,595.69 129.71,593.92 127.94,593.92 127.94,591.74 129.71,591.74" fill="#3b8bd0"/></g>
<g clip-path="url(#cg)"><polyline points="40.67,659.15 53.55,616.38 79.30,601.12 130.80,593.39" fill="none" stroke="#3b8bd0" stroke-width="1.6" stroke-linejoin="round" stroke-linecap="round" />
<rect x="38.33" y="656.81" width="4.68" height="4.68" fill="#3b8bd0"/>
<rect x="51.21" y="614.04" width="4.68" height="4.68" fill="#3b8bd0"/>
<rect x="76.96" y="598.78" width="4.68" height="4.68" fill="#3b8bd0"/>
<rect x="128.46" y="591.05" width="4.68" height="4.68" fill="#3b8bd0"/></g>
<g clip-path="url(#cg)"><polyline points="40.67,644.83 53.55,593.96 79.30,579.08 130.80,575.68" fill="none" stroke="#ebb743" stroke-width="1.6" stroke-linejoin="round" stroke-linecap="round" stroke-dasharray="4.6 1.7"/>
<polygon points="40.67,647.82 43.66,642.75 37.68,642.75" fill="#ebb743"/>
<polygon points="53.55,596.95 56.54,591.88 50.56,591.88" fill="#ebb743"/>
<polygon points="79.30,582.07 82.29,577.00 76.31,577.00" fill="#ebb743"/>
<polygon points="130.80,578.67 133.79,573.60 127.81,573.60" fill="#ebb743"/></g>
<g clip-path="url(#cg)"><polyline points="40.67,626.55 53.55,594.52 79.30,577.94 130.80,575.12" fill="none" stroke="#ebb743" stroke-width="1.6" stroke-linejoin="round" stroke-linecap="round" />
<polygon points="40.67,623.56 43.66,628.63 37.68,628.63" fill="#ebb743"/>
<polygon points="53.55,591.53 56.54,596.60 50.56,596.60" fill="#ebb743"/>
<polygon points="79.30,574.95 82.29,580.02 76.31,580.02" fill="#ebb743"/>
<polygon points="130.80,572.13 133.79,577.20 127.81,577.20" fill="#ebb743"/></g>
<g clip-path="url(#cg)"><polyline points="40.67,623.16 53.55,590.38 79.30,577.57 130.80,574.93" fill="none" stroke="#5f8a3a" stroke-width="1.6" stroke-linejoin="round" stroke-linecap="round" />
<rect x="38.33" y="620.82" width="4.68" height="4.68" fill="#5f8a3a"/>
<rect x="51.21" y="588.04" width="4.68" height="4.68" fill="#5f8a3a"/>
<rect x="76.96" y="575.23" width="4.68" height="4.68" fill="#5f8a3a"/>
<rect x="128.46" y="572.59" width="4.68" height="4.68" fill="#5f8a3a"/></g>
<g clip-path="url(#cg)"><polyline points="40.67,661.78 53.55,617.13 79.30,593.21 130.80,585.71" fill="none" stroke="#5f8a3a" stroke-width="1.6" stroke-linejoin="round" stroke-linecap="round" stroke-dasharray="4.6 1.7"/>
<polygon points="40.67,658.53 43.41,661.78 40.67,665.03 37.94,661.78" fill="#5f8a3a"/>
<polygon points="53.55,613.88 56.28,617.13 53.55,620.38 50.82,617.13" fill="#5f8a3a"/>
<polygon points="79.30,589.96 82.03,593.21 79.30,596.46 76.57,593.21" fill="#5f8a3a"/>
<polygon points="130.80,582.46 133.53,585.71 130.80,588.96 128.07,585.71" fill="#5f8a3a"/></g>
<g clip-path="url(#cg)"><polyline points="40.67,642.94 53.55,606.77 79.30,578.51 130.80,575.31" fill="none" stroke="#e0707f" stroke-width="1.6" stroke-linejoin="round" stroke-linecap="round" />
<circle cx="40.67" cy="642.94" r="2.60" fill="#e0707f"/>
<circle cx="53.55" cy="606.77" r="2.60" fill="#e0707f"/>
<circle cx="79.30" cy="578.51" r="2.60" fill="#e0707f"/>
<circle cx="130.80" cy="575.31" r="2.60" fill="#e0707f"/></g>
<g clip-path="url(#cg)"><polyline points="40.67,657.26 53.55,614.31 79.30,588.50 130.80,579.45" fill="none" stroke="#e0707f" stroke-width="1.6" stroke-linejoin="round" stroke-linecap="round" stroke-dasharray="4.6 1.7"/>
<circle cx="40.67" cy="657.26" r="2.60" fill="#e0707f"/>
<circle cx="53.55" cy="614.31" r="2.60" fill="#e0707f"/>
<circle cx="79.30" cy="588.50" r="2.60" fill="#e0707f"/>
<circle cx="130.80" cy="579.45" r="2.60" fill="#e0707f"/></g>
<g clip-path="url(#cg)"><polyline points="40.67,621.39 53.55,587.10 79.30,577.19 130.80,574.65" fill="none" stroke="#9b4fa8" stroke-width="1.6" stroke-linejoin="round" stroke-linecap="round" />
<circle cx="40.67" cy="621.39" r="2.60" fill="#9b4fa8"/>
<circle cx="53.55" cy="587.10" r="2.60" fill="#9b4fa8"/>
<circle cx="79.30" cy="577.19" r="2.60" fill="#9b4fa8"/>
<circle cx="130.80" cy="574.65" r="2.60" fill="#9b4fa8"/></g>
<rect x="51.70" y="576.60" width="27.70" height="17.50" fill="none" stroke="#9a9a9a" stroke-width="0.7"/>
<line x1="51.70" y1="594.10" x2="81.60" y2="659.30" stroke="#9a9a9a" stroke-width="0.6" />
<line x1="79.40" y1="576.60" x2="130.50" y2="612.80" stroke="#9a9a9a" stroke-width="0.6" />
<rect x="35.80" y="573.80" width="98.50" height="94.20" fill="none" stroke="#cfcfcf" stroke-width="0.8"/>
<line x1="35.80" y1="573.80" x2="35.80" y2="668.50" stroke="#222" stroke-width="1" />
<line x1="35.30" y1="668.00" x2="134.30" y2="668.00" stroke="#222" stroke-width="1" />
<line x1="48.40" y1="668.00" x2="48.40" y2="671.00" stroke="#222" stroke-width="0.8" />
<text x="48.40" y="678.10" font-size="7.92" text-anchor="middle" stroke="#000" stroke-width="0.18" textLength="11.45" lengthAdjust="spacingAndGlyphs">0.1</text>
<line x1="69.00" y1="668.00" x2="69.00" y2="671.00" stroke="#222" stroke-width="0.8" />
<text x="69.00" y="678.10" font-size="7.92" text-anchor="middle" stroke="#000" stroke-width="0.18" textLength="11.45" lengthAdjust="spacingAndGlyphs">0.2</text>
<line x1="89.60" y1="668.00" x2="89.60" y2="671.00" stroke="#222" stroke-width="0.8" />
<text x="89.60" y="678.10" font-size="7.92" text-anchor="middle" stroke="#000" stroke-width="0.18" textLength="11.45" lengthAdjust="spacingAndGlyphs">0.3</text>
<line x1="110.20" y1="668.00" x2="110.20" y2="671.00" stroke="#222" stroke-width="0.8" />
<text x="110.20" y="678.10" font-size="7.92" text-anchor="middle" stroke="#000" stroke-width="0.18" textLength="11.45" lengthAdjust="spacingAndGlyphs">0.4</text>
<line x1="130.80" y1="668.00" x2="130.80" y2="671.00" stroke="#222" stroke-width="0.8" />
<text x="130.80" y="678.10" font-size="7.92" text-anchor="middle" stroke="#000" stroke-width="0.18" textLength="11.45" lengthAdjust="spacingAndGlyphs">0.5</text>
<line x1="36.04" y1="668.00" x2="36.04" y2="669.70" stroke="#222" stroke-width="0.6" />
<line x1="40.16" y1="668.00" x2="40.16" y2="669.70" stroke="#222" stroke-width="0.6" />
<line x1="44.28" y1="668.00" x2="44.28" y2="669.70" stroke="#222" stroke-width="0.6" />
<line x1="52.52" y1="668.00" x2="52.52" y2="669.70" stroke="#222" stroke-width="0.6" />
<line x1="56.64" y1="668.00" x2="56.64" y2="669.70" stroke="#222" stroke-width="0.6" />
<line x1="60.76" y1="668.00" x2="60.76" y2="669.70" stroke="#222" stroke-width="0.6" />
<line x1="64.88" y1="668.00" x2="64.88" y2="669.70" stroke="#222" stroke-width="0.6" />
<line x1="73.12" y1="668.00" x2="73.12" y2="669.70" stroke="#222" stroke-width="0.6" />
<line x1="77.24" y1="668.00" x2="77.24" y2="669.70" stroke="#222" stroke-width="0.6" />
<line x1="81.36" y1="668.00" x2="81.36" y2="669.70" stroke="#222" stroke-width="0.6" />
<line x1="85.48" y1="668.00" x2="85.48" y2="669.70" stroke="#222" stroke-width="0.6" />
<line x1="93.72" y1="668.00" x2="93.72" y2="669.70" stroke="#222" stroke-width="0.6" />
<line x1="97.84" y1="668.00" x2="97.84" y2="669.70" stroke="#222" stroke-width="0.6" />
<line x1="101.96" y1="668.00" x2="101.96" y2="669.70" stroke="#222" stroke-width="0.6" />
<line x1="106.08" y1="668.00" x2="106.08" y2="669.70" stroke="#222" stroke-width="0.6" />
<line x1="114.32" y1="668.00" x2="114.32" y2="669.70" stroke="#222" stroke-width="0.6" />
<line x1="118.44" y1="668.00" x2="118.44" y2="669.70" stroke="#222" stroke-width="0.6" />
<line x1="122.56" y1="668.00" x2="122.56" y2="669.70" stroke="#222" stroke-width="0.6" />
<line x1="126.68" y1="668.00" x2="126.68" y2="669.70" stroke="#222" stroke-width="0.6" />
<line x1="32.80" y1="668.00" x2="35.80" y2="668.00" stroke="#222" stroke-width="0.8" />
<text x="31.80" y="670.60" font-size="7.92" text-anchor="end" stroke="#000" stroke-width="0.18" textLength="16.03" lengthAdjust="spacingAndGlyphs">0.95</text>
<line x1="34.10" y1="664.23" x2="35.80" y2="664.23" stroke="#222" stroke-width="0.6" />
<line x1="34.10" y1="660.46" x2="35.80" y2="660.46" stroke="#222" stroke-width="0.6" />
<line x1="34.10" y1="656.70" x2="35.80" y2="656.70" stroke="#222" stroke-width="0.6" />
<line x1="34.10" y1="652.93" x2="35.80" y2="652.93" stroke="#222" stroke-width="0.6" />
<line x1="32.80" y1="649.16" x2="35.80" y2="649.16" stroke="#222" stroke-width="0.8" />
<text x="31.80" y="651.76" font-size="7.92" text-anchor="end" stroke="#000" stroke-width="0.18" textLength="16.03" lengthAdjust="spacingAndGlyphs">0.96</text>
<line x1="34.10" y1="645.39" x2="35.80" y2="645.39" stroke="#222" stroke-width="0.6" />
<line x1="34.10" y1="641.62" x2="35.80" y2="641.62" stroke="#222" stroke-width="0.6" />
<line x1="34.10" y1="637.86" x2="35.80" y2="637.86" stroke="#222" stroke-width="0.6" />
<line x1="34.10" y1="634.09" x2="35.80" y2="634.09" stroke="#222" stroke-width="0.6" />
<line x1="32.80" y1="630.32" x2="35.80" y2="630.32" stroke="#222" stroke-width="0.8" />
<text x="31.80" y="632.92" font-size="7.92" text-anchor="end" stroke="#000" stroke-width="0.18" textLength="16.03" lengthAdjust="spacingAndGlyphs">0.97</text>
<line x1="34.10" y1="626.55" x2="35.80" y2="626.55" stroke="#222" stroke-width="0.6" />
<line x1="34.10" y1="622.78" x2="35.80" y2="622.78" stroke="#222" stroke-width="0.6" />
<line x1="34.10" y1="619.02" x2="35.80" y2="619.02" stroke="#222" stroke-width="0.6" />
<line x1="34.10" y1="615.25" x2="35.80" y2="615.25" stroke="#222" stroke-width="0.6" />
<line x1="32.80" y1="611.48" x2="35.80" y2="611.48" stroke="#222" stroke-width="0.8" />
<text x="31.80" y="614.08" font-size="7.92" text-anchor="end" stroke="#000" stroke-width="0.18" textLength="16.03" lengthAdjust="spacingAndGlyphs">0.98</text>
<line x1="34.10" y1="607.71" x2="35.80" y2="607.71" stroke="#222" stroke-width="0.6" />
<line x1="34.10" y1="603.94" x2="35.80" y2="603.94" stroke="#222" stroke-width="0.6" />
<line x1="34.10" y1="600.18" x2="35.80" y2="600.18" stroke="#222" stroke-width="0.6" />
<line x1="34.10" y1="596.41" x2="35.80" y2="596.41" stroke="#222" stroke-width="0.6" />
<line x1="32.80" y1="592.64" x2="35.80" y2="592.64" stroke="#222" stroke-width="0.8" />
<text x="31.80" y="595.24" font-size="7.92" text-anchor="end" stroke="#000" stroke-width="0.18" textLength="16.03" lengthAdjust="spacingAndGlyphs">0.99</text>
<line x1="34.10" y1="588.87" x2="35.80" y2="588.87" stroke="#222" stroke-width="0.6" />
<line x1="34.10" y1="585.10" x2="35.80" y2="585.10" stroke="#222" stroke-width="0.6" />
<line x1="34.10" y1="581.34" x2="35.80" y2="581.34" stroke="#222" stroke-width="0.6" />
<line x1="34.10" y1="577.57" x2="35.80" y2="577.57" stroke="#222" stroke-width="0.6" />
<line x1="32.80" y1="573.80" x2="35.80" y2="573.80" stroke="#222" stroke-width="0.8" />
<text x="31.80" y="576.40" font-size="7.92" text-anchor="end" stroke="#000" stroke-width="0.18" textLength="16.03" lengthAdjust="spacingAndGlyphs">1.00</text>
<g transform="translate(12.80 624.30) rotate(-90)"><text x="-12.90" y="0" font-size="8.60" stroke="#000" stroke-width="0.18" textLength="19.18" lengthAdjust="spacingAndGlyphs">SSIM</text><path d="M9.59,0.47 V-4.49" stroke="#000" stroke-width="0.79"/><path d="M7.69,-3.48 L9.59,-6.01 L11.49,-3.48 Z" fill="#000"/></g>
<text x="78.50" y="689.70" font-size="7.37" text-anchor="middle" stroke="#000" stroke-width="0.18" textLength="45.21" lengthAdjust="spacingAndGlyphs">Bits Per Voxel</text>
<line x1="35.80" y1="694.30" x2="134.30" y2="694.30" stroke="#222" stroke-width="0.9" />
<line x1="40.67" y1="694.30" x2="40.67" y2="696.80" stroke="#222" stroke-width="0.8" />
<text x="40.67" y="703.60" font-size="7.37" text-anchor="middle" stroke="#000" stroke-width="0.18" textLength="12.79" lengthAdjust="spacingAndGlyphs">256</text>
<line x1="53.55" y1="694.30" x2="53.55" y2="696.80" stroke="#222" stroke-width="0.8" />
<text x="53.55" y="703.60" font-size="7.37" text-anchor="middle" stroke="#000" stroke-width="0.18" textLength="12.79" lengthAdjust="spacingAndGlyphs">128</text>
<line x1="79.30" y1="694.30" x2="79.30" y2="696.80" stroke="#222" stroke-width="0.8" />
<text x="79.30" y="703.60" font-size="7.37" text-anchor="middle" stroke="#000" stroke-width="0.18" textLength="8.53" lengthAdjust="spacingAndGlyphs">64</text>
<line x1="130.80" y1="694.30" x2="130.80" y2="696.80" stroke="#222" stroke-width="0.8" />
<text x="130.80" y="703.60" font-size="7.37" text-anchor="middle" stroke="#000" stroke-width="0.18" textLength="8.53" lengthAdjust="spacingAndGlyphs">32</text>
<text x="78.50" y="712.80" font-size="7.26" text-anchor="middle" stroke="#000" stroke-width="0.18" textLength="61.87" lengthAdjust="spacingAndGlyphs">Compression Ratio</text>
<rect x="81.60" y="612.80" width="48.90" height="46.50" fill="#fff"/>
<clipPath id="ci"><rect x="81.6" y="612.8" width="48.900000000000006" height="46.5"/></clipPath>
<line x1="82.01" y1="612.80" x2="82.01" y2="659.30" stroke="#e6e6e6" stroke-width="0.6" />
<line x1="85.54" y1="612.80" x2="85.54" y2="659.30" stroke="#e6e6e6" stroke-width="0.6" />
<line x1="89.07" y1="612.80" x2="89.07" y2="659.30" stroke="#e6e6e6" stroke-width="0.6" />
<line x1="92.60" y1="612.80" x2="92.60" y2="659.30" stroke="#e6e6e6" stroke-width="0.6" />
<line x1="96.13" y1="612.80" x2="96.13" y2="659.30" stroke="#e6e6e6" stroke-width="0.6" />
<line x1="99.66" y1="612.80" x2="99.66" y2="659.30" stroke="#e6e6e6" stroke-width="0.6" />
<line x1="103.19" y1="612.80" x2="103.19" y2="659.30" stroke="#e6e6e6" stroke-width="0.6" />
<line x1="106.72" y1="612.80" x2="106.72" y2="659.30" stroke="#e6e6e6" stroke-width="0.6" />
<line x1="110.25" y1="612.80" x2="110.25" y2="659.30" stroke="#e6e6e6" stroke-width="0.6" />
<line x1="113.78" y1="612.80" x2="113.78" y2="659.30" stroke="#e6e6e6" stroke-width="0.6" />
<line x1="117.31" y1="612.80" x2="117.31" y2="659.30" stroke="#e6e6e6" stroke-width="0.6" />
<line x1="120.84" y1="612.80" x2="120.84" y2="659.30" stroke="#e6e6e6" stroke-width="0.6" />
<line x1="124.37" y1="612.80" x2="124.37" y2="659.30" stroke="#e6e6e6" stroke-width="0.6" />
<line x1="127.90" y1="612.80" x2="127.90" y2="659.30" stroke="#e6e6e6" stroke-width="0.6" />
<line x1="81.60" y1="658.31" x2="130.50" y2="658.31" stroke="#e6e6e6" stroke-width="0.6" />
<line x1="81.60" y1="655.91" x2="130.50" y2="655.91" stroke="#e6e6e6" stroke-width="0.6" />
<line x1="81.60" y1="653.50" x2="130.50" y2="653.50" stroke="#e6e6e6" stroke-width="0.6" />
<line x1="81.60" y1="651.09" x2="130.50" y2="651.09" stroke="#e6e6e6" stroke-width="0.6" />
<line x1="81.60" y1="648.69" x2="130.50" y2="648.69" stroke="#e6e6e6" stroke-width="0.6" />
<line x1="81.60" y1="646.28" x2="130.50" y2="646.28" stroke="#e6e6e6" stroke-width="0.6" />
<line x1="81.60" y1="643.88" x2="130.50" y2="643.88" stroke="#e6e6e6" stroke-width="0.6" />
<line x1="81.60" y1="641.47" x2="130.50" y2="641.47" stroke="#e6e6e6" stroke-width="0.6" />
<line x1="81.60" y1="639.06" x2="130.50" y2="639.06" stroke="#e6e6e6" stroke-width="0.6" />
<line x1="81.60" y1="636.66" x2="130.50" y2="636.66" stroke="#e6e6e6" stroke-width="0.6" />
<line x1="81.60" y1="634.25" x2="130.50" y2="634.25" stroke="#e6e6e6" stroke-width="0.6" />
<line x1="81.60" y1="631.85" x2="130.50" y2="631.85" stroke="#e6e6e6" stroke-width="0.6" />
<line x1="81.60" y1="629.44" x2="130.50" y2="629.44" stroke="#e6e6e6" stroke-width="0.6" />
<line x1="81.60" y1="627.03" x2="130.50" y2="627.03" stroke="#e6e6e6" stroke-width="0.6" />
<line x1="81.60" y1="624.63" x2="130.50" y2="624.63" stroke="#e6e6e6" stroke-width="0.6" />
<line x1="81.60" y1="622.22" x2="130.50" y2="622.22" stroke="#e6e6e6" stroke-width="0.6" />
<line x1="81.60" y1="619.82" x2="130.50" y2="619.82" stroke="#e6e6e6" stroke-width="0.6" />
<line x1="81.60" y1="617.41" x2="130.50" y2="617.41" stroke="#e6e6e6" stroke-width="0.6" />
<line x1="81.60" y1="615.00" x2="130.50" y2="615.00" stroke="#e6e6e6" stroke-width="0.6" />
<line x1="81.60" y1="612.60" x2="130.50" y2="612.60" stroke="#e6e6e6" stroke-width="0.6" />
<g clip-path="url(#ci)"><polyline points="83.77,658.31 127.90,615.73" fill="none" stroke="#ebb743" stroke-width="1.6" stroke-linejoin="round" stroke-linecap="round" />
<polygon points="83.77,655.09 86.99,660.55 80.55,660.55" fill="#ebb743"/>
<polygon points="127.90,612.51 131.12,617.97 124.68,617.97" fill="#ebb743"/></g>
<g clip-path="url(#ci)"><polyline points="83.77,649.17 127.90,615.49" fill="none" stroke="#5f8a3a" stroke-width="1.6" stroke-linejoin="round" stroke-linecap="round" />
<rect x="81.25" y="646.65" width="5.04" height="5.04" fill="#5f8a3a"/>
<rect x="125.38" y="612.97" width="5.04" height="5.04" fill="#5f8a3a"/></g>
<g clip-path="url(#ci)"><polyline points="83.77,639.30 127.90,615.00" fill="none" stroke="#9b4fa8" stroke-width="1.6" stroke-linejoin="round" stroke-linecap="round" />
<circle cx="83.77" cy="639.30" r="2.80" fill="#9b4fa8"/>
<circle cx="127.90" cy="615.00" r="2.80" fill="#9b4fa8"/></g>
<rect x="81.60" y="612.80" width="48.90" height="46.50" fill="none" stroke="#333" stroke-width="0.9"/>
<line x1="79.60" y1="617.41" x2="81.60" y2="617.41" stroke="#333" stroke-width="0.6" />
<text x="80.00" y="619.31" font-size="5.94" text-anchor="end" stroke="#000" stroke-width="0.18" textLength="18.89" lengthAdjust="spacingAndGlyphs">0.9975</text>
<line x1="79.60" y1="629.44" x2="81.60" y2="629.44" stroke="#333" stroke-width="0.6" />
<text x="80.00" y="631.34" font-size="5.94" text-anchor="end" stroke="#000" stroke-width="0.18" textLength="18.89" lengthAdjust="spacingAndGlyphs">0.9950</text>
<line x1="79.60" y1="641.47" x2="81.60" y2="641.47" stroke="#333" stroke-width="0.6" />
<text x="80.00" y="643.37" font-size="5.94" text-anchor="end" stroke="#000" stroke-width="0.18" textLength="18.89" lengthAdjust="spacingAndGlyphs">0.9925</text>
<line x1="79.60" y1="653.50" x2="81.60" y2="653.50" stroke="#333" stroke-width="0.6" />
<text x="80.00" y="655.40" font-size="5.94" text-anchor="end" stroke="#000" stroke-width="0.18" textLength="18.89" lengthAdjust="spacingAndGlyphs">0.9900</text>
<line x1="92.60" y1="659.30" x2="92.60" y2="661.30" stroke="#333" stroke-width="0.6" />
<text x="92.60" y="666.60" font-size="5.94" text-anchor="middle" stroke="#000" stroke-width="0.18" textLength="12.02" lengthAdjust="spacingAndGlyphs">0.15</text>
<line x1="110.25" y1="659.30" x2="110.25" y2="661.30" stroke="#333" stroke-width="0.6" />
<text x="110.25" y="666.60" font-size="5.94" text-anchor="middle" stroke="#000" stroke-width="0.18" textLength="12.02" lengthAdjust="spacingAndGlyphs">0.20</text>
<line x1="127.90" y1="659.30" x2="127.90" y2="661.30" stroke="#333" stroke-width="0.6" />
<text x="127.90" y="666.60" font-size="5.94" text-anchor="middle" stroke="#000" stroke-width="0.18" textLength="12.02" lengthAdjust="spacingAndGlyphs">0.25</text>
<text x="143.00" y="568.30" font-size="15.40" font-weight="bold" stroke="#000" stroke-width="0.18" textLength="10.39" lengthAdjust="spacingAndGlyphs">h</text>
<clipPath id="ch"><rect x="170.7" y="573.3" width="100.60000000000002" height="94.70000000000005"/></clipPath>
<line x1="171.48" y1="573.80" x2="171.48" y2="668.00" stroke="#eeeeee" stroke-width="0.7" />
<line x1="175.62" y1="573.80" x2="175.62" y2="668.00" stroke="#eeeeee" stroke-width="0.7" />
<line x1="179.76" y1="573.80" x2="179.76" y2="668.00" stroke="#eeeeee" stroke-width="0.7" />
<line x1="183.90" y1="573.80" x2="183.90" y2="668.00" stroke="#e3e3e3" stroke-width="0.7" />
<line x1="188.04" y1="573.80" x2="188.04" y2="668.00" stroke="#eeeeee" stroke-width="0.7" />
<line x1="192.18" y1="573.80" x2="192.18" y2="668.00" stroke="#eeeeee" stroke-width="0.7" />
<line x1="196.32" y1="573.80" x2="196.32" y2="668.00" stroke="#eeeeee" stroke-width="0.7" />
<line x1="200.46" y1="573.80" x2="200.46" y2="668.00" stroke="#eeeeee" stroke-width="0.7" />
<line x1="204.60" y1="573.80" x2="204.60" y2="668.00" stroke="#e3e3e3" stroke-width="0.7" />
<line x1="208.74" y1="573.80" x2="208.74" y2="668.00" stroke="#eeeeee" stroke-width="0.7" />
<line x1="212.88" y1="573.80" x2="212.88" y2="668.00" stroke="#eeeeee" stroke-width="0.7" />
<line x1="217.02" y1="573.80" x2="217.02" y2="668.00" stroke="#eeeeee" stroke-width="0.7" />
<line x1="221.16" y1="573.80" x2="221.16" y2="668.00" stroke="#eeeeee" stroke-width="0.7" />
<line x1="225.30" y1="573.80" x2="225.30" y2="668.00" stroke="#e3e3e3" stroke-width="0.7" />
<line x1="229.44" y1="573.80" x2="229.44" y2="668.00" stroke="#eeeeee" stroke-width="0.7" />
<line x1="233.58" y1="573.80" x2="233.58" y2="668.00" stroke="#eeeeee" stroke-width="0.7" />
<line x1="237.72" y1="573.80" x2="237.72" y2="668.00" stroke="#eeeeee" stroke-width="0.7" />
<line x1="241.86" y1="573.80" x2="241.86" y2="668.00" stroke="#eeeeee" stroke-width="0.7" />
<line x1="246.00" y1="573.80" x2="246.00" y2="668.00" stroke="#e3e3e3" stroke-width="0.7" />
<line x1="250.14" y1="573.80" x2="250.14" y2="668.00" stroke="#eeeeee" stroke-width="0.7" />
<line x1="254.28" y1="573.80" x2="254.28" y2="668.00" stroke="#eeeeee" stroke-width="0.7" />
<line x1="258.42" y1="573.80" x2="258.42" y2="668.00" stroke="#eeeeee" stroke-width="0.7" />
<line x1="262.56" y1="573.80" x2="262.56" y2="668.00" stroke="#eeeeee" stroke-width="0.7" />
<line x1="266.70" y1="573.80" x2="266.70" y2="668.00" stroke="#e3e3e3" stroke-width="0.7" />
<line x1="170.70" y1="668.00" x2="270.80" y2="668.00" stroke="#e3e3e3" stroke-width="0.7" />
<line x1="170.70" y1="665.64" x2="270.80" y2="665.64" stroke="#eeeeee" stroke-width="0.7" />
<line x1="170.70" y1="663.29" x2="270.80" y2="663.29" stroke="#eeeeee" stroke-width="0.7" />
<line x1="170.70" y1="660.93" x2="270.80" y2="660.93" stroke="#eeeeee" stroke-width="0.7" />
<line x1="170.70" y1="658.58" x2="270.80" y2="658.58" stroke="#eeeeee" stroke-width="0.7" />
<line x1="170.70" y1="656.23" x2="270.80" y2="656.23" stroke="#e3e3e3" stroke-width="0.7" />
<line x1="170.70" y1="653.87" x2="270.80" y2="653.87" stroke="#eeeeee" stroke-width="0.7" />
<line x1="170.70" y1="651.51" x2="270.80" y2="651.51" stroke="#eeeeee" stroke-width="0.7" />
<line x1="170.70" y1="649.16" x2="270.80" y2="649.16" stroke="#eeeeee" stroke-width="0.7" />
<line x1="170.70" y1="646.80" x2="270.80" y2="646.80" stroke="#eeeeee" stroke-width="0.7" />
<line x1="170.70" y1="644.45" x2="270.80" y2="644.45" stroke="#e3e3e3" stroke-width="0.7" />
<line x1="170.70" y1="642.09" x2="270.80" y2="642.09" stroke="#eeeeee" stroke-width="0.7" />
<line x1="170.70" y1="639.74" x2="270.80" y2="639.74" stroke="#eeeeee" stroke-width="0.7" />
<line x1="170.70" y1="637.38" x2="270.80" y2="637.38" stroke="#eeeeee" stroke-width="0.7" />
<line x1="170.70" y1="635.03" x2="270.80" y2="635.03" stroke="#eeeeee" stroke-width="0.7" />
<line x1="170.70" y1="632.67" x2="270.80" y2="632.67" stroke="#e3e3e3" stroke-width="0.7" />
<line x1="170.70" y1="630.32" x2="270.80" y2="630.32" stroke="#eeeeee" stroke-width="0.7" />
<line x1="170.70" y1="627.96" x2="270.80" y2="627.96" stroke="#eeeeee" stroke-width="0.7" />
<line x1="170.70" y1="625.61" x2="270.80" y2="625.61" stroke="#eeeeee" stroke-width="0.7" />
<line x1="170.70" y1="623.25" x2="270.80" y2="623.25" stroke="#eeeeee" stroke-width="0.7" />
<line x1="170.70" y1="620.90" x2="270.80" y2="620.90" stroke="#e3e3e3" stroke-width="0.7" />
<line x1="170.70" y1="618.54" x2="270.80" y2="618.54" stroke="#eeeeee" stroke-width="0.7" />
<line x1="170.70" y1="616.19" x2="270.80" y2="616.19" stroke="#eeeeee" stroke-width="0.7" />
<line x1="170.70" y1="613.83" x2="270.80" y2="613.83" stroke="#eeeeee" stroke-width="0.7" />
<line x1="170.70" y1="611.48" x2="270.80" y2="611.48" stroke="#eeeeee" stroke-width="0.7" />
<line x1="170.70" y1="609.12" x2="270.80" y2="609.12" stroke="#e3e3e3" stroke-width="0.7" />
<line x1="170.70" y1="606.77" x2="270.80" y2="606.77" stroke="#eeeeee" stroke-width="0.7" />
<line x1="170.70" y1="604.41" x2="270.80" y2="604.41" stroke="#eeeeee" stroke-width="0.7" />
<line x1="170.70" y1="602.06" x2="270.80" y2="602.06" stroke="#eeeeee" stroke-width="0.7" />
<line x1="170.70" y1="599.70" x2="270.80" y2="599.70" stroke="#eeeeee" stroke-width="0.7" />
<line x1="170.70" y1="597.35" x2="270.80" y2="597.35" stroke="#e3e3e3" stroke-width="0.7" />
<line x1="170.70" y1="594.99" x2="270.80" y2="594.99" stroke="#eeeeee" stroke-width="0.7" />
<line x1="170.70" y1="592.64" x2="270.80" y2="592.64" stroke="#eeeeee" stroke-width="0.7" />
<line x1="170.70" y1="590.28" x2="270.80" y2="590.28" stroke="#eeeeee" stroke-width="0.7" />
<line x1="170.70" y1="587.93" x2="270.80" y2="587.93" stroke="#eeeeee" stroke-width="0.7" />
<line x1="170.70" y1="585.57" x2="270.80" y2="585.57" stroke="#e3e3e3" stroke-width="0.7" />
<line x1="170.70" y1="583.22" x2="270.80" y2="583.22" stroke="#eeeeee" stroke-width="0.7" />
<line x1="170.70" y1="580.86" x2="270.80" y2="580.86" stroke="#eeeeee" stroke-width="0.7" />
<line x1="170.70" y1="578.51" x2="270.80" y2="578.51" stroke="#eeeeee" stroke-width="0.7" />
<line x1="170.70" y1="576.15" x2="270.80" y2="576.15" stroke="#eeeeee" stroke-width="0.7" />
<line x1="170.70" y1="573.80" x2="270.80" y2="573.80" stroke="#e3e3e3" stroke-width="0.7" />
<g clip-path="url(#ch)"><polyline points="176.14,738.65 189.07,611.83 214.95,601.12 266.70,604.06" fill="none" stroke="#3b8bd0" stroke-width="1.6" stroke-linejoin="round" stroke-linecap="round" stroke-dasharray="4.6 1.7"/>
<polygon points="175.05,735.79 177.23,735.79 177.23,737.56 179.00,737.56 179.00,739.74 177.23,739.74 177.23,741.51 175.05,741.51 175.05,739.74 173.28,739.74 173.28,737.56 175.05,737.56" fill="#3b8bd0"/>
<polygon points="187.98,608.97 190.17,608.97 190.17,610.74 191.94,610.74 191.94,612.93 190.17,612.93 190.17,614.69 187.98,614.69 187.98,612.93 186.21,612.93 186.21,610.74 187.98,610.74" fill="#3b8bd0"/>
<polygon points="213.86,598.26 216.04,598.26 216.04,600.03 217.81,600.03 217.81,602.21 216.04,602.21 216.04,603.98 213.86,603.98 213.86,602.21 212.09,602.21 212.09,600.03 213.86,600.03" fill="#3b8bd0"/>
<polygon points="265.61,601.20 267.79,601.20 267.79,602.97 269.56,602.97 269.56,605.15 267.79,605.15 267.79,606.92 265.61,606.92 265.61,605.15 263.84,605.15 263.84,602.97 265.61,602.97" fill="#3b8bd0"/></g>
<g clip-path="url(#ch)"><polyline points="176.14,662.47 189.07,622.55 214.95,603.47 266.70,602.65" fill="none" stroke="#3b8bd0" stroke-width="1.6" stroke-linejoin="round" stroke-linecap="round" />
<rect x="173.80" y="660.13" width="4.68" height="4.68" fill="#3b8bd0"/>
<rect x="186.73" y="620.21" width="4.68" height="4.68" fill="#3b8bd0"/>
<rect x="212.61" y="601.13" width="4.68" height="4.68" fill="#3b8bd0"/>
<rect x="264.36" y="600.31" width="4.68" height="4.68" fill="#3b8bd0"/></g>
<g clip-path="url(#ch)"><polyline points="176.14,651.28 189.07,602.06 214.95,585.57 266.70,581.22" fill="none" stroke="#ebb743" stroke-width="1.6" stroke-linejoin="round" stroke-linecap="round" stroke-dasharray="4.6 1.7"/>
<polygon points="176.14,654.27 179.13,649.20 173.15,649.20" fill="#ebb743"/>
<polygon points="189.07,605.05 192.06,599.98 186.08,599.98" fill="#ebb743"/>
<polygon points="214.95,588.56 217.94,583.49 211.96,583.49" fill="#ebb743"/>
<polygon points="266.70,584.21 269.69,579.14 263.71,579.14" fill="#ebb743"/></g>
<g clip-path="url(#ch)"><polyline points="176.14,631.73 189.07,595.94 214.95,583.57 266.70,579.10" fill="none" stroke="#ebb743" stroke-width="1.6" stroke-linejoin="round" stroke-linecap="round" />
<polygon points="176.14,628.74 179.13,633.81 173.15,633.81" fill="#ebb743"/>
<polygon points="189.07,592.95 192.06,598.02 186.08,598.02" fill="#ebb743"/>
<polygon points="214.95,580.58 217.94,585.65 211.96,585.65" fill="#ebb743"/>
<polygon points="266.70,576.11 269.69,581.18 263.71,581.18" fill="#ebb743"/></g>
<g clip-path="url(#ch)"><polyline points="176.14,623.25 189.07,599.71 214.95,588.28 266.70,577.10" fill="none" stroke="#5f8a3a" stroke-width="1.6" stroke-linejoin="round" stroke-linecap="round" />
<rect x="173.80" y="620.91" width="4.68" height="4.68" fill="#5f8a3a"/>
<rect x="186.73" y="597.37" width="4.68" height="4.68" fill="#5f8a3a"/>
<rect x="212.61" y="585.94" width="4.68" height="4.68" fill="#5f8a3a"/>
<rect x="264.36" y="574.76" width="4.68" height="4.68" fill="#5f8a3a"/></g>
<g clip-path="url(#ch)"><polyline points="176.14,665.64 189.07,622.55 214.95,602.06 266.70,596.76" fill="none" stroke="#5f8a3a" stroke-width="1.6" stroke-linejoin="round" stroke-linecap="round" stroke-dasharray="4.6 1.7"/>
<polygon points="176.14,662.39 178.87,665.64 176.14,668.89 173.41,665.64" fill="#5f8a3a"/>
<polygon points="189.07,619.30 191.80,622.55 189.07,625.80 186.34,622.55" fill="#5f8a3a"/>
<polygon points="214.95,598.81 217.68,602.06 214.95,605.31 212.22,602.06" fill="#5f8a3a"/>
<polygon points="266.70,593.51 269.43,596.76 266.70,600.01 263.97,596.76" fill="#5f8a3a"/></g>
<g clip-path="url(#ch)"><polyline points="176.14,646.81 189.07,616.19 214.95,585.22 266.70,585.22" fill="none" stroke="#e0707f" stroke-width="1.6" stroke-linejoin="round" stroke-linecap="round" />
<circle cx="176.14" cy="646.81" r="2.60" fill="#e0707f"/>
<circle cx="189.07" cy="616.19" r="2.60" fill="#e0707f"/>
<circle cx="214.95" cy="585.22" r="2.60" fill="#e0707f"/>
<circle cx="266.70" cy="585.22" r="2.60" fill="#e0707f"/></g>
<g clip-path="url(#ch)"><polyline points="176.14,660.46 189.07,620.90 214.95,597.00 266.70,585.93" fill="none" stroke="#e0707f" stroke-width="1.6" stroke-linejoin="round" stroke-linecap="round" stroke-dasharray="4.6 1.7"/>
<circle cx="176.14" cy="660.46" r="2.60" fill="#e0707f"/>
<circle cx="189.07" cy="620.90" r="2.60" fill="#e0707f"/>
<circle cx="214.95" cy="597.00" r="2.60" fill="#e0707f"/>
<circle cx="266.70" cy="585.93" r="2.60" fill="#e0707f"/></g>
<g clip-path="url(#ch)"><polyline points="176.14,620.90 189.07,587.69 214.95,578.86 266.70,576.04" fill="none" stroke="#9b4fa8" stroke-width="1.6" stroke-linejoin="round" stroke-linecap="round" />
<circle cx="176.14" cy="620.90" r="2.60" fill="#9b4fa8"/>
<circle cx="189.07" cy="587.69" r="2.60" fill="#9b4fa8"/>
<circle cx="214.95" cy="578.86" r="2.60" fill="#9b4fa8"/>
<circle cx="266.70" cy="576.04" r="2.60" fill="#9b4fa8"/></g>
<rect x="170.70" y="573.80" width="100.10" height="94.20" fill="none" stroke="#cfcfcf" stroke-width="0.8"/>
<line x1="170.70" y1="573.80" x2="170.70" y2="668.50" stroke="#222" stroke-width="1" />
<line x1="170.20" y1="668.00" x2="270.80" y2="668.00" stroke="#222" stroke-width="1" />
<line x1="183.90" y1="668.00" x2="183.90" y2="671.00" stroke="#222" stroke-width="0.8" />
<text x="183.90" y="678.10" font-size="7.92" text-anchor="middle" stroke="#000" stroke-width="0.18" textLength="11.45" lengthAdjust="spacingAndGlyphs">0.1</text>
<line x1="204.60" y1="668.00" x2="204.60" y2="671.00" stroke="#222" stroke-width="0.8" />
<text x="204.60" y="678.10" font-size="7.92" text-anchor="middle" stroke="#000" stroke-width="0.18" textLength="11.45" lengthAdjust="spacingAndGlyphs">0.2</text>
<line x1="225.30" y1="668.00" x2="225.30" y2="671.00" stroke="#222" stroke-width="0.8" />
<text x="225.30" y="678.10" font-size="7.92" text-anchor="middle" stroke="#000" stroke-width="0.18" textLength="11.45" lengthAdjust="spacingAndGlyphs">0.3</text>
<line x1="246.00" y1="668.00" x2="246.00" y2="671.00" stroke="#222" stroke-width="0.8" />
<text x="246.00" y="678.10" font-size="7.92" text-anchor="middle" stroke="#000" stroke-width="0.18" textLength="11.45" lengthAdjust="spacingAndGlyphs">0.4</text>
<line x1="266.70" y1="668.00" x2="266.70" y2="671.00" stroke="#222" stroke-width="0.8" />
<text x="266.70" y="678.10" font-size="7.92" text-anchor="middle" stroke="#000" stroke-width="0.18" textLength="11.45" lengthAdjust="spacingAndGlyphs">0.5</text>
<line x1="171.48" y1="668.00" x2="171.48" y2="669.70" stroke="#222" stroke-width="0.6" />
<line x1="175.62" y1="668.00" x2="175.62" y2="669.70" stroke="#222" stroke-width="0.6" />
<line x1="179.76" y1="668.00" x2="179.76" y2="669.70" stroke="#222" stroke-width="0.6" />
<line x1="188.04" y1="668.00" x2="188.04" y2="669.70" stroke="#222" stroke-width="0.6" />
<line x1="192.18" y1="668.00" x2="192.18" y2="669.70" stroke="#222" stroke-width="0.6" />
<line x1="196.32" y1="668.00" x2="196.32" y2="669.70" stroke="#222" stroke-width="0.6" />
<line x1="200.46" y1="668.00" x2="200.46" y2="669.70" stroke="#222" stroke-width="0.6" />
<line x1="208.74" y1="668.00" x2="208.74" y2="669.70" stroke="#222" stroke-width="0.6" />
<line x1="212.88" y1="668.00" x2="212.88" y2="669.70" stroke="#222" stroke-width="0.6" />
<line x1="217.02" y1="668.00" x2="217.02" y2="669.70" stroke="#222" stroke-width="0.6" />
<line x1="221.16" y1="668.00" x2="221.16" y2="669.70" stroke="#222" stroke-width="0.6" />
<line x1="229.44" y1="668.00" x2="229.44" y2="669.70" stroke="#222" stroke-width="0.6" />
<line x1="233.58" y1="668.00" x2="233.58" y2="669.70" stroke="#222" stroke-width="0.6" />
<line x1="237.72" y1="668.00" x2="237.72" y2="669.70" stroke="#222" stroke-width="0.6" />
<line x1="241.86" y1="668.00" x2="241.86" y2="669.70" stroke="#222" stroke-width="0.6" />
<line x1="250.14" y1="668.00" x2="250.14" y2="669.70" stroke="#222" stroke-width="0.6" />
<line x1="254.28" y1="668.00" x2="254.28" y2="669.70" stroke="#222" stroke-width="0.6" />
<line x1="258.42" y1="668.00" x2="258.42" y2="669.70" stroke="#222" stroke-width="0.6" />
<line x1="262.56" y1="668.00" x2="262.56" y2="669.70" stroke="#222" stroke-width="0.6" />
<line x1="167.70" y1="668.00" x2="170.70" y2="668.00" stroke="#222" stroke-width="0.8" />
<text x="167.60" y="670.60" font-size="7.92" text-anchor="end" stroke="#000" stroke-width="0.18" textLength="9.16" lengthAdjust="spacingAndGlyphs">81</text>
<line x1="169.00" y1="665.64" x2="170.70" y2="665.64" stroke="#222" stroke-width="0.6" />
<line x1="169.00" y1="663.29" x2="170.70" y2="663.29" stroke="#222" stroke-width="0.6" />
<line x1="169.00" y1="660.93" x2="170.70" y2="660.93" stroke="#222" stroke-width="0.6" />
<line x1="169.00" y1="658.58" x2="170.70" y2="658.58" stroke="#222" stroke-width="0.6" />
<line x1="167.70" y1="656.23" x2="170.70" y2="656.23" stroke="#222" stroke-width="0.8" />
<text x="167.60" y="658.83" font-size="7.92" text-anchor="end" stroke="#000" stroke-width="0.18" textLength="9.16" lengthAdjust="spacingAndGlyphs">82</text>
<line x1="169.00" y1="653.87" x2="170.70" y2="653.87" stroke="#222" stroke-width="0.6" />
<line x1="169.00" y1="651.51" x2="170.70" y2="651.51" stroke="#222" stroke-width="0.6" />
<line x1="169.00" y1="649.16" x2="170.70" y2="649.16" stroke="#222" stroke-width="0.6" />
<line x1="169.00" y1="646.80" x2="170.70" y2="646.80" stroke="#222" stroke-width="0.6" />
<line x1="167.70" y1="644.45" x2="170.70" y2="644.45" stroke="#222" stroke-width="0.8" />
<text x="167.60" y="647.05" font-size="7.92" text-anchor="end" stroke="#000" stroke-width="0.18" textLength="9.16" lengthAdjust="spacingAndGlyphs">83</text>
<line x1="169.00" y1="642.09" x2="170.70" y2="642.09" stroke="#222" stroke-width="0.6" />
<line x1="169.00" y1="639.74" x2="170.70" y2="639.74" stroke="#222" stroke-width="0.6" />
<line x1="169.00" y1="637.38" x2="170.70" y2="637.38" stroke="#222" stroke-width="0.6" />
<line x1="169.00" y1="635.03" x2="170.70" y2="635.03" stroke="#222" stroke-width="0.6" />
<line x1="167.70" y1="632.67" x2="170.70" y2="632.67" stroke="#222" stroke-width="0.8" />
<text x="167.60" y="635.27" font-size="7.92" text-anchor="end" stroke="#000" stroke-width="0.18" textLength="9.16" lengthAdjust="spacingAndGlyphs">84</text>
<line x1="169.00" y1="630.32" x2="170.70" y2="630.32" stroke="#222" stroke-width="0.6" />
<line x1="169.00" y1="627.96" x2="170.70" y2="627.96" stroke="#222" stroke-width="0.6" />
<line x1="169.00" y1="625.61" x2="170.70" y2="625.61" stroke="#222" stroke-width="0.6" />
<line x1="169.00" y1="623.25" x2="170.70" y2="623.25" stroke="#222" stroke-width="0.6" />
<line x1="167.70" y1="620.90" x2="170.70" y2="620.90" stroke="#222" stroke-width="0.8" />
<text x="167.60" y="623.50" font-size="7.92" text-anchor="end" stroke="#000" stroke-width="0.18" textLength="9.16" lengthAdjust="spacingAndGlyphs">85</text>
<line x1="169.00" y1="618.54" x2="170.70" y2="618.54" stroke="#222" stroke-width="0.6" />
<line x1="169.00" y1="616.19" x2="170.70" y2="616.19" stroke="#222" stroke-width="0.6" />
<line x1="169.00" y1="613.83" x2="170.70" y2="613.83" stroke="#222" stroke-width="0.6" />
<line x1="169.00" y1="611.48" x2="170.70" y2="611.48" stroke="#222" stroke-width="0.6" />
<line x1="167.70" y1="609.12" x2="170.70" y2="609.12" stroke="#222" stroke-width="0.8" />
<text x="167.60" y="611.73" font-size="7.92" text-anchor="end" stroke="#000" stroke-width="0.18" textLength="9.16" lengthAdjust="spacingAndGlyphs">86</text>
<line x1="169.00" y1="606.77" x2="170.70" y2="606.77" stroke="#222" stroke-width="0.6" />
<line x1="169.00" y1="604.41" x2="170.70" y2="604.41" stroke="#222" stroke-width="0.6" />
<line x1="169.00" y1="602.06" x2="170.70" y2="602.06" stroke="#222" stroke-width="0.6" />
<line x1="169.00" y1="599.70" x2="170.70" y2="599.70" stroke="#222" stroke-width="0.6" />
<line x1="167.70" y1="597.35" x2="170.70" y2="597.35" stroke="#222" stroke-width="0.8" />
<text x="167.60" y="599.95" font-size="7.92" text-anchor="end" stroke="#000" stroke-width="0.18" textLength="9.16" lengthAdjust="spacingAndGlyphs">87</text>
<line x1="169.00" y1="594.99" x2="170.70" y2="594.99" stroke="#222" stroke-width="0.6" />
<line x1="169.00" y1="592.64" x2="170.70" y2="592.64" stroke="#222" stroke-width="0.6" />
<line x1="169.00" y1="590.28" x2="170.70" y2="590.28" stroke="#222" stroke-width="0.6" />
<line x1="169.00" y1="587.93" x2="170.70" y2="587.93" stroke="#222" stroke-width="0.6" />
<line x1="167.70" y1="585.57" x2="170.70" y2="585.57" stroke="#222" stroke-width="0.8" />
<text x="167.60" y="588.17" font-size="7.92" text-anchor="end" stroke="#000" stroke-width="0.18" textLength="9.16" lengthAdjust="spacingAndGlyphs">88</text>
<line x1="169.00" y1="583.22" x2="170.70" y2="583.22" stroke="#222" stroke-width="0.6" />
<line x1="169.00" y1="580.86" x2="170.70" y2="580.86" stroke="#222" stroke-width="0.6" />
<line x1="169.00" y1="578.51" x2="170.70" y2="578.51" stroke="#222" stroke-width="0.6" />
<line x1="169.00" y1="576.15" x2="170.70" y2="576.15" stroke="#222" stroke-width="0.6" />
<line x1="167.70" y1="573.80" x2="170.70" y2="573.80" stroke="#222" stroke-width="0.8" />
<text x="167.60" y="576.40" font-size="7.92" text-anchor="end" stroke="#000" stroke-width="0.18" textLength="9.16" lengthAdjust="spacingAndGlyphs">89</text>
<g transform="translate(155.20 626.00) rotate(-90)"><text x="-10.85" y="0" font-size="8.60" stroke="#000" stroke-width="0.18" textLength="15.52" lengthAdjust="spacingAndGlyphs">DSC</text><path d="M7.76,0.44 V-4.19" stroke="#000" stroke-width="0.74"/><path d="M5.99,-3.25 L7.76,-5.61 L9.53,-3.25 Z" fill="#000"/></g>
<text x="214.40" y="689.70" font-size="7.37" text-anchor="middle" stroke="#000" stroke-width="0.18" textLength="45.21" lengthAdjust="spacingAndGlyphs">Bits Per Voxel</text>
<line x1="170.70" y1="694.30" x2="270.80" y2="694.30" stroke="#222" stroke-width="0.9" />
<line x1="176.14" y1="694.30" x2="176.14" y2="696.80" stroke="#222" stroke-width="0.8" />
<text x="176.14" y="703.60" font-size="7.37" text-anchor="middle" stroke="#000" stroke-width="0.18" textLength="12.79" lengthAdjust="spacingAndGlyphs">256</text>
<line x1="189.07" y1="694.30" x2="189.07" y2="696.80" stroke="#222" stroke-width="0.8" />
<text x="189.07" y="703.60" font-size="7.37" text-anchor="middle" stroke="#000" stroke-width="0.18" textLength="12.79" lengthAdjust="spacingAndGlyphs">128</text>
<line x1="214.95" y1="694.30" x2="214.95" y2="696.80" stroke="#222" stroke-width="0.8" />
<text x="214.95" y="703.60" font-size="7.37" text-anchor="middle" stroke="#000" stroke-width="0.18" textLength="8.53" lengthAdjust="spacingAndGlyphs">64</text>
<line x1="266.70" y1="694.30" x2="266.70" y2="696.80" stroke="#222" stroke-width="0.8" />
<text x="266.70" y="703.60" font-size="7.37" text-anchor="middle" stroke="#000" stroke-width="0.18" textLength="8.53" lengthAdjust="spacingAndGlyphs">32</text>
<text x="214.40" y="712.80" font-size="7.26" text-anchor="middle" stroke="#000" stroke-width="0.18" textLength="61.87" lengthAdjust="spacingAndGlyphs">Compression Ratio</text>
<clipPath id="chd"><rect x="298.6" y="573.3" width="99.59999999999997" height="94.70000000000005"/></clipPath>
<line x1="299.62" y1="573.80" x2="299.62" y2="668.00" stroke="#eeeeee" stroke-width="0.7" />
<line x1="303.72" y1="573.80" x2="303.72" y2="668.00" stroke="#eeeeee" stroke-width="0.7" />
<line x1="307.83" y1="573.80" x2="307.83" y2="668.00" stroke="#eeeeee" stroke-width="0.7" />
<line x1="311.94" y1="573.80" x2="311.94" y2="668.00" stroke="#e3e3e3" stroke-width="0.7" />
<line x1="316.05" y1="573.80" x2="316.05" y2="668.00" stroke="#eeeeee" stroke-width="0.7" />
<line x1="320.16" y1="573.80" x2="320.16" y2="668.00" stroke="#eeeeee" stroke-width="0.7" />
<line x1="324.26" y1="573.80" x2="324.26" y2="668.00" stroke="#eeeeee" stroke-width="0.7" />
<line x1="328.37" y1="573.80" x2="328.37" y2="668.00" stroke="#eeeeee" stroke-width="0.7" />
<line x1="332.48" y1="573.80" x2="332.48" y2="668.00" stroke="#e3e3e3" stroke-width="0.7" />
<line x1="336.59" y1="573.80" x2="336.59" y2="668.00" stroke="#eeeeee" stroke-width="0.7" />
<line x1="340.70" y1="573.80" x2="340.70" y2="668.00" stroke="#eeeeee" stroke-width="0.7" />
<line x1="344.80" y1="573.80" x2="344.80" y2="668.00" stroke="#eeeeee" stroke-width="0.7" />
<line x1="348.91" y1="573.80" x2="348.91" y2="668.00" stroke="#eeeeee" stroke-width="0.7" />
<line x1="353.02" y1="573.80" x2="353.02" y2="668.00" stroke="#e3e3e3" stroke-width="0.7" />
<line x1="357.13" y1="573.80" x2="357.13" y2="668.00" stroke="#eeeeee" stroke-width="0.7" />
<line x1="361.24" y1="573.80" x2="361.24" y2="668.00" stroke="#eeeeee" stroke-width="0.7" />
<line x1="365.34" y1="573.80" x2="365.34" y2="668.00" stroke="#eeeeee" stroke-width="0.7" />
<line x1="369.45" y1="573.80" x2="369.45" y2="668.00" stroke="#eeeeee" stroke-width="0.7" />
<line x1="373.56" y1="573.80" x2="373.56" y2="668.00" stroke="#e3e3e3" stroke-width="0.7" />
<line x1="377.67" y1="573.80" x2="377.67" y2="668.00" stroke="#eeeeee" stroke-width="0.7" />
<line x1="381.78" y1="573.80" x2="381.78" y2="668.00" stroke="#eeeeee" stroke-width="0.7" />
<line x1="385.88" y1="573.80" x2="385.88" y2="668.00" stroke="#eeeeee" stroke-width="0.7" />
<line x1="389.99" y1="573.80" x2="389.99" y2="668.00" stroke="#eeeeee" stroke-width="0.7" />
<line x1="394.10" y1="573.80" x2="394.10" y2="668.00" stroke="#e3e3e3" stroke-width="0.7" />
<line x1="298.60" y1="668.00" x2="397.70" y2="668.00" stroke="#e3e3e3" stroke-width="0.7" />
<line x1="298.60" y1="665.06" x2="397.70" y2="665.06" stroke="#eeeeee" stroke-width="0.7" />
<line x1="298.60" y1="662.11" x2="397.70" y2="662.11" stroke="#eeeeee" stroke-width="0.7" />
<line x1="298.60" y1="659.17" x2="397.70" y2="659.17" stroke="#eeeeee" stroke-width="0.7" />
<line x1="298.60" y1="656.23" x2="397.70" y2="656.23" stroke="#e3e3e3" stroke-width="0.7" />
<line x1="298.60" y1="653.28" x2="397.70" y2="653.28" stroke="#eeeeee" stroke-width="0.7" />
<line x1="298.60" y1="650.34" x2="397.70" y2="650.34" stroke="#eeeeee" stroke-width="0.7" />
<line x1="298.60" y1="647.39" x2="397.70" y2="647.39" stroke="#eeeeee" stroke-width="0.7" />
<line x1="298.60" y1="644.45" x2="397.70" y2="644.45" stroke="#e3e3e3" stroke-width="0.7" />
<line x1="298.60" y1="641.51" x2="397.70" y2="641.51" stroke="#eeeeee" stroke-width="0.7" />
<line x1="298.60" y1="638.56" x2="397.70" y2="638.56" stroke="#eeeeee" stroke-width="0.7" />
<line x1="298.60" y1="635.62" x2="397.70" y2="635.62" stroke="#eeeeee" stroke-width="0.7" />
<line x1="298.60" y1="632.67" x2="397.70" y2="632.67" stroke="#e3e3e3" stroke-width="0.7" />
<line x1="298.60" y1="629.73" x2="397.70" y2="629.73" stroke="#eeeeee" stroke-width="0.7" />
<line x1="298.60" y1="626.79" x2="397.70" y2="626.79" stroke="#eeeeee" stroke-width="0.7" />
<line x1="298.60" y1="623.84" x2="397.70" y2="623.84" stroke="#eeeeee" stroke-width="0.7" />
<line x1="298.60" y1="620.90" x2="397.70" y2="620.90" stroke="#e3e3e3" stroke-width="0.7" />
<line x1="298.60" y1="617.96" x2="397.70" y2="617.96" stroke="#eeeeee" stroke-width="0.7" />
<line x1="298.60" y1="615.01" x2="397.70" y2="615.01" stroke="#eeeeee" stroke-width="0.7" />
<line x1="298.60" y1="612.07" x2="397.70" y2="612.07" stroke="#eeeeee" stroke-width="0.7" />
<line x1="298.60" y1="609.12" x2="397.70" y2="609.12" stroke="#e3e3e3" stroke-width="0.7" />
<line x1="298.60" y1="606.18" x2="397.70" y2="606.18" stroke="#eeeeee" stroke-width="0.7" />
<line x1="298.60" y1="603.24" x2="397.70" y2="603.24" stroke="#eeeeee" stroke-width="0.7" />
<line x1="298.60" y1="600.29" x2="397.70" y2="600.29" stroke="#eeeeee" stroke-width="0.7" />
<line x1="298.60" y1="597.35" x2="397.70" y2="597.35" stroke="#e3e3e3" stroke-width="0.7" />
<line x1="298.60" y1="594.41" x2="397.70" y2="594.41" stroke="#eeeeee" stroke-width="0.7" />
<line x1="298.60" y1="591.46" x2="397.70" y2="591.46" stroke="#eeeeee" stroke-width="0.7" />
<line x1="298.60" y1="588.52" x2="397.70" y2="588.52" stroke="#eeeeee" stroke-width="0.7" />
<line x1="298.60" y1="585.57" x2="397.70" y2="585.57" stroke="#e3e3e3" stroke-width="0.7" />
<line x1="298.60" y1="582.63" x2="397.70" y2="582.63" stroke="#eeeeee" stroke-width="0.7" />
<line x1="298.60" y1="579.69" x2="397.70" y2="579.69" stroke="#eeeeee" stroke-width="0.7" />
<line x1="298.60" y1="576.74" x2="397.70" y2="576.74" stroke="#eeeeee" stroke-width="0.7" />
<line x1="298.60" y1="573.80" x2="397.70" y2="573.80" stroke="#e3e3e3" stroke-width="0.7" />
<g clip-path="url(#chd)"><polyline points="304.24,467.82 317.07,625.61 342.75,638.56 394.10,642.62" fill="none" stroke="#3b8bd0" stroke-width="1.6" stroke-linejoin="round" stroke-linecap="round" stroke-dasharray="4.6 1.7"/>
<polygon points="303.15,464.96 305.33,464.96 305.33,466.73 307.10,466.73 307.10,468.92 305.33,468.92 305.33,470.68 303.15,470.68 303.15,468.92 301.38,468.92 301.38,466.73 303.15,466.73" fill="#3b8bd0"/>
<polygon points="315.98,622.75 318.17,622.75 318.17,624.52 319.94,624.52 319.94,626.70 318.17,626.70 318.17,628.47 315.98,628.47 315.98,626.70 314.21,626.70 314.21,624.52 315.98,624.52" fill="#3b8bd0"/>
<polygon points="341.66,635.70 343.84,635.70 343.84,637.47 345.61,637.47 345.61,639.65 343.84,639.65 343.84,641.42 341.66,641.42 341.66,639.65 339.89,639.65 339.89,637.47 341.66,637.47" fill="#3b8bd0"/>
<polygon points="393.01,639.76 395.19,639.76 395.19,641.53 396.96,641.53 396.96,643.72 395.19,643.72 395.19,645.48 393.01,645.48 393.01,643.72 391.24,643.72 391.24,641.53 393.01,641.53" fill="#3b8bd0"/></g>
<g clip-path="url(#chd)"><polyline points="304.24,584.04 317.07,616.37 342.75,636.44 394.10,640.92" fill="none" stroke="#3b8bd0" stroke-width="1.6" stroke-linejoin="round" stroke-linecap="round" />
<rect x="301.90" y="581.70" width="4.68" height="4.68" fill="#3b8bd0"/>
<rect x="314.74" y="614.03" width="4.68" height="4.68" fill="#3b8bd0"/>
<rect x="340.41" y="634.10" width="4.68" height="4.68" fill="#3b8bd0"/>
<rect x="391.76" y="638.58" width="4.68" height="4.68" fill="#3b8bd0"/></g>
<g clip-path="url(#chd)"><polyline points="304.24,597.94 317.07,629.73 342.75,652.87 394.10,657.99" fill="none" stroke="#ebb743" stroke-width="1.6" stroke-linejoin="round" stroke-linecap="round" stroke-dasharray="4.6 1.7"/>
<polygon points="304.24,600.93 307.23,595.86 301.25,595.86" fill="#ebb743"/>
<polygon points="317.07,632.72 320.06,627.65 314.08,627.65" fill="#ebb743"/>
<polygon points="342.75,655.86 345.74,650.79 339.76,650.79" fill="#ebb743"/>
<polygon points="394.10,660.98 397.09,655.91 391.11,655.91" fill="#ebb743"/></g>
<g clip-path="url(#chd)"><polyline points="304.24,615.37 317.07,643.04 342.75,655.28 394.10,656.40" fill="none" stroke="#ebb743" stroke-width="1.6" stroke-linejoin="round" stroke-linecap="round" />
<polygon points="304.24,612.38 307.23,617.45 301.25,617.45" fill="#ebb743"/>
<polygon points="317.07,640.05 320.06,645.12 314.08,645.12" fill="#ebb743"/>
<polygon points="342.75,652.29 345.74,657.36 339.76,657.36" fill="#ebb743"/>
<polygon points="394.10,653.41 397.09,658.48 391.11,658.48" fill="#ebb743"/></g>
<g clip-path="url(#chd)"><polyline points="304.24,617.01 317.07,638.92 342.75,650.16 394.10,655.28" fill="none" stroke="#5f8a3a" stroke-width="1.6" stroke-linejoin="round" stroke-linecap="round" />
<rect x="301.90" y="614.67" width="4.68" height="4.68" fill="#5f8a3a"/>
<rect x="314.74" y="636.58" width="4.68" height="4.68" fill="#5f8a3a"/>
<rect x="340.41" y="647.82" width="4.68" height="4.68" fill="#5f8a3a"/>
<rect x="391.76" y="652.94" width="4.68" height="4.68" fill="#5f8a3a"/></g>
<g clip-path="url(#chd)"><polyline points="304.24,585.22 317.07,618.54 342.75,635.85 394.10,644.45" fill="none" stroke="#5f8a3a" stroke-width="1.6" stroke-linejoin="round" stroke-linecap="round" stroke-dasharray="4.6 1.7"/>
<polygon points="304.24,581.97 306.97,585.22 304.24,588.47 301.51,585.22" fill="#5f8a3a"/>
<polygon points="317.07,615.29 319.81,618.54 317.07,621.79 314.34,618.54" fill="#5f8a3a"/>
<polygon points="342.75,632.60 345.48,635.85 342.75,639.10 340.02,635.85" fill="#5f8a3a"/>
<polygon points="394.10,641.20 396.83,644.45 394.10,647.70 391.37,644.45" fill="#5f8a3a"/></g>
<g clip-path="url(#chd)"><polyline points="304.24,602.47 317.07,627.20 342.75,654.28 394.10,650.81" fill="none" stroke="#e0707f" stroke-width="1.6" stroke-linejoin="round" stroke-linecap="round" />
<circle cx="304.24" cy="602.47" r="2.60" fill="#e0707f"/>
<circle cx="317.07" cy="627.20" r="2.60" fill="#e0707f"/>
<circle cx="342.75" cy="654.28" r="2.60" fill="#e0707f"/>
<circle cx="394.10" cy="650.81" r="2.60" fill="#e0707f"/></g>
<g clip-path="url(#chd)"><polyline points="304.24,587.69 317.07,620.90 342.75,647.57 394.10,653.69" fill="none" stroke="#e0707f" stroke-width="1.6" stroke-linejoin="round" stroke-linecap="round" stroke-dasharray="4.6 1.7"/>
<circle cx="304.24" cy="587.69" r="2.60" fill="#e0707f"/>
<circle cx="317.07" cy="620.90" r="2.60" fill="#e0707f"/>
<circle cx="342.75" cy="647.57" r="2.60" fill="#e0707f"/>
<circle cx="394.10" cy="653.69" r="2.60" fill="#e0707f"/></g>
<g clip-path="url(#chd)"><polyline points="304.24,621.49 317.07,649.57 342.75,657.76 394.10,660.46" fill="none" stroke="#9b4fa8" stroke-width="1.6" stroke-linejoin="round" stroke-linecap="round" />
<circle cx="304.24" cy="621.49" r="2.60" fill="#9b4fa8"/>
<circle cx="317.07" cy="649.57" r="2.60" fill="#9b4fa8"/>
<circle cx="342.75" cy="657.76" r="2.60" fill="#9b4fa8"/>
<circle cx="394.10" cy="660.46" r="2.60" fill="#9b4fa8"/></g>
<rect x="298.60" y="573.80" width="99.10" height="94.20" fill="none" stroke="#cfcfcf" stroke-width="0.8"/>
<line x1="298.60" y1="573.80" x2="298.60" y2="668.50" stroke="#222" stroke-width="1" />
<line x1="298.10" y1="668.00" x2="397.70" y2="668.00" stroke="#222" stroke-width="1" />
<line x1="311.94" y1="668.00" x2="311.94" y2="671.00" stroke="#222" stroke-width="0.8" />
<text x="311.94" y="678.10" font-size="7.92" text-anchor="middle" stroke="#000" stroke-width="0.18" textLength="11.45" lengthAdjust="spacingAndGlyphs">0.1</text>
<line x1="332.48" y1="668.00" x2="332.48" y2="671.00" stroke="#222" stroke-width="0.8" />
<text x="332.48" y="678.10" font-size="7.92" text-anchor="middle" stroke="#000" stroke-width="0.18" textLength="11.45" lengthAdjust="spacingAndGlyphs">0.2</text>
<line x1="353.02" y1="668.00" x2="353.02" y2="671.00" stroke="#222" stroke-width="0.8" />
<text x="353.02" y="678.10" font-size="7.92" text-anchor="middle" stroke="#000" stroke-width="0.18" textLength="11.45" lengthAdjust="spacingAndGlyphs">0.3</text>
<line x1="373.56" y1="668.00" x2="373.56" y2="671.00" stroke="#222" stroke-width="0.8" />
<text x="373.56" y="678.10" font-size="7.92" text-anchor="middle" stroke="#000" stroke-width="0.18" textLength="11.45" lengthAdjust="spacingAndGlyphs">0.4</text>
<line x1="394.10" y1="668.00" x2="394.10" y2="671.00" stroke="#222" stroke-width="0.8" />
<text x="394.10" y="678.10" font-size="7.92" text-anchor="middle" stroke="#000" stroke-width="0.18" textLength="11.45" lengthAdjust="spacingAndGlyphs">0.5</text>
<line x1="299.62" y1="668.00" x2="299.62" y2="669.70" stroke="#222" stroke-width="0.6" />
<line x1="303.72" y1="668.00" x2="303.72" y2="669.70" stroke="#222" stroke-width="0.6" />
<line x1="307.83" y1="668.00" x2="307.83" y2="669.70" stroke="#222" stroke-width="0.6" />
<line x1="316.05" y1="668.00" x2="316.05" y2="669.70" stroke="#222" stroke-width="0.6" />
<line x1="320.16" y1="668.00" x2="320.16" y2="669.70" stroke="#222" stroke-width="0.6" />
<line x1="324.26" y1="668.00" x2="324.26" y2="669.70" stroke="#222" stroke-width="0.6" />
<line x1="328.37" y1="668.00" x2="328.37" y2="669.70" stroke="#222" stroke-width="0.6" />
<line x1="336.59" y1="668.00" x2="336.59" y2="669.70" stroke="#222" stroke-width="0.6" />
<line x1="340.70" y1="668.00" x2="340.70" y2="669.70" stroke="#222" stroke-width="0.6" />
<line x1="344.80" y1="668.00" x2="344.80" y2="669.70" stroke="#222" stroke-width="0.6" />
<line x1="348.91" y1="668.00" x2="348.91" y2="669.70" stroke="#222" stroke-width="0.6" />
<line x1="357.13" y1="668.00" x2="357.13" y2="669.70" stroke="#222" stroke-width="0.6" />
<line x1="361.24" y1="668.00" x2="361.24" y2="669.70" stroke="#222" stroke-width="0.6" />
<line x1="365.34" y1="668.00" x2="365.34" y2="669.70" stroke="#222" stroke-width="0.6" />
<line x1="369.45" y1="668.00" x2="369.45" y2="669.70" stroke="#222" stroke-width="0.6" />
<line x1="377.67" y1="668.00" x2="377.67" y2="669.70" stroke="#222" stroke-width="0.6" />
<line x1="381.78" y1="668.00" x2="381.78" y2="669.70" stroke="#222" stroke-width="0.6" />
<line x1="385.88" y1="668.00" x2="385.88" y2="669.70" stroke="#222" stroke-width="0.6" />
<line x1="389.99" y1="668.00" x2="389.99" y2="669.70" stroke="#222" stroke-width="0.6" />
<line x1="295.60" y1="668.00" x2="298.60" y2="668.00" stroke="#222" stroke-width="0.8" />
<text x="294.60" y="670.60" font-size="7.92" text-anchor="end" stroke="#000" stroke-width="0.18" textLength="4.58" lengthAdjust="spacingAndGlyphs">6</text>
<line x1="296.90" y1="665.06" x2="298.60" y2="665.06" stroke="#222" stroke-width="0.6" />
<line x1="296.90" y1="662.11" x2="298.60" y2="662.11" stroke="#222" stroke-width="0.6" />
<line x1="296.90" y1="659.17" x2="298.60" y2="659.17" stroke="#222" stroke-width="0.6" />
<line x1="295.60" y1="656.23" x2="298.60" y2="656.23" stroke="#222" stroke-width="0.8" />
<text x="294.60" y="658.83" font-size="7.92" text-anchor="end" stroke="#000" stroke-width="0.18" textLength="4.58" lengthAdjust="spacingAndGlyphs">8</text>
<line x1="296.90" y1="653.28" x2="298.60" y2="653.28" stroke="#222" stroke-width="0.6" />
<line x1="296.90" y1="650.34" x2="298.60" y2="650.34" stroke="#222" stroke-width="0.6" />
<line x1="296.90" y1="647.39" x2="298.60" y2="647.39" stroke="#222" stroke-width="0.6" />
<line x1="295.60" y1="644.45" x2="298.60" y2="644.45" stroke="#222" stroke-width="0.8" />
<text x="294.60" y="647.05" font-size="7.92" text-anchor="end" stroke="#000" stroke-width="0.18" textLength="9.16" lengthAdjust="spacingAndGlyphs">10</text>
<line x1="296.90" y1="641.51" x2="298.60" y2="641.51" stroke="#222" stroke-width="0.6" />
<line x1="296.90" y1="638.56" x2="298.60" y2="638.56" stroke="#222" stroke-width="0.6" />
<line x1="296.90" y1="635.62" x2="298.60" y2="635.62" stroke="#222" stroke-width="0.6" />
<line x1="295.60" y1="632.67" x2="298.60" y2="632.67" stroke="#222" stroke-width="0.8" />
<text x="294.60" y="635.27" font-size="7.92" text-anchor="end" stroke="#000" stroke-width="0.18" textLength="9.16" lengthAdjust="spacingAndGlyphs">12</text>
<line x1="296.90" y1="629.73" x2="298.60" y2="629.73" stroke="#222" stroke-width="0.6" />
<line x1="296.90" y1="626.79" x2="298.60" y2="626.79" stroke="#222" stroke-width="0.6" />
<line x1="296.90" y1="623.84" x2="298.60" y2="623.84" stroke="#222" stroke-width="0.6" />
<line x1="295.60" y1="620.90" x2="298.60" y2="620.90" stroke="#222" stroke-width="0.8" />
<text x="294.60" y="623.50" font-size="7.92" text-anchor="end" stroke="#000" stroke-width="0.18" textLength="9.16" lengthAdjust="spacingAndGlyphs">14</text>
<line x1="296.90" y1="617.96" x2="298.60" y2="617.96" stroke="#222" stroke-width="0.6" />
<line x1="296.90" y1="615.01" x2="298.60" y2="615.01" stroke="#222" stroke-width="0.6" />
<line x1="296.90" y1="612.07" x2="298.60" y2="612.07" stroke="#222" stroke-width="0.6" />
<line x1="295.60" y1="609.12" x2="298.60" y2="609.12" stroke="#222" stroke-width="0.8" />
<text x="294.60" y="611.73" font-size="7.92" text-anchor="end" stroke="#000" stroke-width="0.18" textLength="9.16" lengthAdjust="spacingAndGlyphs">16</text>
<line x1="296.90" y1="606.18" x2="298.60" y2="606.18" stroke="#222" stroke-width="0.6" />
<line x1="296.90" y1="603.24" x2="298.60" y2="603.24" stroke="#222" stroke-width="0.6" />
<line x1="296.90" y1="600.29" x2="298.60" y2="600.29" stroke="#222" stroke-width="0.6" />
<line x1="295.60" y1="597.35" x2="298.60" y2="597.35" stroke="#222" stroke-width="0.8" />
<text x="294.60" y="599.95" font-size="7.92" text-anchor="end" stroke="#000" stroke-width="0.18" textLength="9.16" lengthAdjust="spacingAndGlyphs">18</text>
<line x1="296.90" y1="594.41" x2="298.60" y2="594.41" stroke="#222" stroke-width="0.6" />
<line x1="296.90" y1="591.46" x2="298.60" y2="591.46" stroke="#222" stroke-width="0.6" />
<line x1="296.90" y1="588.52" x2="298.60" y2="588.52" stroke="#222" stroke-width="0.6" />
<line x1="295.60" y1="585.57" x2="298.60" y2="585.57" stroke="#222" stroke-width="0.8" />
<text x="294.60" y="588.17" font-size="7.92" text-anchor="end" stroke="#000" stroke-width="0.18" textLength="9.16" lengthAdjust="spacingAndGlyphs">20</text>
<line x1="296.90" y1="582.63" x2="298.60" y2="582.63" stroke="#222" stroke-width="0.6" />
<line x1="296.90" y1="579.69" x2="298.60" y2="579.69" stroke="#222" stroke-width="0.6" />
<line x1="296.90" y1="576.74" x2="298.60" y2="576.74" stroke="#222" stroke-width="0.6" />
<line x1="295.60" y1="573.80" x2="298.60" y2="573.80" stroke="#222" stroke-width="0.8" />
<text x="294.60" y="576.40" font-size="7.92" text-anchor="end" stroke="#000" stroke-width="0.18" textLength="9.16" lengthAdjust="spacingAndGlyphs">22</text>
<g transform="translate(281.60 622.90) rotate(-90)"><text x="-14.65" y="0" font-size="8.60" stroke="#000" stroke-width="0.18" textLength="22.54" lengthAdjust="spacingAndGlyphs">HD95</text><path d="M11.27,-6.13 V-1.06" stroke="#000" stroke-width="0.81"/><path d="M9.33,-2.10 L11.27,0.48 L13.21,-2.10 Z" fill="#000"/></g>
<text x="341.60" y="689.70" font-size="7.37" text-anchor="middle" stroke="#000" stroke-width="0.18" textLength="45.21" lengthAdjust="spacingAndGlyphs">Bits Per Voxel</text>
<line x1="298.60" y1="694.30" x2="397.70" y2="694.30" stroke="#222" stroke-width="0.9" />
<line x1="304.24" y1="694.30" x2="304.24" y2="696.80" stroke="#222" stroke-width="0.8" />
<text x="304.24" y="703.60" font-size="7.37" text-anchor="middle" stroke="#000" stroke-width="0.18" textLength="12.79" lengthAdjust="spacingAndGlyphs">256</text>
<line x1="317.07" y1="694.30" x2="317.07" y2="696.80" stroke="#222" stroke-width="0.8" />
<text x="317.07" y="703.60" font-size="7.37" text-anchor="middle" stroke="#000" stroke-width="0.18" textLength="12.79" lengthAdjust="spacingAndGlyphs">128</text>
<line x1="342.75" y1="694.30" x2="342.75" y2="696.80" stroke="#222" stroke-width="0.8" />
<text x="342.75" y="703.60" font-size="7.37" text-anchor="middle" stroke="#000" stroke-width="0.18" textLength="8.53" lengthAdjust="spacingAndGlyphs">64</text>
<line x1="394.10" y1="694.30" x2="394.10" y2="696.80" stroke="#222" stroke-width="0.8" />
<text x="394.10" y="703.60" font-size="7.37" text-anchor="middle" stroke="#000" stroke-width="0.18" textLength="8.53" lengthAdjust="spacingAndGlyphs">32</text>
<text x="341.60" y="712.80" font-size="7.26" text-anchor="middle" stroke="#000" stroke-width="0.18" textLength="61.87" lengthAdjust="spacingAndGlyphs">Compression Ratio</text>
<text x="405.80" y="567.20" font-size="15.40" font-weight="bold" stroke="#000" stroke-width="0.18" textLength="5.00" lengthAdjust="spacingAndGlyphs">i</text>
<clipPath id="cii"><rect x="451.9" y="573.2" width="100.0" height="95.09999999999991"/></clipPath>
<line x1="455.96" y1="573.70" x2="455.96" y2="668.30" stroke="#eeeeee" stroke-width="0.7" />
<line x1="460.08" y1="573.70" x2="460.08" y2="668.30" stroke="#eeeeee" stroke-width="0.7" />
<line x1="464.20" y1="573.70" x2="464.20" y2="668.30" stroke="#e3e3e3" stroke-width="0.7" />
<line x1="468.32" y1="573.70" x2="468.32" y2="668.30" stroke="#eeeeee" stroke-width="0.7" />
<line x1="472.44" y1="573.70" x2="472.44" y2="668.30" stroke="#eeeeee" stroke-width="0.7" />
<line x1="476.56" y1="573.70" x2="476.56" y2="668.30" stroke="#eeeeee" stroke-width="0.7" />
<line x1="480.68" y1="573.70" x2="480.68" y2="668.30" stroke="#eeeeee" stroke-width="0.7" />
<line x1="484.80" y1="573.70" x2="484.80" y2="668.30" stroke="#e3e3e3" stroke-width="0.7" />
<line x1="488.92" y1="573.70" x2="488.92" y2="668.30" stroke="#eeeeee" stroke-width="0.7" />
<line x1="493.04" y1="573.70" x2="493.04" y2="668.30" stroke="#eeeeee" stroke-width="0.7" />
<line x1="497.16" y1="573.70" x2="497.16" y2="668.30" stroke="#eeeeee" stroke-width="0.7" />
<line x1="501.28" y1="573.70" x2="501.28" y2="668.30" stroke="#eeeeee" stroke-width="0.7" />
<line x1="505.40" y1="573.70" x2="505.40" y2="668.30" stroke="#e3e3e3" stroke-width="0.7" />
<line x1="509.52" y1="573.70" x2="509.52" y2="668.30" stroke="#eeeeee" stroke-width="0.7" />
<line x1="513.64" y1="573.70" x2="513.64" y2="668.30" stroke="#eeeeee" stroke-width="0.7" />
<line x1="517.76" y1="573.70" x2="517.76" y2="668.30" stroke="#eeeeee" stroke-width="0.7" />
<line x1="521.88" y1="573.70" x2="521.88" y2="668.30" stroke="#eeeeee" stroke-width="0.7" />
<line x1="526.00" y1="573.70" x2="526.00" y2="668.30" stroke="#e3e3e3" stroke-width="0.7" />
<line x1="530.12" y1="573.70" x2="530.12" y2="668.30" stroke="#eeeeee" stroke-width="0.7" />
<line x1="534.24" y1="573.70" x2="534.24" y2="668.30" stroke="#eeeeee" stroke-width="0.7" />
<line x1="538.36" y1="573.70" x2="538.36" y2="668.30" stroke="#eeeeee" stroke-width="0.7" />
<line x1="542.48" y1="573.70" x2="542.48" y2="668.30" stroke="#eeeeee" stroke-width="0.7" />
<line x1="546.60" y1="573.70" x2="546.60" y2="668.30" stroke="#e3e3e3" stroke-width="0.7" />
<line x1="550.72" y1="573.70" x2="550.72" y2="668.30" stroke="#eeeeee" stroke-width="0.7" />
<line x1="451.90" y1="668.30" x2="551.40" y2="668.30" stroke="#e3e3e3" stroke-width="0.7" />
<line x1="451.90" y1="664.23" x2="551.40" y2="664.23" stroke="#ececec" stroke-width="0.7" />
<line x1="451.90" y1="661.85" x2="551.40" y2="661.85" stroke="#ececec" stroke-width="0.7" />
<line x1="451.90" y1="660.16" x2="551.40" y2="660.16" stroke="#ececec" stroke-width="0.7" />
<line x1="451.90" y1="658.85" x2="551.40" y2="658.85" stroke="#ececec" stroke-width="0.7" />
<line x1="451.90" y1="657.78" x2="551.40" y2="657.78" stroke="#ececec" stroke-width="0.7" />
<line x1="451.90" y1="656.88" x2="551.40" y2="656.88" stroke="#ececec" stroke-width="0.7" />
<line x1="451.90" y1="656.10" x2="551.40" y2="656.10" stroke="#ececec" stroke-width="0.7" />
<line x1="451.90" y1="655.40" x2="551.40" y2="655.40" stroke="#ececec" stroke-width="0.7" />
<line x1="451.90" y1="654.79" x2="551.40" y2="654.79" stroke="#e3e3e3" stroke-width="0.7" />
<line x1="451.90" y1="650.72" x2="551.40" y2="650.72" stroke="#ececec" stroke-width="0.7" />
<line x1="451.90" y1="648.34" x2="551.40" y2="648.34" stroke="#ececec" stroke-width="0.7" />
<line x1="451.90" y1="646.65" x2="551.40" y2="646.65" stroke="#ececec" stroke-width="0.7" />
<line x1="451.90" y1="645.34" x2="551.40" y2="645.34" stroke="#ececec" stroke-width="0.7" />
<line x1="451.90" y1="644.27" x2="551.40" y2="644.27" stroke="#ececec" stroke-width="0.7" />
<line x1="451.90" y1="643.37" x2="551.40" y2="643.37" stroke="#ececec" stroke-width="0.7" />
<line x1="451.90" y1="642.58" x2="551.40" y2="642.58" stroke="#ececec" stroke-width="0.7" />
<line x1="451.90" y1="641.89" x2="551.40" y2="641.89" stroke="#ececec" stroke-width="0.7" />
<line x1="451.90" y1="641.27" x2="551.40" y2="641.27" stroke="#e3e3e3" stroke-width="0.7" />
<line x1="451.90" y1="637.20" x2="551.40" y2="637.20" stroke="#ececec" stroke-width="0.7" />
<line x1="451.90" y1="634.82" x2="551.40" y2="634.82" stroke="#ececec" stroke-width="0.7" />
<line x1="451.90" y1="633.14" x2="551.40" y2="633.14" stroke="#ececec" stroke-width="0.7" />
<line x1="451.90" y1="631.83" x2="551.40" y2="631.83" stroke="#ececec" stroke-width="0.7" />
<line x1="451.90" y1="630.76" x2="551.40" y2="630.76" stroke="#ececec" stroke-width="0.7" />
<line x1="451.90" y1="629.85" x2="551.40" y2="629.85" stroke="#ececec" stroke-width="0.7" />
<line x1="451.90" y1="629.07" x2="551.40" y2="629.07" stroke="#ececec" stroke-width="0.7" />
<line x1="451.90" y1="628.38" x2="551.40" y2="628.38" stroke="#ececec" stroke-width="0.7" />
<line x1="451.90" y1="627.76" x2="551.40" y2="627.76" stroke="#e3e3e3" stroke-width="0.7" />
<line x1="451.90" y1="623.69" x2="551.40" y2="623.69" stroke="#ececec" stroke-width="0.7" />
<line x1="451.90" y1="621.31" x2="551.40" y2="621.31" stroke="#ececec" stroke-width="0.7" />
<line x1="451.90" y1="619.62" x2="551.40" y2="619.62" stroke="#ececec" stroke-width="0.7" />
<line x1="451.90" y1="618.31" x2="551.40" y2="618.31" stroke="#ececec" stroke-width="0.7" />
<line x1="451.90" y1="617.24" x2="551.40" y2="617.24" stroke="#ececec" stroke-width="0.7" />
<line x1="451.90" y1="616.34" x2="551.40" y2="616.34" stroke="#ececec" stroke-width="0.7" />
<line x1="451.90" y1="615.55" x2="551.40" y2="615.55" stroke="#ececec" stroke-width="0.7" />
<line x1="451.90" y1="614.86" x2="551.40" y2="614.86" stroke="#ececec" stroke-width="0.7" />
<line x1="451.90" y1="614.24" x2="551.40" y2="614.24" stroke="#e3e3e3" stroke-width="0.7" />
<line x1="451.90" y1="610.18" x2="551.40" y2="610.18" stroke="#ececec" stroke-width="0.7" />
<line x1="451.90" y1="607.80" x2="551.40" y2="607.80" stroke="#ececec" stroke-width="0.7" />
<line x1="451.90" y1="606.11" x2="551.40" y2="606.11" stroke="#ececec" stroke-width="0.7" />
<line x1="451.90" y1="604.80" x2="551.40" y2="604.80" stroke="#ececec" stroke-width="0.7" />
<line x1="451.90" y1="603.73" x2="551.40" y2="603.73" stroke="#ececec" stroke-width="0.7" />
<line x1="451.90" y1="602.82" x2="551.40" y2="602.82" stroke="#ececec" stroke-width="0.7" />
<line x1="451.90" y1="602.04" x2="551.40" y2="602.04" stroke="#ececec" stroke-width="0.7" />
<line x1="451.90" y1="601.35" x2="551.40" y2="601.35" stroke="#ececec" stroke-width="0.7" />
<line x1="451.90" y1="600.73" x2="551.40" y2="600.73" stroke="#e3e3e3" stroke-width="0.7" />
<line x1="451.90" y1="596.66" x2="551.40" y2="596.66" stroke="#ececec" stroke-width="0.7" />
<line x1="451.90" y1="594.28" x2="551.40" y2="594.28" stroke="#ececec" stroke-width="0.7" />
<line x1="451.90" y1="592.59" x2="551.40" y2="592.59" stroke="#ececec" stroke-width="0.7" />
<line x1="451.90" y1="591.28" x2="551.40" y2="591.28" stroke="#ececec" stroke-width="0.7" />
<line x1="451.90" y1="590.21" x2="551.40" y2="590.21" stroke="#ececec" stroke-width="0.7" />
<line x1="451.90" y1="589.31" x2="551.40" y2="589.31" stroke="#ececec" stroke-width="0.7" />
<line x1="451.90" y1="588.53" x2="551.40" y2="588.53" stroke="#ececec" stroke-width="0.7" />
<line x1="451.90" y1="587.83" x2="551.40" y2="587.83" stroke="#ececec" stroke-width="0.7" />
<line x1="451.90" y1="587.22" x2="551.40" y2="587.22" stroke="#e3e3e3" stroke-width="0.7" />
<line x1="451.90" y1="583.15" x2="551.40" y2="583.15" stroke="#ececec" stroke-width="0.7" />
<line x1="451.90" y1="580.77" x2="551.40" y2="580.77" stroke="#ececec" stroke-width="0.7" />
<line x1="451.90" y1="579.08" x2="551.40" y2="579.08" stroke="#ececec" stroke-width="0.7" />
<line x1="451.90" y1="577.77" x2="551.40" y2="577.77" stroke="#ececec" stroke-width="0.7" />
<line x1="451.90" y1="576.70" x2="551.40" y2="576.70" stroke="#ececec" stroke-width="0.7" />
<line x1="451.90" y1="575.80" x2="551.40" y2="575.80" stroke="#ececec" stroke-width="0.7" />
<line x1="451.90" y1="575.01" x2="551.40" y2="575.01" stroke="#ececec" stroke-width="0.7" />
<line x1="451.90" y1="574.32" x2="551.40" y2="574.32" stroke="#ececec" stroke-width="0.7" />
<line x1="451.90" y1="573.70" x2="551.40" y2="573.70" stroke="#e3e3e3" stroke-width="0.7" />
<g clip-path="url(#cii)"><polyline points="456.48,584.40 469.35,584.60 495.10,585.00 546.60,585.70" fill="none" stroke="#3b8bd0" stroke-width="1.6" stroke-linejoin="round" stroke-linecap="round" stroke-dasharray="4.6 1.7"/>
<polygon points="455.38,581.54 457.57,581.54 457.57,583.31 459.34,583.31 459.34,585.49 457.57,585.49 457.57,587.26 455.38,587.26 455.38,585.49 453.62,585.49 453.62,583.31 455.38,583.31" fill="#3b8bd0"/>
<polygon points="468.26,581.74 470.44,581.74 470.44,583.51 472.21,583.51 472.21,585.69 470.44,585.69 470.44,587.46 468.26,587.46 468.26,585.69 466.49,585.69 466.49,583.51 468.26,583.51" fill="#3b8bd0"/>
<polygon points="494.01,582.14 496.19,582.14 496.19,583.91 497.96,583.91 497.96,586.09 496.19,586.09 496.19,587.86 494.01,587.86 494.01,586.09 492.24,586.09 492.24,583.91 494.01,583.91" fill="#3b8bd0"/>
<polygon points="545.51,582.84 547.69,582.84 547.69,584.61 549.46,584.61 549.46,586.79 547.69,586.79 547.69,588.56 545.51,588.56 545.51,586.79 543.74,586.79 543.74,584.61 545.51,584.61" fill="#3b8bd0"/></g>
<g clip-path="url(#cii)"><polyline points="456.48,598.30 469.35,598.00 495.10,598.20 546.60,598.30" fill="none" stroke="#3b8bd0" stroke-width="1.6" stroke-linejoin="round" stroke-linecap="round" />
<rect x="454.14" y="595.96" width="4.68" height="4.68" fill="#3b8bd0"/>
<rect x="467.01" y="595.66" width="4.68" height="4.68" fill="#3b8bd0"/>
<rect x="492.76" y="595.86" width="4.68" height="4.68" fill="#3b8bd0"/>
<rect x="544.26" y="595.96" width="4.68" height="4.68" fill="#3b8bd0"/></g>
<g clip-path="url(#cii)"><polyline points="456.48,597.20 469.35,598.60 495.10,600.00 546.60,601.00" fill="none" stroke="#ebb743" stroke-width="1.6" stroke-linejoin="round" stroke-linecap="round" stroke-dasharray="4.6 1.7"/>
<polygon points="456.48,600.19 459.47,595.12 453.49,595.12" fill="#ebb743"/>
<polygon points="469.35,601.59 472.34,596.52 466.36,596.52" fill="#ebb743"/>
<polygon points="495.10,602.99 498.09,597.92 492.11,597.92" fill="#ebb743"/>
<polygon points="546.60,603.99 549.59,598.92 543.61,598.92" fill="#ebb743"/></g>
<g clip-path="url(#cii)"><polyline points="456.48,631.70 469.35,633.20 495.10,634.70 546.60,635.50" fill="none" stroke="#ebb743" stroke-width="1.6" stroke-linejoin="round" stroke-linecap="round" />
<polygon points="456.48,628.71 459.47,633.78 453.49,633.78" fill="#ebb743"/>
<polygon points="469.35,630.21 472.34,635.28 466.36,635.28" fill="#ebb743"/>
<polygon points="495.10,631.71 498.09,636.78 492.11,636.78" fill="#ebb743"/>
<polygon points="546.60,632.51 549.59,637.58 543.61,637.58" fill="#ebb743"/></g>
<g clip-path="url(#cii)"><polyline points="456.48,643.60 469.35,646.00 495.10,648.20 546.60,651.30" fill="none" stroke="#5f8a3a" stroke-width="1.6" stroke-linejoin="round" stroke-linecap="round" />
<rect x="454.14" y="641.26" width="4.68" height="4.68" fill="#5f8a3a"/>
<rect x="467.01" y="643.66" width="4.68" height="4.68" fill="#5f8a3a"/>
<rect x="492.76" y="645.86" width="4.68" height="4.68" fill="#5f8a3a"/>
<rect x="544.26" y="648.96" width="4.68" height="4.68" fill="#5f8a3a"/></g>
<g clip-path="url(#cii)"><polyline points="456.48,619.10 469.35,622.50 495.10,624.50 546.60,627.40" fill="none" stroke="#5f8a3a" stroke-width="1.6" stroke-linejoin="round" stroke-linecap="round" stroke-dasharray="4.6 1.7"/>
<polygon points="456.48,615.85 459.21,619.10 456.48,622.35 453.75,619.10" fill="#5f8a3a"/>
<polygon points="469.35,619.25 472.08,622.50 469.35,625.75 466.62,622.50" fill="#5f8a3a"/>
<polygon points="495.10,621.25 497.83,624.50 495.10,627.75 492.37,624.50" fill="#5f8a3a"/>
<polygon points="546.60,624.15 549.33,627.40 546.60,630.65 543.87,627.40" fill="#5f8a3a"/></g>
<g clip-path="url(#cii)"><polyline points="456.48,610.50 469.35,610.50 495.10,610.50 546.60,610.50" fill="none" stroke="#e0707f" stroke-width="1.6" stroke-linejoin="round" stroke-linecap="round" />
<circle cx="456.48" cy="610.50" r="2.60" fill="#e0707f"/>
<circle cx="469.35" cy="610.50" r="2.60" fill="#e0707f"/>
<circle cx="495.10" cy="610.50" r="2.60" fill="#e0707f"/>
<circle cx="546.60" cy="610.50" r="2.60" fill="#e0707f"/></g>
<g clip-path="url(#cii)"><polyline points="456.48,618.60 469.35,618.60 495.10,618.60 546.60,618.60" fill="none" stroke="#e0707f" stroke-width="1.6" stroke-linejoin="round" stroke-linecap="round" stroke-dasharray="4.6 1.7"/>
<circle cx="456.48" cy="618.60" r="2.60" fill="#e0707f"/>
<circle cx="469.35" cy="618.60" r="2.60" fill="#e0707f"/>
<circle cx="495.10" cy="618.60" r="2.60" fill="#e0707f"/>
<circle cx="546.60" cy="618.60" r="2.60" fill="#e0707f"/></g>
<g clip-path="url(#cii)"><polyline points="456.48,621.30 469.35,621.30 495.10,621.30 546.60,621.30" fill="none" stroke="#9b4fa8" stroke-width="1.6" stroke-linejoin="round" stroke-linecap="round" />
<circle cx="456.48" cy="621.30" r="2.60" fill="#9b4fa8"/>
<circle cx="469.35" cy="621.30" r="2.60" fill="#9b4fa8"/>
<circle cx="495.10" cy="621.30" r="2.60" fill="#9b4fa8"/>
<circle cx="546.60" cy="621.30" r="2.60" fill="#9b4fa8"/></g>
<rect x="451.90" y="573.70" width="99.50" height="94.60" fill="none" stroke="#cfcfcf" stroke-width="0.8"/>
<line x1="451.90" y1="573.70" x2="451.90" y2="668.80" stroke="#222" stroke-width="1" />
<line x1="451.40" y1="668.30" x2="551.40" y2="668.30" stroke="#222" stroke-width="1" />
<line x1="464.20" y1="668.30" x2="464.20" y2="671.30" stroke="#222" stroke-width="0.8" />
<text x="464.20" y="678.10" font-size="7.92" text-anchor="middle" stroke="#000" stroke-width="0.18" textLength="11.45" lengthAdjust="spacingAndGlyphs">0.1</text>
<line x1="484.80" y1="668.30" x2="484.80" y2="671.30" stroke="#222" stroke-width="0.8" />
<text x="484.80" y="678.10" font-size="7.92" text-anchor="middle" stroke="#000" stroke-width="0.18" textLength="11.45" lengthAdjust="spacingAndGlyphs">0.2</text>
<line x1="505.40" y1="668.30" x2="505.40" y2="671.30" stroke="#222" stroke-width="0.8" />
<text x="505.40" y="678.10" font-size="7.92" text-anchor="middle" stroke="#000" stroke-width="0.18" textLength="11.45" lengthAdjust="spacingAndGlyphs">0.3</text>
<line x1="526.00" y1="668.30" x2="526.00" y2="671.30" stroke="#222" stroke-width="0.8" />
<text x="526.00" y="678.10" font-size="7.92" text-anchor="middle" stroke="#000" stroke-width="0.18" textLength="11.45" lengthAdjust="spacingAndGlyphs">0.4</text>
<line x1="546.60" y1="668.30" x2="546.60" y2="671.30" stroke="#222" stroke-width="0.8" />
<text x="546.60" y="678.10" font-size="7.92" text-anchor="middle" stroke="#000" stroke-width="0.18" textLength="11.45" lengthAdjust="spacingAndGlyphs">0.5</text>
<line x1="455.96" y1="668.30" x2="455.96" y2="670.00" stroke="#222" stroke-width="0.6" />
<line x1="460.08" y1="668.30" x2="460.08" y2="670.00" stroke="#222" stroke-width="0.6" />
<line x1="468.32" y1="668.30" x2="468.32" y2="670.00" stroke="#222" stroke-width="0.6" />
<line x1="472.44" y1="668.30" x2="472.44" y2="670.00" stroke="#222" stroke-width="0.6" />
<line x1="476.56" y1="668.30" x2="476.56" y2="670.00" stroke="#222" stroke-width="0.6" />
<line x1="480.68" y1="668.30" x2="480.68" y2="670.00" stroke="#222" stroke-width="0.6" />
<line x1="488.92" y1="668.30" x2="488.92" y2="670.00" stroke="#222" stroke-width="0.6" />
<line x1="493.04" y1="668.30" x2="493.04" y2="670.00" stroke="#222" stroke-width="0.6" />
<line x1="497.16" y1="668.30" x2="497.16" y2="670.00" stroke="#222" stroke-width="0.6" />
<line x1="501.28" y1="668.30" x2="501.28" y2="670.00" stroke="#222" stroke-width="0.6" />
<line x1="509.52" y1="668.30" x2="509.52" y2="670.00" stroke="#222" stroke-width="0.6" />
<line x1="513.64" y1="668.30" x2="513.64" y2="670.00" stroke="#222" stroke-width="0.6" />
<line x1="517.76" y1="668.30" x2="517.76" y2="670.00" stroke="#222" stroke-width="0.6" />
<line x1="521.88" y1="668.30" x2="521.88" y2="670.00" stroke="#222" stroke-width="0.6" />
<line x1="530.12" y1="668.30" x2="530.12" y2="670.00" stroke="#222" stroke-width="0.6" />
<line x1="534.24" y1="668.30" x2="534.24" y2="670.00" stroke="#222" stroke-width="0.6" />
<line x1="538.36" y1="668.30" x2="538.36" y2="670.00" stroke="#222" stroke-width="0.6" />
<line x1="542.48" y1="668.30" x2="542.48" y2="670.00" stroke="#222" stroke-width="0.6" />
<line x1="550.72" y1="668.30" x2="550.72" y2="670.00" stroke="#222" stroke-width="0.6" />
<text x="495.20" y="689.70" font-size="7.37" text-anchor="middle" stroke="#000" stroke-width="0.18" textLength="45.21" lengthAdjust="spacingAndGlyphs">Bits Per Voxel</text>
<line x1="451.90" y1="694.30" x2="551.40" y2="694.30" stroke="#222" stroke-width="0.9" />
<line x1="456.48" y1="694.30" x2="456.48" y2="696.80" stroke="#222" stroke-width="0.8" />
<text x="456.48" y="703.60" font-size="7.37" text-anchor="middle" stroke="#000" stroke-width="0.18" textLength="12.79" lengthAdjust="spacingAndGlyphs">256</text>
<line x1="469.35" y1="694.30" x2="469.35" y2="696.80" stroke="#222" stroke-width="0.8" />
<text x="469.35" y="703.60" font-size="7.37" text-anchor="middle" stroke="#000" stroke-width="0.18" textLength="12.79" lengthAdjust="spacingAndGlyphs">128</text>
<line x1="495.10" y1="694.30" x2="495.10" y2="696.80" stroke="#222" stroke-width="0.8" />
<text x="495.10" y="703.60" font-size="7.37" text-anchor="middle" stroke="#000" stroke-width="0.18" textLength="8.53" lengthAdjust="spacingAndGlyphs">64</text>
<line x1="546.60" y1="694.30" x2="546.60" y2="696.80" stroke="#222" stroke-width="0.8" />
<text x="546.60" y="703.60" font-size="7.37" text-anchor="middle" stroke="#000" stroke-width="0.18" textLength="8.53" lengthAdjust="spacingAndGlyphs">32</text>
<text x="495.20" y="712.80" font-size="7.26" text-anchor="middle" stroke="#000" stroke-width="0.18" textLength="61.87" lengthAdjust="spacingAndGlyphs">Compression Ratio</text>
<line x1="448.90" y1="668.30" x2="451.90" y2="668.30" stroke="#222" stroke-width="0.8" />
<line x1="450.20" y1="664.23" x2="451.90" y2="664.23" stroke="#222" stroke-width="0.5" />
<line x1="450.20" y1="661.85" x2="451.90" y2="661.85" stroke="#222" stroke-width="0.5" />
<line x1="450.20" y1="660.16" x2="451.90" y2="660.16" stroke="#222" stroke-width="0.5" />
<line x1="450.20" y1="658.85" x2="451.90" y2="658.85" stroke="#222" stroke-width="0.5" />
<line x1="450.20" y1="657.78" x2="451.90" y2="657.78" stroke="#222" stroke-width="0.5" />
<line x1="450.20" y1="656.88" x2="451.90" y2="656.88" stroke="#222" stroke-width="0.5" />
<line x1="450.20" y1="656.10" x2="451.90" y2="656.10" stroke="#222" stroke-width="0.5" />
<line x1="450.20" y1="655.40" x2="451.90" y2="655.40" stroke="#222" stroke-width="0.5" />
<text x="431.07" y="671.50" font-size="7.70" stroke="#000" stroke-width="0.18" textLength="8.91" lengthAdjust="spacingAndGlyphs">10</text><text x="439.98" y="668.56" font-size="5.39" stroke="#000" stroke-width="0.18" textLength="7.22" lengthAdjust="spacingAndGlyphs">−4</text>
<line x1="448.90" y1="654.79" x2="451.90" y2="654.79" stroke="#222" stroke-width="0.8" />
<line x1="450.20" y1="650.72" x2="451.90" y2="650.72" stroke="#222" stroke-width="0.5" />
<line x1="450.20" y1="648.34" x2="451.90" y2="648.34" stroke="#222" stroke-width="0.5" />
<line x1="450.20" y1="646.65" x2="451.90" y2="646.65" stroke="#222" stroke-width="0.5" />
<line x1="450.20" y1="645.34" x2="451.90" y2="645.34" stroke="#222" stroke-width="0.5" />
<line x1="450.20" y1="644.27" x2="451.90" y2="644.27" stroke="#222" stroke-width="0.5" />
<line x1="450.20" y1="643.37" x2="451.90" y2="643.37" stroke="#222" stroke-width="0.5" />
<line x1="450.20" y1="642.58" x2="451.90" y2="642.58" stroke="#222" stroke-width="0.5" />
<line x1="450.20" y1="641.89" x2="451.90" y2="641.89" stroke="#222" stroke-width="0.5" />
<text x="431.07" y="657.99" font-size="7.70" stroke="#000" stroke-width="0.18" textLength="8.91" lengthAdjust="spacingAndGlyphs">10</text><text x="439.98" y="655.05" font-size="5.39" stroke="#000" stroke-width="0.18" textLength="7.22" lengthAdjust="spacingAndGlyphs">−3</text>
<line x1="448.90" y1="641.27" x2="451.90" y2="641.27" stroke="#222" stroke-width="0.8" />
<line x1="450.20" y1="637.20" x2="451.90" y2="637.20" stroke="#222" stroke-width="0.5" />
<line x1="450.20" y1="634.82" x2="451.90" y2="634.82" stroke="#222" stroke-width="0.5" />
<line x1="450.20" y1="633.14" x2="451.90" y2="633.14" stroke="#222" stroke-width="0.5" />
<line x1="450.20" y1="631.83" x2="451.90" y2="631.83" stroke="#222" stroke-width="0.5" />
<line x1="450.20" y1="630.76" x2="451.90" y2="630.76" stroke="#222" stroke-width="0.5" />
<line x1="450.20" y1="629.85" x2="451.90" y2="629.85" stroke="#222" stroke-width="0.5" />
<line x1="450.20" y1="629.07" x2="451.90" y2="629.07" stroke="#222" stroke-width="0.5" />
<line x1="450.20" y1="628.38" x2="451.90" y2="628.38" stroke="#222" stroke-width="0.5" />
<text x="431.07" y="644.47" font-size="7.70" stroke="#000" stroke-width="0.18" textLength="8.91" lengthAdjust="spacingAndGlyphs">10</text><text x="439.98" y="641.53" font-size="5.39" stroke="#000" stroke-width="0.18" textLength="7.22" lengthAdjust="spacingAndGlyphs">−2</text>
<line x1="448.90" y1="627.76" x2="451.90" y2="627.76" stroke="#222" stroke-width="0.8" />
<line x1="450.20" y1="623.69" x2="451.90" y2="623.69" stroke="#222" stroke-width="0.5" />
<line x1="450.20" y1="621.31" x2="451.90" y2="621.31" stroke="#222" stroke-width="0.5" />
<line x1="450.20" y1="619.62" x2="451.90" y2="619.62" stroke="#222" stroke-width="0.5" />
<line x1="450.20" y1="618.31" x2="451.90" y2="618.31" stroke="#222" stroke-width="0.5" />
<line x1="450.20" y1="617.24" x2="451.90" y2="617.24" stroke="#222" stroke-width="0.5" />
<line x1="450.20" y1="616.34" x2="451.90" y2="616.34" stroke="#222" stroke-width="0.5" />
<line x1="450.20" y1="615.55" x2="451.90" y2="615.55" stroke="#222" stroke-width="0.5" />
<line x1="450.20" y1="614.86" x2="451.90" y2="614.86" stroke="#222" stroke-width="0.5" />
<text x="431.07" y="630.96" font-size="7.70" stroke="#000" stroke-width="0.18" textLength="8.91" lengthAdjust="spacingAndGlyphs">10</text><text x="439.98" y="628.02" font-size="5.39" stroke="#000" stroke-width="0.18" textLength="7.22" lengthAdjust="spacingAndGlyphs">−1</text>
<line x1="448.90" y1="614.24" x2="451.90" y2="614.24" stroke="#222" stroke-width="0.8" />
<line x1="450.20" y1="610.18" x2="451.90" y2="610.18" stroke="#222" stroke-width="0.5" />
<line x1="450.20" y1="607.80" x2="451.90" y2="607.80" stroke="#222" stroke-width="0.5" />
<line x1="450.20" y1="606.11" x2="451.90" y2="606.11" stroke="#222" stroke-width="0.5" />
<line x1="450.20" y1="604.80" x2="451.90" y2="604.80" stroke="#222" stroke-width="0.5" />
<line x1="450.20" y1="603.73" x2="451.90" y2="603.73" stroke="#222" stroke-width="0.5" />
<line x1="450.20" y1="602.82" x2="451.90" y2="602.82" stroke="#222" stroke-width="0.5" />
<line x1="450.20" y1="602.04" x2="451.90" y2="602.04" stroke="#222" stroke-width="0.5" />
<line x1="450.20" y1="601.35" x2="451.90" y2="601.35" stroke="#222" stroke-width="0.5" />
<text x="435.18" y="617.44" font-size="7.70" stroke="#000" stroke-width="0.18" textLength="8.91" lengthAdjust="spacingAndGlyphs">10</text><text x="444.08" y="614.50" font-size="5.39" stroke="#000" stroke-width="0.18" textLength="3.12" lengthAdjust="spacingAndGlyphs">0</text>
<line x1="448.90" y1="600.73" x2="451.90" y2="600.73" stroke="#222" stroke-width="0.8" />
<line x1="450.20" y1="596.66" x2="451.90" y2="596.66" stroke="#222" stroke-width="0.5" />
<line x1="450.20" y1="594.28" x2="451.90" y2="594.28" stroke="#222" stroke-width="0.5" />
<line x1="450.20" y1="592.59" x2="451.90" y2="592.59" stroke="#222" stroke-width="0.5" />
<line x1="450.20" y1="591.28" x2="451.90" y2="591.28" stroke="#222" stroke-width="0.5" />
<line x1="450.20" y1="590.21" x2="451.90" y2="590.21" stroke="#222" stroke-width="0.5" />
<line x1="450.20" y1="589.31" x2="451.90" y2="589.31" stroke="#222" stroke-width="0.5" />
<line x1="450.20" y1="588.53" x2="451.90" y2="588.53" stroke="#222" stroke-width="0.5" />
<line x1="450.20" y1="587.83" x2="451.90" y2="587.83" stroke="#222" stroke-width="0.5" />
<text x="435.18" y="603.93" font-size="7.70" stroke="#000" stroke-width="0.18" textLength="8.91" lengthAdjust="spacingAndGlyphs">10</text><text x="444.08" y="600.99" font-size="5.39" stroke="#000" stroke-width="0.18" textLength="3.12" lengthAdjust="spacingAndGlyphs">1</text>
<line x1="448.90" y1="587.22" x2="451.90" y2="587.22" stroke="#222" stroke-width="0.8" />
<line x1="450.20" y1="583.15" x2="451.90" y2="583.15" stroke="#222" stroke-width="0.5" />
<line x1="450.20" y1="580.77" x2="451.90" y2="580.77" stroke="#222" stroke-width="0.5" />
<line x1="450.20" y1="579.08" x2="451.90" y2="579.08" stroke="#222" stroke-width="0.5" />
<line x1="450.20" y1="577.77" x2="451.90" y2="577.77" stroke="#222" stroke-width="0.5" />
<line x1="450.20" y1="576.70" x2="451.90" y2="576.70" stroke="#222" stroke-width="0.5" />
<line x1="450.20" y1="575.80" x2="451.90" y2="575.80" stroke="#222" stroke-width="0.5" />
<line x1="450.20" y1="575.01" x2="451.90" y2="575.01" stroke="#222" stroke-width="0.5" />
<line x1="450.20" y1="574.32" x2="451.90" y2="574.32" stroke="#222" stroke-width="0.5" />
<text x="435.18" y="590.42" font-size="7.70" stroke="#000" stroke-width="0.18" textLength="8.91" lengthAdjust="spacingAndGlyphs">10</text><text x="444.08" y="587.48" font-size="5.39" stroke="#000" stroke-width="0.18" textLength="3.12" lengthAdjust="spacingAndGlyphs">2</text>
<line x1="448.90" y1="573.70" x2="451.90" y2="573.70" stroke="#222" stroke-width="0.8" />
<text x="435.18" y="576.90" font-size="7.70" stroke="#000" stroke-width="0.18" textLength="8.91" lengthAdjust="spacingAndGlyphs">10</text><text x="444.08" y="573.96" font-size="5.39" stroke="#000" stroke-width="0.18" textLength="3.12" lengthAdjust="spacingAndGlyphs">3</text>
<g transform="translate(419.80 621.80) rotate(-90)"><text x="-46.50" y="0" font-size="8.25" stroke="#000" stroke-width="0.18" textLength="86.72" lengthAdjust="spacingAndGlyphs">Encoding Speed (MB/s)</text><path d="M43.36,0.45 V-4.26" stroke="#000" stroke-width="0.75"/><path d="M41.56,-3.30 L43.36,-5.70 L45.16,-3.30 Z" fill="#000"/></g>
<text x="427.70" y="621.80" font-size="8.72" text-anchor="middle" stroke="#000" stroke-width="0.18" textLength="44.20" lengthAdjust="spacingAndGlyphs" transform="rotate(-90 427.70 621.80)">(Log Scale)</text>
<rect x="75.6" y="718.6" width="410.5" height="12" rx="1.8" fill="#fff" stroke="#d6d6d6" stroke-width="0.8"/>
<line x1="77.90" y1="723.60" x2="90.40" y2="723.60" stroke="#3b8bd0" stroke-width="1.5" />
<polygon points="83.27,721.29 85.03,721.29 85.03,722.72 86.46,722.72 86.46,724.48 85.03,724.48 85.03,725.91 83.27,725.91 83.27,724.48 81.84,724.48 81.84,722.72 83.27,722.72" fill="#3b8bd0"/>
<text x="95.40" y="726.00" font-size="6.82" stroke="#000" stroke-width="0.18" textLength="14.29" lengthAdjust="spacingAndGlyphs">JPEG</text>
<line x1="120.80" y1="723.60" x2="133.30" y2="723.60" stroke="#3b8bd0" stroke-width="1.5" />
<rect x="125.16" y="721.71" width="3.78" height="3.78" fill="#3b8bd0"/>
<text x="138.30" y="726.00" font-size="6.82" stroke="#000" stroke-width="0.18" textLength="30.07" lengthAdjust="spacingAndGlyphs">JPEG2000</text>
<line x1="180.50" y1="723.60" x2="193.00" y2="723.60" stroke="#ebb743" stroke-width="1.5" />
<polygon points="186.75,726.01 189.16,721.92 184.34,721.92" fill="#ebb743"/>
<text x="198.60" y="726.00" font-size="6.82" stroke="#000" stroke-width="0.18" textLength="17.15" lengthAdjust="spacingAndGlyphs">HEVC</text>
<line x1="227.10" y1="723.60" x2="239.60" y2="723.60" stroke="#ebb743" stroke-width="1.5" />
<polygon points="233.35,721.19 235.76,725.28 230.94,725.28" fill="#ebb743"/>
<text x="245.20" y="726.00" font-size="6.82" stroke="#000" stroke-width="0.18" textLength="12.81" lengthAdjust="spacingAndGlyphs">VVC</text>
<line x1="269.30" y1="723.60" x2="281.80" y2="723.60" stroke="#5f8a3a" stroke-width="1.5" />
<rect x="273.66" y="721.71" width="3.78" height="3.78" fill="#5f8a3a"/>
<text x="287.40" y="726.00" font-size="6.82" stroke="#000" stroke-width="0.18" textLength="17.87" lengthAdjust="spacingAndGlyphs">BRIEF</text>
<line x1="316.10" y1="723.60" x2="328.60" y2="723.60" stroke="#5f8a3a" stroke-width="1.5" />
<polygon points="322.35,720.98 324.56,723.60 322.35,726.23 320.15,723.60" fill="#5f8a3a"/>
<text x="334.50" y="726.00" font-size="6.82" stroke="#000" stroke-width="0.18" textLength="17.46" lengthAdjust="spacingAndGlyphs">3DGS</text>
<line x1="364.40" y1="723.60" x2="376.90" y2="723.60" stroke="#e0707f" stroke-width="1.5" />
<circle cx="370.65" cy="723.60" r="2.10" fill="#e0707f"/>
<text x="381.40" y="726.00" font-size="6.82" stroke="#000" stroke-width="0.18" textLength="13.24" lengthAdjust="spacingAndGlyphs">DVC</text>
<line x1="406.60" y1="723.60" x2="419.10" y2="723.60" stroke="#e0707f" stroke-width="1.5" />
<circle cx="412.85" cy="723.60" r="2.10" fill="#e0707f"/>
<text x="424.00" y="726.00" font-size="6.82" stroke="#000" stroke-width="0.18" textLength="13.10" lengthAdjust="spacingAndGlyphs">TCM</text>
<line x1="449.50" y1="723.60" x2="462.00" y2="723.60" stroke="#9b4fa8" stroke-width="1.5" />
<circle cx="455.75" cy="723.60" r="2.10" fill="#9b4fa8"/>
<text x="467.00" y="726.00" font-size="6.82" stroke="#000" stroke-width="0.18" textLength="17.66" lengthAdjust="spacingAndGlyphs">OURS</text>
</svg></body></html>
